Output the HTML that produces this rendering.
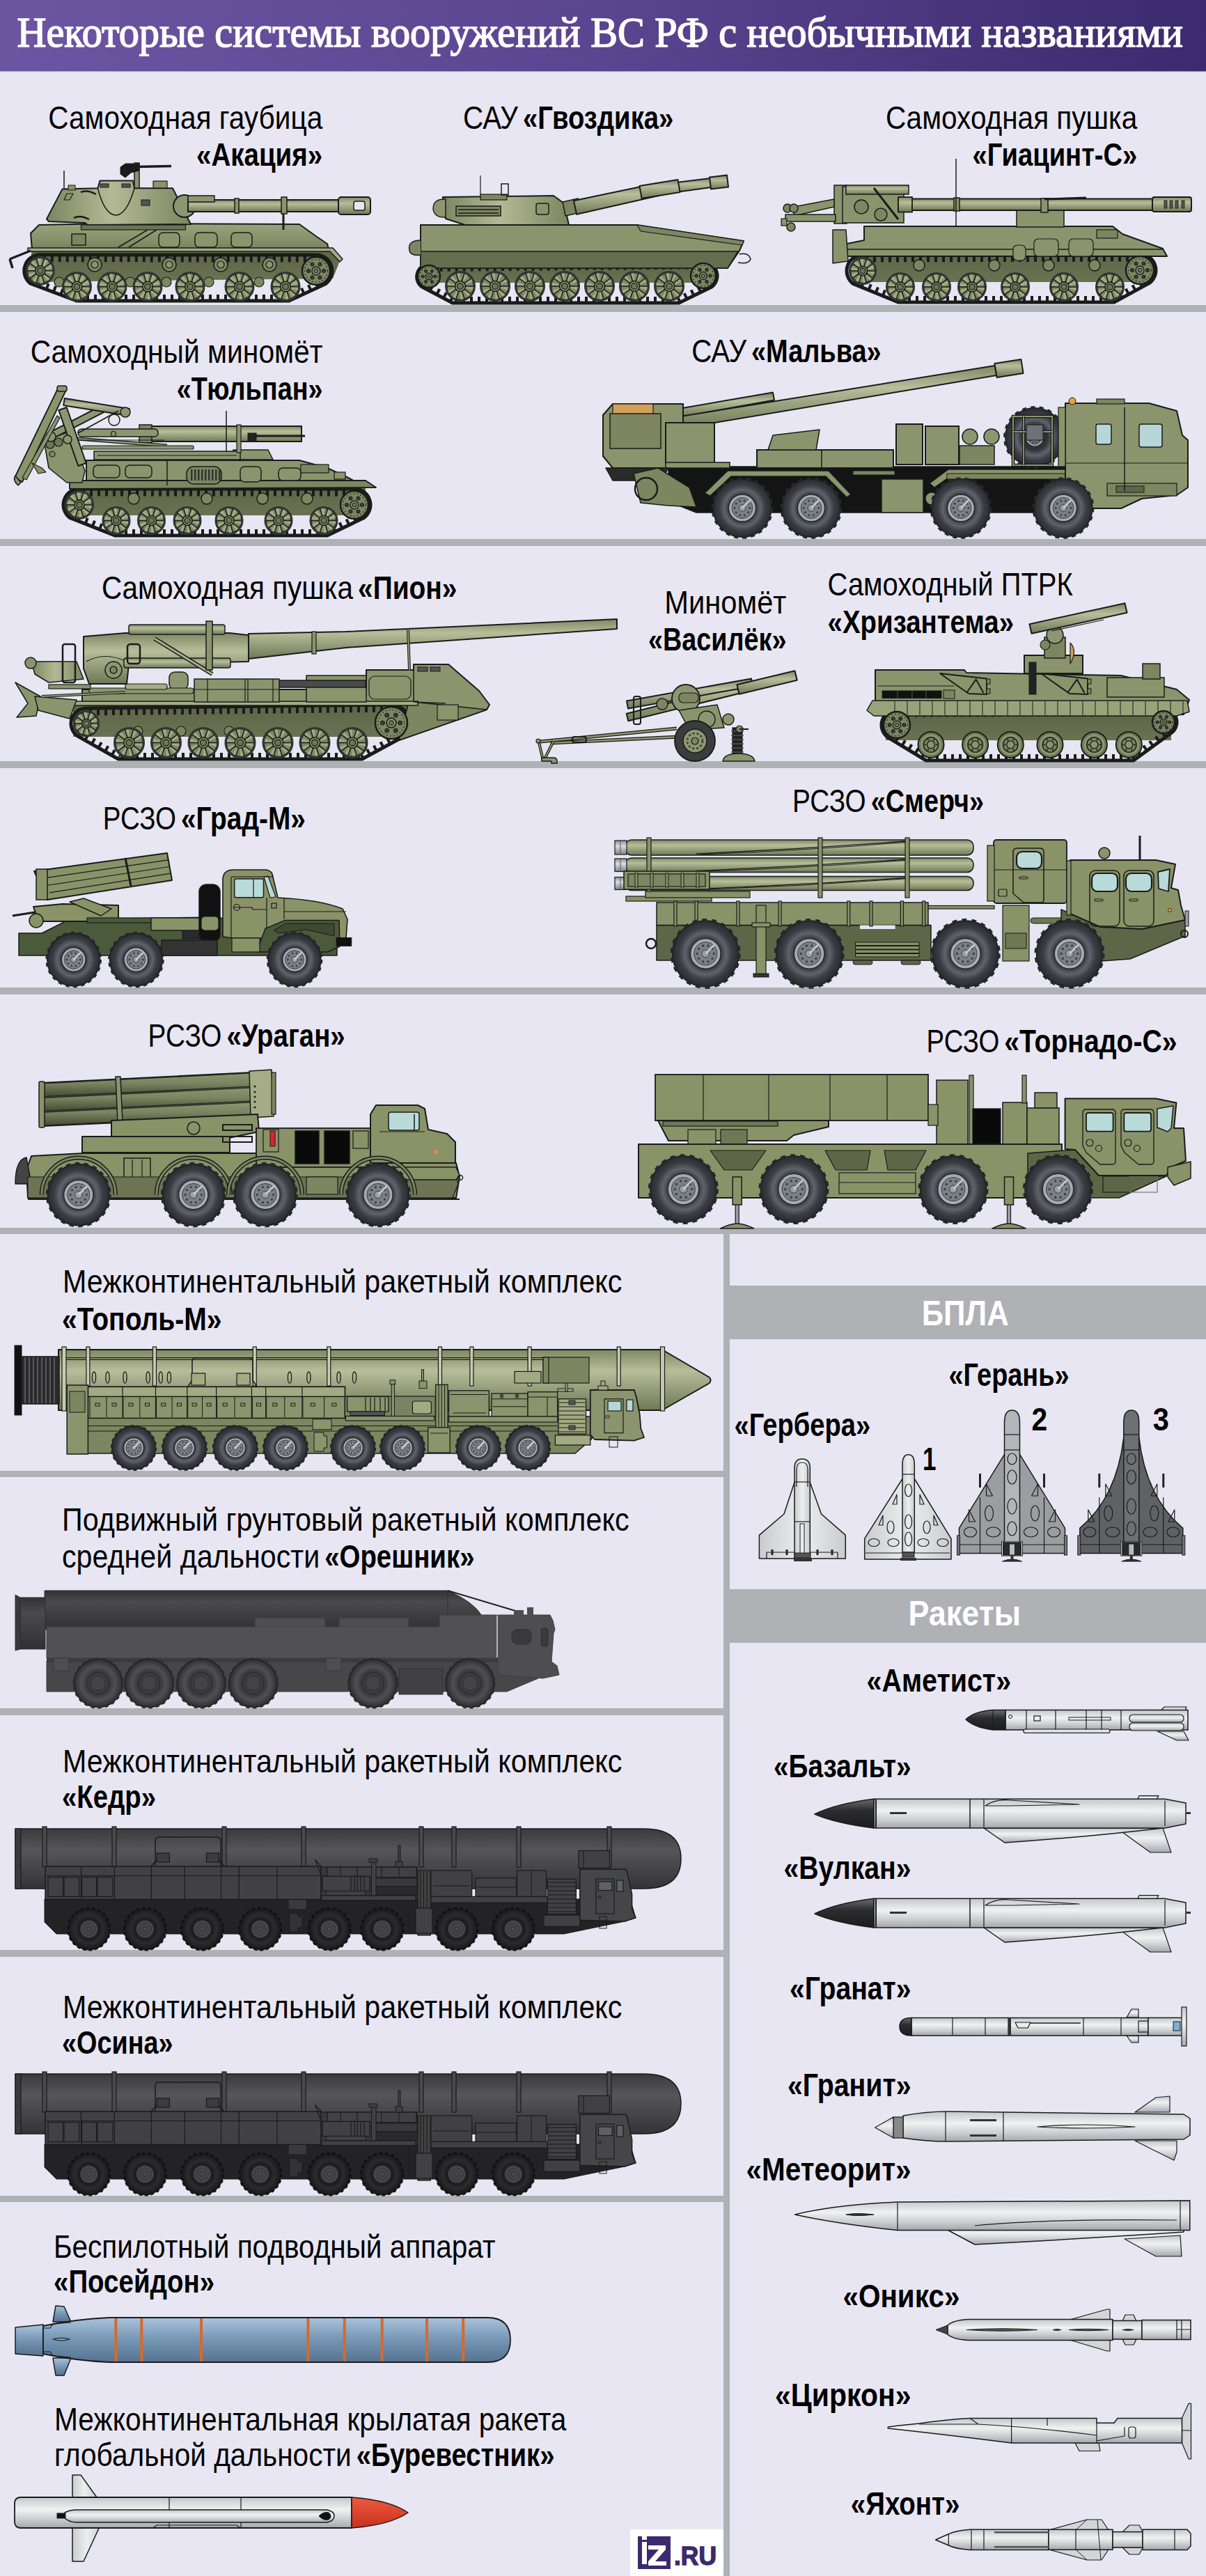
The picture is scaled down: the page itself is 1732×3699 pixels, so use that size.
<!DOCTYPE html><html><head><meta charset="utf-8"><title>Некоторые системы вооружений ВС РФ</title>
<style>html,body{margin:0;padding:0;background:#e8e6f2;}body{width:1732px;height:3699px;overflow:hidden;}svg{display:block;}text{font-family:"Liberation Sans",sans-serif;}.serif{font-family:"Liberation Serif",serif;}</style></head><body>
<svg width="1732" height="3699" viewBox="0 0 1732 3699">
<defs>
<linearGradient id="hdr" x1="0" y1="0" x2="1" y2="0">
<stop offset="0" stop-color="#6c56a2"/><stop offset="0.5" stop-color="#5a4590"/><stop offset="1" stop-color="#3b2a6e"/>
</linearGradient>


<linearGradient id="trk" x1="0" y1="0" x2="0" y2="1">
<stop offset="0" stop-color="#5e6446"/><stop offset="1" stop-color="#6b7252"/>
</linearGradient>
<linearGradient id="tube" x1="0" y1="0" x2="0" y2="1">
<stop offset="0" stop-color="#8e966d"/><stop offset="0.45" stop-color="#7a8260"/><stop offset="1" stop-color="#454b33"/>
</linearGradient>
<linearGradient id="metal" x1="0" y1="0" x2="0" y2="1">
<stop offset="0" stop-color="#8e9196"/><stop offset="0.4" stop-color="#d9dbdd"/><stop offset="1" stop-color="#7d8085"/>
</linearGradient>
<radialGradient id="tireb" cx="0.5" cy="0.5" r="0.5">
<stop offset="0" stop-color="#1d1d1f"/><stop offset="0.5" stop-color="#1d1d1f"/><stop offset="0.68" stop-color="#2c2c2e"/>
<stop offset="1" stop-color="#18181a"/>
</radialGradient>
<linearGradient id="olv" x1="0" y1="0" x2="0" y2="1">
<stop offset="0" stop-color="#9aa27a"/><stop offset="0.5" stop-color="#8b946c"/><stop offset="1" stop-color="#7a8360"/>
</linearGradient>
<linearGradient id="olh" x1="0" y1="0" x2="1" y2="0">
<stop offset="0" stop-color="#7d8660"/><stop offset="0.45" stop-color="#b3b994"/><stop offset="1" stop-color="#7d8660"/>
</linearGradient>
<linearGradient id="barrel" x1="0" y1="0" x2="0" y2="1">
<stop offset="0" stop-color="#7f8862"/><stop offset="0.35" stop-color="#b8bd9a"/><stop offset="1" stop-color="#6f7855"/>
</linearGradient>
<radialGradient id="tire" cx="0.5" cy="0.5" r="0.5">
<stop offset="0" stop-color="#2e3136"/><stop offset="0.42" stop-color="#2e3136"/><stop offset="0.62" stop-color="#5f636b"/>
<stop offset="0.8" stop-color="#393c42"/><stop offset="1" stop-color="#2a2c30"/>
</radialGradient>
<radialGradient id="tired" cx="0.5" cy="0.5" r="0.5">
<stop offset="0" stop-color="#3a3a3c"/><stop offset="0.5" stop-color="#3a3a3c"/><stop offset="0.7" stop-color="#505052"/>
<stop offset="1" stop-color="#2e2e30"/>
</radialGradient>
<linearGradient id="dcan" x1="0" y1="0" x2="0" y2="1">
<stop offset="0" stop-color="#333335"/><stop offset="0.3" stop-color="#4a4a4c"/><stop offset="1" stop-color="#313133"/>
</linearGradient>
<linearGradient id="dcan2" x1="0" y1="0" x2="0" y2="1">
<stop offset="0" stop-color="#3a3a3c"/><stop offset="0.35" stop-color="#565658"/><stop offset="1" stop-color="#343436"/>
</linearGradient>
<linearGradient id="mis" x1="0" y1="0" x2="0" y2="1">
<stop offset="0" stop-color="#c4c7ca"/><stop offset="0.4" stop-color="#eff1f2"/><stop offset="0.7" stop-color="#cdd0d3"/><stop offset="1" stop-color="#a4a7ab"/>
</linearGradient>
<linearGradient id="pos" x1="0" y1="0" x2="0" y2="1">
<stop offset="0" stop-color="#a9c3dc"/><stop offset="0.5" stop-color="#7595b4"/><stop offset="1" stop-color="#56738f"/>
</linearGradient>
<linearGradient id="nose" x1="0" y1="0" x2="0" y2="1">
<stop offset="0" stop-color="#ef5a3c"/><stop offset="1" stop-color="#c8301f"/>
</linearGradient>
<linearGradient id="dnose" x1="0" y1="0" x2="0" y2="1">
<stop offset="0" stop-color="#6a6b6e"/><stop offset="0.4" stop-color="#2c2c2e"/><stop offset="1" stop-color="#1c1c1e"/>
</linearGradient>
<linearGradient id="drl" x1="0" y1="0" x2="1" y2="0">
<stop offset="0" stop-color="#c9cbce"/><stop offset="0.5" stop-color="#eceeef"/><stop offset="1" stop-color="#c9cbce"/>
</linearGradient>

</defs>
<rect x="0" y="0" width="1732" height="3699" fill="#e8e6f2"/>
<rect x="0" y="0" width="1732" height="102.5" fill="url(#hdr)"/>
<text class="serif" x="24.5" y="67.2" font-size="62" font-weight="normal" fill="#fff" stroke="#fff" stroke-width="1.6" textLength="1674.5" lengthAdjust="spacingAndGlyphs" style="font-family:'Liberation Serif',serif">Некоторые системы вооружений ВС РФ с необычными названиями</text>
<rect x="0" y="438" width="1732" height="10" fill="#b0b1b5"/>
<rect x="0" y="774" width="1732" height="10" fill="#b0b1b5"/>
<rect x="0" y="1093" width="1732" height="10" fill="#b0b1b5"/>
<rect x="0" y="1418" width="1732" height="10" fill="#b0b1b5"/>
<rect x="0" y="1763" width="1732" height="9" fill="#b0b1b5"/>
<rect x="0" y="2112" width="1044" height="9" fill="#b0b1b5"/>
<rect x="0" y="2453" width="1044" height="10" fill="#b0b1b5"/>
<rect x="0" y="2800" width="1044" height="10" fill="#b0b1b5"/>
<rect x="0" y="3153" width="1044" height="9" fill="#b0b1b5"/>
<rect x="1039" y="1763" width="9" height="1936" fill="#b0b1b5"/>
<rect x="1048" y="1846" width="684" height="77" fill="#b0b1b5"/>
<rect x="1048" y="2282" width="684" height="77" fill="#b0b1b5"/>
<text x="1323.7" y="1902.6" font-size="50" fill="#fff" textLength="125.0" lengthAdjust="spacingAndGlyphs"><tspan font-weight="bold">БПЛА</tspan></text>
<text x="1304.5" y="2334.3" font-size="50" fill="#fff" textLength="161.6" lengthAdjust="spacingAndGlyphs"><tspan font-weight="bold">Ракеты</tspan></text>
<g id="akatsiya"><path d="M45,359 L478,359 L488,375 L478,400 L45,405 Z" fill="url(#trk)" stroke="none" stroke-width="0" stroke-linejoin="round" /><line x1="61.8" y1="371.8" x2="450" y2="372" stroke="#1b1b1b" stroke-width="9" stroke-dasharray="4 7"/><line x1="113" y1="427" x2="412" y2="427" stroke="#1b1b1b" stroke-width="8" stroke-dasharray="4 7"/><line x1="45.8" y1="402.5" x2="111.8" y2="427.3" stroke="#1b1b1b" stroke-width="8" stroke-dasharray="4 7"/><line x1="412.9" y1="427.5" x2="465.7" y2="402.9" stroke="#1b1b1b" stroke-width="8" stroke-dasharray="4 7"/><path d="M57.8,365.8 L454,366 A23,23 0 0 1 467.8,407.4 L415,432 L110,432 L44,407.2 A23,23 0 0 1 57.8,365.8 Z" fill="none" stroke="#1b1b1b" stroke-width="5" stroke-linejoin="round" /><polygon points="56,323 150,321 430,322 455,340 470,350 472,358 46,358 44,335" fill="url(#olv)" stroke="#1b1b1b" stroke-width="2" stroke-linejoin="round" /><polygon points="40,356 478,356 492,372 488,376 474,361 40,361" fill="#a6ad86" stroke="#1b1b1b" stroke-width="1.5" stroke-linejoin="round" /><line x1="14" y1="372" x2="44" y2="360" stroke="#1b1b1b" stroke-width="3.5" /><line x1="14" y1="372" x2="18" y2="385" stroke="#1b1b1b" stroke-width="3.5" /><rect x="103" y="336" width="20" height="16" rx="0" fill="#7d8660" stroke="#1b1b1b" stroke-width="1.5" /><rect x="228" y="334" width="30" height="21" rx="6" fill="#8b946c" stroke="#1b1b1b" stroke-width="1.5" /><rect x="280" y="334" width="32" height="21" rx="6" fill="#8b946c" stroke="#1b1b1b" stroke-width="1.5" /><rect x="332" y="334" width="30" height="21" rx="6" fill="#8b946c" stroke="#1b1b1b" stroke-width="1.5" /><line x1="170" y1="355" x2="212" y2="330" stroke="#1b1b1b" stroke-width="1.5" /><line x1="185" y1="355" x2="225" y2="330" stroke="#1b1b1b" stroke-width="1.5" /><polygon points="67,314.5 89.6,271.4 140.3,270.3 143.5,259.5 191,259.5 193,270.3 248,270.3 274,322 126,323 122,320 70,318" fill="url(#olh)" stroke="#1b1b1b" stroke-width="2" stroke-linejoin="round" /><path d="M140.3,270.3 Q150,308 166,309 Q182,309 193,270.3" fill="none" stroke="#1b1b1b" stroke-width="1.5" stroke-linejoin="round" /><rect x="203" y="287" width="12" height="8" rx="0" fill="#555" stroke="#1b1b1b" stroke-width="1" /><path d="M116,276 Q125,272 138,279" fill="none" stroke="#1b1b1b" stroke-width="2.5" stroke-linejoin="round" /><path d="M106,313 Q115,308 128,315" fill="none" stroke="#1b1b1b" stroke-width="2.5" stroke-linejoin="round" /><polygon points="96,278 105,278 100,287 92,287" fill="none" stroke="#1b1b1b" stroke-width="1.2" stroke-linejoin="round" /><rect x="144" y="264" width="12" height="5" rx="0" fill="#555" stroke="#1b1b1b" stroke-width="1" /><rect x="175" y="264" width="12" height="5" rx="0" fill="#555" stroke="#1b1b1b" stroke-width="1" /><rect x="116.5" y="323" width="150" height="7" rx="0" fill="#6d7353" stroke="#1b1b1b" stroke-width="1.2" /><circle cx="265" cy="296" r="16" fill="#8d9670" stroke="#1b1b1b" stroke-width="2" /><rect x="270" y="287" width="220" height="17" rx="0" fill="url(#barrel)" stroke="#1b1b1b" stroke-width="2" /><rect x="270" y="281" width="38" height="9" rx="0" fill="#8d9670" stroke="#1b1b1b" stroke-width="1.5" /><rect x="337" y="285" width="6" height="21" rx="0" fill="#8b946c" stroke="#1b1b1b" stroke-width="1.5" /><rect x="404" y="283" width="8" height="24" rx="0" fill="#8b946c" stroke="#1b1b1b" stroke-width="1.5" /><rect x="486" y="283" width="46" height="25" rx="4" fill="url(#barrel)" stroke="#1b1b1b" stroke-width="2" /><rect x="508" y="289" width="16" height="13" rx="3" fill="#e8e6f2" stroke="#1b1b1b" stroke-width="1.5" /><line x1="407" y1="307" x2="407" y2="330" stroke="#1b1b1b" stroke-width="3" /><rect x="193" y="234" width="7" height="36" rx="0" fill="#8b946c" stroke="#1b1b1b" stroke-width="1.5" /><path d="M173,240 L180,235 L200,235 L200,245 L188,248 L180,255 L173,250 Z" fill="#1a1a1a" stroke="#1b1b1b" stroke-width="1" stroke-linejoin="round" /><line x1="195" y1="239.5" x2="246" y2="238.5" stroke="#1b1b1b" stroke-width="3.5" /><rect x="220" y="260" width="20" height="10" rx="0" fill="#8b946c" stroke="#1b1b1b" stroke-width="1.2" /><line x1="92" y1="245" x2="92" y2="272" stroke="#1b1b1b" stroke-width="1.5" /><rect x="98" y="266" width="10" height="7" rx="0" fill="#8b946c" stroke="#1b1b1b" stroke-width="1" /><circle cx="57.8" cy="388.8" r="19.2" fill="#7f8862" stroke="#333436" stroke-width="3.6" /><circle cx="57.8" cy="388.8" r="12.6" fill="none" stroke="#a3aa82" stroke-width="10.5" stroke-dasharray="4 4"/><line x1="64.9" y1="388.8" x2="76.3" y2="388.8" stroke="#1e1e1e" stroke-width="1.6" /><line x1="63.6" y1="393" x2="72.8" y2="399.7" stroke="#1e1e1e" stroke-width="1.6" /><line x1="60" y1="395.6" x2="63.5" y2="406.4" stroke="#1e1e1e" stroke-width="1.6" /><line x1="55.6" y1="395.6" x2="52.1" y2="406.4" stroke="#1e1e1e" stroke-width="1.6" /><line x1="52" y1="393" x2="42.8" y2="399.7" stroke="#1e1e1e" stroke-width="1.6" /><line x1="50.7" y1="388.8" x2="39.3" y2="388.8" stroke="#1e1e1e" stroke-width="1.6" /><line x1="52" y1="384.6" x2="42.8" y2="377.9" stroke="#1e1e1e" stroke-width="1.6" /><line x1="55.6" y1="382" x2="52.1" y2="371.2" stroke="#1e1e1e" stroke-width="1.6" /><line x1="60" y1="382" x2="63.5" y2="371.2" stroke="#1e1e1e" stroke-width="1.6" /><line x1="63.6" y1="384.6" x2="72.8" y2="377.9" stroke="#1e1e1e" stroke-width="1.6" /><circle cx="57.8" cy="388.8" r="7.1" fill="#8b946c" stroke="#1b1b1b" stroke-width="1.6" /><circle cx="57.8" cy="388.8" r="4.2" fill="#6e7655" stroke="#1b1b1b" stroke-width="1.3" /><circle cx="136" cy="380" r="10" fill="#7d8660" stroke="#1b1b1b" stroke-width="1.5" /><circle cx="136" cy="380" r="5" fill="#8b946c" stroke="#1b1b1b" stroke-width="1.2" /><circle cx="243" cy="380" r="10" fill="#7d8660" stroke="#1b1b1b" stroke-width="1.5" /><circle cx="243" cy="380" r="5" fill="#8b946c" stroke="#1b1b1b" stroke-width="1.2" /><circle cx="317" cy="380" r="10" fill="#7d8660" stroke="#1b1b1b" stroke-width="1.5" /><circle cx="317" cy="380" r="5" fill="#8b946c" stroke="#1b1b1b" stroke-width="1.2" /><circle cx="387" cy="380" r="10" fill="#7d8660" stroke="#1b1b1b" stroke-width="1.5" /><circle cx="387" cy="380" r="5" fill="#8b946c" stroke="#1b1b1b" stroke-width="1.2" /><circle cx="85" cy="405" r="7" fill="#7d8660" stroke="#1b1b1b" stroke-width="1.2" /><circle cx="187" cy="405" r="7" fill="#7d8660" stroke="#1b1b1b" stroke-width="1.2" /><circle cx="239" cy="405" r="7" fill="#7d8660" stroke="#1b1b1b" stroke-width="1.2" /><circle cx="300" cy="405" r="7" fill="#7d8660" stroke="#1b1b1b" stroke-width="1.2" /><circle cx="372" cy="405" r="7" fill="#7d8660" stroke="#1b1b1b" stroke-width="1.2" /><circle cx="110.5" cy="411.6" r="19.7" fill="#7f8862" stroke="#333436" stroke-width="3.6" /><circle cx="110.5" cy="411.6" r="12.9" fill="none" stroke="#a3aa82" stroke-width="10.75" stroke-dasharray="4.1 4.1"/><line x1="117.8" y1="411.6" x2="129.4" y2="411.6" stroke="#1e1e1e" stroke-width="1.6" /><line x1="116.4" y1="415.9" x2="125.8" y2="422.7" stroke="#1e1e1e" stroke-width="1.6" /><line x1="112.8" y1="418.6" x2="116.3" y2="429.6" stroke="#1e1e1e" stroke-width="1.6" /><line x1="108.2" y1="418.6" x2="104.7" y2="429.6" stroke="#1e1e1e" stroke-width="1.6" /><line x1="104.6" y1="415.9" x2="95.2" y2="422.7" stroke="#1e1e1e" stroke-width="1.6" /><line x1="103.2" y1="411.6" x2="91.6" y2="411.6" stroke="#1e1e1e" stroke-width="1.6" /><line x1="104.6" y1="407.3" x2="95.2" y2="400.5" stroke="#1e1e1e" stroke-width="1.6" /><line x1="108.2" y1="404.6" x2="104.7" y2="393.6" stroke="#1e1e1e" stroke-width="1.6" /><line x1="112.8" y1="404.6" x2="116.3" y2="393.6" stroke="#1e1e1e" stroke-width="1.6" /><line x1="116.4" y1="407.3" x2="125.8" y2="400.5" stroke="#1e1e1e" stroke-width="1.6" /><circle cx="110.5" cy="411.6" r="7.3" fill="#8b946c" stroke="#1b1b1b" stroke-width="1.6" /><circle cx="110.5" cy="411.6" r="4.3" fill="#6e7655" stroke="#1b1b1b" stroke-width="1.3" /><circle cx="161" cy="411.6" r="19.7" fill="#7f8862" stroke="#333436" stroke-width="3.6" /><circle cx="161" cy="411.6" r="12.9" fill="none" stroke="#a3aa82" stroke-width="10.75" stroke-dasharray="4.1 4.1"/><line x1="168.3" y1="411.6" x2="179.9" y2="411.6" stroke="#1e1e1e" stroke-width="1.6" /><line x1="166.9" y1="415.9" x2="176.3" y2="422.7" stroke="#1e1e1e" stroke-width="1.6" /><line x1="163.3" y1="418.6" x2="166.8" y2="429.6" stroke="#1e1e1e" stroke-width="1.6" /><line x1="158.7" y1="418.6" x2="155.2" y2="429.6" stroke="#1e1e1e" stroke-width="1.6" /><line x1="155.1" y1="415.9" x2="145.7" y2="422.7" stroke="#1e1e1e" stroke-width="1.6" /><line x1="153.7" y1="411.6" x2="142.1" y2="411.6" stroke="#1e1e1e" stroke-width="1.6" /><line x1="155.1" y1="407.3" x2="145.7" y2="400.5" stroke="#1e1e1e" stroke-width="1.6" /><line x1="158.7" y1="404.6" x2="155.2" y2="393.6" stroke="#1e1e1e" stroke-width="1.6" /><line x1="163.3" y1="404.6" x2="166.8" y2="393.6" stroke="#1e1e1e" stroke-width="1.6" /><line x1="166.9" y1="407.3" x2="176.3" y2="400.5" stroke="#1e1e1e" stroke-width="1.6" /><circle cx="161" cy="411.6" r="7.3" fill="#8b946c" stroke="#1b1b1b" stroke-width="1.6" /><circle cx="161" cy="411.6" r="4.3" fill="#6e7655" stroke="#1b1b1b" stroke-width="1.3" /><circle cx="212" cy="411.6" r="19.7" fill="#7f8862" stroke="#333436" stroke-width="3.6" /><circle cx="212" cy="411.6" r="12.9" fill="none" stroke="#a3aa82" stroke-width="10.75" stroke-dasharray="4.1 4.1"/><line x1="219.3" y1="411.6" x2="230.9" y2="411.6" stroke="#1e1e1e" stroke-width="1.6" /><line x1="217.9" y1="415.9" x2="227.3" y2="422.7" stroke="#1e1e1e" stroke-width="1.6" /><line x1="214.3" y1="418.6" x2="217.8" y2="429.6" stroke="#1e1e1e" stroke-width="1.6" /><line x1="209.7" y1="418.6" x2="206.2" y2="429.6" stroke="#1e1e1e" stroke-width="1.6" /><line x1="206.1" y1="415.9" x2="196.7" y2="422.7" stroke="#1e1e1e" stroke-width="1.6" /><line x1="204.7" y1="411.6" x2="193.1" y2="411.6" stroke="#1e1e1e" stroke-width="1.6" /><line x1="206.1" y1="407.3" x2="196.7" y2="400.5" stroke="#1e1e1e" stroke-width="1.6" /><line x1="209.7" y1="404.6" x2="206.2" y2="393.6" stroke="#1e1e1e" stroke-width="1.6" /><line x1="214.3" y1="404.6" x2="217.8" y2="393.6" stroke="#1e1e1e" stroke-width="1.6" /><line x1="217.9" y1="407.3" x2="227.3" y2="400.5" stroke="#1e1e1e" stroke-width="1.6" /><circle cx="212" cy="411.6" r="7.3" fill="#8b946c" stroke="#1b1b1b" stroke-width="1.6" /><circle cx="212" cy="411.6" r="4.3" fill="#6e7655" stroke="#1b1b1b" stroke-width="1.3" /><circle cx="273" cy="411.6" r="19.7" fill="#7f8862" stroke="#333436" stroke-width="3.6" /><circle cx="273" cy="411.6" r="12.9" fill="none" stroke="#a3aa82" stroke-width="10.75" stroke-dasharray="4.1 4.1"/><line x1="280.3" y1="411.6" x2="291.9" y2="411.6" stroke="#1e1e1e" stroke-width="1.6" /><line x1="278.9" y1="415.9" x2="288.3" y2="422.7" stroke="#1e1e1e" stroke-width="1.6" /><line x1="275.3" y1="418.6" x2="278.8" y2="429.6" stroke="#1e1e1e" stroke-width="1.6" /><line x1="270.7" y1="418.6" x2="267.2" y2="429.6" stroke="#1e1e1e" stroke-width="1.6" /><line x1="267.1" y1="415.9" x2="257.7" y2="422.7" stroke="#1e1e1e" stroke-width="1.6" /><line x1="265.7" y1="411.6" x2="254.1" y2="411.6" stroke="#1e1e1e" stroke-width="1.6" /><line x1="267.1" y1="407.3" x2="257.7" y2="400.5" stroke="#1e1e1e" stroke-width="1.6" /><line x1="270.7" y1="404.6" x2="267.2" y2="393.6" stroke="#1e1e1e" stroke-width="1.6" /><line x1="275.3" y1="404.6" x2="278.8" y2="393.6" stroke="#1e1e1e" stroke-width="1.6" /><line x1="278.9" y1="407.3" x2="288.3" y2="400.5" stroke="#1e1e1e" stroke-width="1.6" /><circle cx="273" cy="411.6" r="7.3" fill="#8b946c" stroke="#1b1b1b" stroke-width="1.6" /><circle cx="273" cy="411.6" r="4.3" fill="#6e7655" stroke="#1b1b1b" stroke-width="1.3" /><circle cx="344" cy="411.6" r="19.7" fill="#7f8862" stroke="#333436" stroke-width="3.6" /><circle cx="344" cy="411.6" r="12.9" fill="none" stroke="#a3aa82" stroke-width="10.75" stroke-dasharray="4.1 4.1"/><line x1="351.3" y1="411.6" x2="362.9" y2="411.6" stroke="#1e1e1e" stroke-width="1.6" /><line x1="349.9" y1="415.9" x2="359.3" y2="422.7" stroke="#1e1e1e" stroke-width="1.6" /><line x1="346.3" y1="418.6" x2="349.8" y2="429.6" stroke="#1e1e1e" stroke-width="1.6" /><line x1="341.7" y1="418.6" x2="338.2" y2="429.6" stroke="#1e1e1e" stroke-width="1.6" /><line x1="338.1" y1="415.9" x2="328.7" y2="422.7" stroke="#1e1e1e" stroke-width="1.6" /><line x1="336.7" y1="411.6" x2="325.1" y2="411.6" stroke="#1e1e1e" stroke-width="1.6" /><line x1="338.1" y1="407.3" x2="328.7" y2="400.5" stroke="#1e1e1e" stroke-width="1.6" /><line x1="341.7" y1="404.6" x2="338.2" y2="393.6" stroke="#1e1e1e" stroke-width="1.6" /><line x1="346.3" y1="404.6" x2="349.8" y2="393.6" stroke="#1e1e1e" stroke-width="1.6" /><line x1="349.9" y1="407.3" x2="359.3" y2="400.5" stroke="#1e1e1e" stroke-width="1.6" /><circle cx="344" cy="411.6" r="7.3" fill="#8b946c" stroke="#1b1b1b" stroke-width="1.6" /><circle cx="344" cy="411.6" r="4.3" fill="#6e7655" stroke="#1b1b1b" stroke-width="1.3" /><circle cx="410" cy="411.6" r="19.7" fill="#7f8862" stroke="#333436" stroke-width="3.6" /><circle cx="410" cy="411.6" r="12.9" fill="none" stroke="#a3aa82" stroke-width="10.75" stroke-dasharray="4.1 4.1"/><line x1="417.3" y1="411.6" x2="428.9" y2="411.6" stroke="#1e1e1e" stroke-width="1.6" /><line x1="415.9" y1="415.9" x2="425.3" y2="422.7" stroke="#1e1e1e" stroke-width="1.6" /><line x1="412.3" y1="418.6" x2="415.8" y2="429.6" stroke="#1e1e1e" stroke-width="1.6" /><line x1="407.7" y1="418.6" x2="404.2" y2="429.6" stroke="#1e1e1e" stroke-width="1.6" /><line x1="404.1" y1="415.9" x2="394.7" y2="422.7" stroke="#1e1e1e" stroke-width="1.6" /><line x1="402.7" y1="411.6" x2="391.1" y2="411.6" stroke="#1e1e1e" stroke-width="1.6" /><line x1="404.1" y1="407.3" x2="394.7" y2="400.5" stroke="#1e1e1e" stroke-width="1.6" /><line x1="407.7" y1="404.6" x2="404.2" y2="393.6" stroke="#1e1e1e" stroke-width="1.6" /><line x1="412.3" y1="404.6" x2="415.8" y2="393.6" stroke="#1e1e1e" stroke-width="1.6" /><line x1="415.9" y1="407.3" x2="425.3" y2="400.5" stroke="#1e1e1e" stroke-width="1.6" /><circle cx="410" cy="411.6" r="7.3" fill="#8b946c" stroke="#1b1b1b" stroke-width="1.6" /><circle cx="410" cy="411.6" r="4.3" fill="#6e7655" stroke="#1b1b1b" stroke-width="1.3" /><circle cx="454" cy="389" r="20" fill="#7d8660" stroke="#1b1b1b" stroke-width="2.5" /><circle cx="454" cy="389" r="16.4" fill="none" stroke="#2a2a2a" stroke-width="1.2" stroke-dasharray="2 3"/><circle cx="465" cy="389" r="2.6" fill="#3a3a3a" stroke="#1b1b1b" stroke-width="1" /><circle cx="459.5" cy="398.5" r="2.6" fill="#3a3a3a" stroke="#1b1b1b" stroke-width="1" /><circle cx="448.5" cy="398.5" r="2.6" fill="#3a3a3a" stroke="#1b1b1b" stroke-width="1" /><circle cx="443" cy="389" r="2.6" fill="#3a3a3a" stroke="#1b1b1b" stroke-width="1" /><circle cx="448.5" cy="379.5" r="2.6" fill="#3a3a3a" stroke="#1b1b1b" stroke-width="1" /><circle cx="459.5" cy="379.5" r="2.6" fill="#3a3a3a" stroke="#1b1b1b" stroke-width="1" /><circle cx="454" cy="389" r="6" fill="#8d9670" stroke="#1b1b1b" stroke-width="1.5" /><circle cx="454" cy="389" r="3" fill="#6e7655" stroke="#1b1b1b" stroke-width="1" /></g>
<g id="gvozdika"><rect x="606" y="380" width="410" height="26" rx="0" fill="url(#trk)" stroke="none" stroke-width="0" /><line x1="620.7" y1="385.4" x2="1006" y2="382" stroke="#1b1b1b" stroke-width="9" stroke-dasharray="4 7"/><line x1="653" y1="430" x2="972" y2="430" stroke="#1b1b1b" stroke-width="8" stroke-dasharray="4 7"/><line x1="608.2" y1="407.4" x2="652.3" y2="430.6" stroke="#1b1b1b" stroke-width="8" stroke-dasharray="4 7"/><line x1="972.8" y1="430.5" x2="1019.8" y2="407.5" stroke="#1b1b1b" stroke-width="8" stroke-dasharray="4 7"/><path d="M616.7,379.4 L1010,376 A20,20 0 0 1 1022,412 L975,435 L650,435 L605.9,411.8 A18,18 0 0 1 616.7,379.4 Z" fill="none" stroke="#1b1b1b" stroke-width="5" stroke-linejoin="round" /><polygon points="604,323 915,323 1068,346 1062,360 1045,385 604,385" fill="#8b946c" stroke="#1b1b1b" stroke-width="2" stroke-linejoin="round" /><polygon points="604,361 1060,361 1045,385 604,385" fill="#666c4e" stroke="#1b1b1b" stroke-width="1.5" stroke-linejoin="round" /><line x1="604" y1="333" x2="1060" y2="350" stroke="#1b1b1b" stroke-width="1.2" opacity="0"/><polygon points="915,323 1068,346 1066,352 920,332" fill="#7d8660" stroke="#1b1b1b" stroke-width="1.2" stroke-linejoin="round" /><path d="M604,345 Q585,345 588,360 Q590,368 604,366" fill="#7d8660" stroke="#1b1b1b" stroke-width="1.5" stroke-linejoin="round" /><path d="M1062,365 Q1075,362 1078,372 Q1075,380 1060,377" fill="none" stroke="#1b1b1b" stroke-width="1.5" stroke-linejoin="round" /><polygon points="636,283 795,281 810,292 817,323 668,323 640,314" fill="url(#olh)" stroke="#1b1b1b" stroke-width="2" stroke-linejoin="round" /><path d="M640,286 Q622,285 622,300 Q624,313 640,312 Z" fill="#8d9670" stroke="#1b1b1b" stroke-width="1.5" stroke-linejoin="round" /><rect x="655" y="296" width="64" height="14" rx="0" fill="#7d8660" stroke="#1b1b1b" stroke-width="1.5" /><line x1="658" y1="301" x2="716" y2="301" stroke="#1b1b1b" stroke-width="1.5" /><line x1="658" y1="306" x2="716" y2="306" stroke="#1b1b1b" stroke-width="1.5" /><rect x="770" y="292" width="18" height="16" rx="3" fill="#8b946c" stroke="#1b1b1b" stroke-width="1.5" /><rect x="690" y="279" width="38" height="8" rx="0" fill="#7d8660" stroke="#1b1b1b" stroke-width="1.2" /><rect x="720" y="264" width="10" height="16" rx="0" fill="none" stroke="#1b1b1b" stroke-width="1.5" /><line x1="690" y1="252" x2="690" y2="280" stroke="#1b1b1b" stroke-width="1.2" /><polygon points="808,290 830,285 834,305 812,310" fill="#7d8660" stroke="#1b1b1b" stroke-width="1.5" stroke-linejoin="round" /><polygon points="828.1,307.8 946.9,280.8 943.1,263.2 823.9,288.2" fill="url(#barrel)" stroke="#1b1b1b" stroke-width="2" stroke-linejoin="round" /><polygon points="940.9,279.9 1025.8,268.4 1024.2,255.6 939.1,266.1" fill="url(#barrel)" stroke="#1b1b1b" stroke-width="2" stroke-linejoin="round" /><polygon points="921.5,284.9 976.5,275.9 973.5,258.1 918.5,267.1" fill="url(#barrel)" stroke="#1b1b1b" stroke-width="2" stroke-linejoin="round" /><polygon points="1021,271.4 1046,268.4 1044,251.6 1019,254.6" fill="url(#barrel)" stroke="#1b1b1b" stroke-width="2" stroke-linejoin="round" /><circle cx="616" cy="397" r="16" fill="#7d8660" stroke="#1b1b1b" stroke-width="2.5" /><circle cx="616" cy="397" r="13.1" fill="none" stroke="#2a2a2a" stroke-width="1.2" stroke-dasharray="2 3"/><circle cx="624.8" cy="397" r="2.1" fill="#3a3a3a" stroke="#1b1b1b" stroke-width="1" /><circle cx="620.4" cy="404.6" r="2.1" fill="#3a3a3a" stroke="#1b1b1b" stroke-width="1" /><circle cx="611.6" cy="404.6" r="2.1" fill="#3a3a3a" stroke="#1b1b1b" stroke-width="1" /><circle cx="607.2" cy="397" r="2.1" fill="#3a3a3a" stroke="#1b1b1b" stroke-width="1" /><circle cx="611.6" cy="389.4" r="2.1" fill="#3a3a3a" stroke="#1b1b1b" stroke-width="1" /><circle cx="620.4" cy="389.4" r="2.1" fill="#3a3a3a" stroke="#1b1b1b" stroke-width="1" /><circle cx="616" cy="397" r="4.8" fill="#8d9670" stroke="#1b1b1b" stroke-width="1.5" /><circle cx="616" cy="397" r="2.4" fill="#6e7655" stroke="#1b1b1b" stroke-width="1" /><circle cx="661" cy="411" r="20.2" fill="#7f8862" stroke="#333436" stroke-width="3.6" /><circle cx="661" cy="411" r="13.2" fill="none" stroke="#a3aa82" stroke-width="11.0" stroke-dasharray="4.1 4.1"/><line x1="668.5" y1="411" x2="680.4" y2="411" stroke="#1e1e1e" stroke-width="1.6" /><line x1="667.1" y1="415.4" x2="676.7" y2="422.4" stroke="#1e1e1e" stroke-width="1.6" /><line x1="663.3" y1="418.1" x2="667" y2="429.4" stroke="#1e1e1e" stroke-width="1.6" /><line x1="658.7" y1="418.1" x2="655" y2="429.4" stroke="#1e1e1e" stroke-width="1.6" /><line x1="654.9" y1="415.4" x2="645.3" y2="422.4" stroke="#1e1e1e" stroke-width="1.6" /><line x1="653.5" y1="411" x2="641.6" y2="411" stroke="#1e1e1e" stroke-width="1.6" /><line x1="654.9" y1="406.6" x2="645.3" y2="399.6" stroke="#1e1e1e" stroke-width="1.6" /><line x1="658.7" y1="403.9" x2="655" y2="392.6" stroke="#1e1e1e" stroke-width="1.6" /><line x1="663.3" y1="403.9" x2="667" y2="392.6" stroke="#1e1e1e" stroke-width="1.6" /><line x1="667.1" y1="406.6" x2="676.7" y2="399.6" stroke="#1e1e1e" stroke-width="1.6" /><circle cx="661" cy="411" r="7.5" fill="#8b946c" stroke="#1b1b1b" stroke-width="1.6" /><circle cx="661" cy="411" r="4.4" fill="#6e7655" stroke="#1b1b1b" stroke-width="1.3" /><circle cx="711" cy="411" r="20.2" fill="#7f8862" stroke="#333436" stroke-width="3.6" /><circle cx="711" cy="411" r="13.2" fill="none" stroke="#a3aa82" stroke-width="11.0" stroke-dasharray="4.1 4.1"/><line x1="718.5" y1="411" x2="730.4" y2="411" stroke="#1e1e1e" stroke-width="1.6" /><line x1="717.1" y1="415.4" x2="726.7" y2="422.4" stroke="#1e1e1e" stroke-width="1.6" /><line x1="713.3" y1="418.1" x2="717" y2="429.4" stroke="#1e1e1e" stroke-width="1.6" /><line x1="708.7" y1="418.1" x2="705" y2="429.4" stroke="#1e1e1e" stroke-width="1.6" /><line x1="704.9" y1="415.4" x2="695.3" y2="422.4" stroke="#1e1e1e" stroke-width="1.6" /><line x1="703.5" y1="411" x2="691.6" y2="411" stroke="#1e1e1e" stroke-width="1.6" /><line x1="704.9" y1="406.6" x2="695.3" y2="399.6" stroke="#1e1e1e" stroke-width="1.6" /><line x1="708.7" y1="403.9" x2="705" y2="392.6" stroke="#1e1e1e" stroke-width="1.6" /><line x1="713.3" y1="403.9" x2="717" y2="392.6" stroke="#1e1e1e" stroke-width="1.6" /><line x1="717.1" y1="406.6" x2="726.7" y2="399.6" stroke="#1e1e1e" stroke-width="1.6" /><circle cx="711" cy="411" r="7.5" fill="#8b946c" stroke="#1b1b1b" stroke-width="1.6" /><circle cx="711" cy="411" r="4.4" fill="#6e7655" stroke="#1b1b1b" stroke-width="1.3" /><circle cx="761" cy="411" r="20.2" fill="#7f8862" stroke="#333436" stroke-width="3.6" /><circle cx="761" cy="411" r="13.2" fill="none" stroke="#a3aa82" stroke-width="11.0" stroke-dasharray="4.1 4.1"/><line x1="768.5" y1="411" x2="780.4" y2="411" stroke="#1e1e1e" stroke-width="1.6" /><line x1="767.1" y1="415.4" x2="776.7" y2="422.4" stroke="#1e1e1e" stroke-width="1.6" /><line x1="763.3" y1="418.1" x2="767" y2="429.4" stroke="#1e1e1e" stroke-width="1.6" /><line x1="758.7" y1="418.1" x2="755" y2="429.4" stroke="#1e1e1e" stroke-width="1.6" /><line x1="754.9" y1="415.4" x2="745.3" y2="422.4" stroke="#1e1e1e" stroke-width="1.6" /><line x1="753.5" y1="411" x2="741.6" y2="411" stroke="#1e1e1e" stroke-width="1.6" /><line x1="754.9" y1="406.6" x2="745.3" y2="399.6" stroke="#1e1e1e" stroke-width="1.6" /><line x1="758.7" y1="403.9" x2="755" y2="392.6" stroke="#1e1e1e" stroke-width="1.6" /><line x1="763.3" y1="403.9" x2="767" y2="392.6" stroke="#1e1e1e" stroke-width="1.6" /><line x1="767.1" y1="406.6" x2="776.7" y2="399.6" stroke="#1e1e1e" stroke-width="1.6" /><circle cx="761" cy="411" r="7.5" fill="#8b946c" stroke="#1b1b1b" stroke-width="1.6" /><circle cx="761" cy="411" r="4.4" fill="#6e7655" stroke="#1b1b1b" stroke-width="1.3" /><circle cx="811" cy="411" r="20.2" fill="#7f8862" stroke="#333436" stroke-width="3.6" /><circle cx="811" cy="411" r="13.2" fill="none" stroke="#a3aa82" stroke-width="11.0" stroke-dasharray="4.1 4.1"/><line x1="818.5" y1="411" x2="830.4" y2="411" stroke="#1e1e1e" stroke-width="1.6" /><line x1="817.1" y1="415.4" x2="826.7" y2="422.4" stroke="#1e1e1e" stroke-width="1.6" /><line x1="813.3" y1="418.1" x2="817" y2="429.4" stroke="#1e1e1e" stroke-width="1.6" /><line x1="808.7" y1="418.1" x2="805" y2="429.4" stroke="#1e1e1e" stroke-width="1.6" /><line x1="804.9" y1="415.4" x2="795.3" y2="422.4" stroke="#1e1e1e" stroke-width="1.6" /><line x1="803.5" y1="411" x2="791.6" y2="411" stroke="#1e1e1e" stroke-width="1.6" /><line x1="804.9" y1="406.6" x2="795.3" y2="399.6" stroke="#1e1e1e" stroke-width="1.6" /><line x1="808.7" y1="403.9" x2="805" y2="392.6" stroke="#1e1e1e" stroke-width="1.6" /><line x1="813.3" y1="403.9" x2="817" y2="392.6" stroke="#1e1e1e" stroke-width="1.6" /><line x1="817.1" y1="406.6" x2="826.7" y2="399.6" stroke="#1e1e1e" stroke-width="1.6" /><circle cx="811" cy="411" r="7.5" fill="#8b946c" stroke="#1b1b1b" stroke-width="1.6" /><circle cx="811" cy="411" r="4.4" fill="#6e7655" stroke="#1b1b1b" stroke-width="1.3" /><circle cx="861" cy="411" r="20.2" fill="#7f8862" stroke="#333436" stroke-width="3.6" /><circle cx="861" cy="411" r="13.2" fill="none" stroke="#a3aa82" stroke-width="11.0" stroke-dasharray="4.1 4.1"/><line x1="868.5" y1="411" x2="880.4" y2="411" stroke="#1e1e1e" stroke-width="1.6" /><line x1="867.1" y1="415.4" x2="876.7" y2="422.4" stroke="#1e1e1e" stroke-width="1.6" /><line x1="863.3" y1="418.1" x2="867" y2="429.4" stroke="#1e1e1e" stroke-width="1.6" /><line x1="858.7" y1="418.1" x2="855" y2="429.4" stroke="#1e1e1e" stroke-width="1.6" /><line x1="854.9" y1="415.4" x2="845.3" y2="422.4" stroke="#1e1e1e" stroke-width="1.6" /><line x1="853.5" y1="411" x2="841.6" y2="411" stroke="#1e1e1e" stroke-width="1.6" /><line x1="854.9" y1="406.6" x2="845.3" y2="399.6" stroke="#1e1e1e" stroke-width="1.6" /><line x1="858.7" y1="403.9" x2="855" y2="392.6" stroke="#1e1e1e" stroke-width="1.6" /><line x1="863.3" y1="403.9" x2="867" y2="392.6" stroke="#1e1e1e" stroke-width="1.6" /><line x1="867.1" y1="406.6" x2="876.7" y2="399.6" stroke="#1e1e1e" stroke-width="1.6" /><circle cx="861" cy="411" r="7.5" fill="#8b946c" stroke="#1b1b1b" stroke-width="1.6" /><circle cx="861" cy="411" r="4.4" fill="#6e7655" stroke="#1b1b1b" stroke-width="1.3" /><circle cx="911" cy="411" r="20.2" fill="#7f8862" stroke="#333436" stroke-width="3.6" /><circle cx="911" cy="411" r="13.2" fill="none" stroke="#a3aa82" stroke-width="11.0" stroke-dasharray="4.1 4.1"/><line x1="918.5" y1="411" x2="930.4" y2="411" stroke="#1e1e1e" stroke-width="1.6" /><line x1="917.1" y1="415.4" x2="926.7" y2="422.4" stroke="#1e1e1e" stroke-width="1.6" /><line x1="913.3" y1="418.1" x2="917" y2="429.4" stroke="#1e1e1e" stroke-width="1.6" /><line x1="908.7" y1="418.1" x2="905" y2="429.4" stroke="#1e1e1e" stroke-width="1.6" /><line x1="904.9" y1="415.4" x2="895.3" y2="422.4" stroke="#1e1e1e" stroke-width="1.6" /><line x1="903.5" y1="411" x2="891.6" y2="411" stroke="#1e1e1e" stroke-width="1.6" /><line x1="904.9" y1="406.6" x2="895.3" y2="399.6" stroke="#1e1e1e" stroke-width="1.6" /><line x1="908.7" y1="403.9" x2="905" y2="392.6" stroke="#1e1e1e" stroke-width="1.6" /><line x1="913.3" y1="403.9" x2="917" y2="392.6" stroke="#1e1e1e" stroke-width="1.6" /><line x1="917.1" y1="406.6" x2="926.7" y2="399.6" stroke="#1e1e1e" stroke-width="1.6" /><circle cx="911" cy="411" r="7.5" fill="#8b946c" stroke="#1b1b1b" stroke-width="1.6" /><circle cx="911" cy="411" r="4.4" fill="#6e7655" stroke="#1b1b1b" stroke-width="1.3" /><circle cx="961" cy="411" r="20.2" fill="#7f8862" stroke="#333436" stroke-width="3.6" /><circle cx="961" cy="411" r="13.2" fill="none" stroke="#a3aa82" stroke-width="11.0" stroke-dasharray="4.1 4.1"/><line x1="968.5" y1="411" x2="980.4" y2="411" stroke="#1e1e1e" stroke-width="1.6" /><line x1="967.1" y1="415.4" x2="976.7" y2="422.4" stroke="#1e1e1e" stroke-width="1.6" /><line x1="963.3" y1="418.1" x2="967" y2="429.4" stroke="#1e1e1e" stroke-width="1.6" /><line x1="958.7" y1="418.1" x2="955" y2="429.4" stroke="#1e1e1e" stroke-width="1.6" /><line x1="954.9" y1="415.4" x2="945.3" y2="422.4" stroke="#1e1e1e" stroke-width="1.6" /><line x1="953.5" y1="411" x2="941.6" y2="411" stroke="#1e1e1e" stroke-width="1.6" /><line x1="954.9" y1="406.6" x2="945.3" y2="399.6" stroke="#1e1e1e" stroke-width="1.6" /><line x1="958.7" y1="403.9" x2="955" y2="392.6" stroke="#1e1e1e" stroke-width="1.6" /><line x1="963.3" y1="403.9" x2="967" y2="392.6" stroke="#1e1e1e" stroke-width="1.6" /><line x1="967.1" y1="406.6" x2="976.7" y2="399.6" stroke="#1e1e1e" stroke-width="1.6" /><circle cx="961" cy="411" r="7.5" fill="#8b946c" stroke="#1b1b1b" stroke-width="1.6" /><circle cx="961" cy="411" r="4.4" fill="#6e7655" stroke="#1b1b1b" stroke-width="1.3" /><circle cx="1010" cy="396" r="18" fill="#7d8660" stroke="#1b1b1b" stroke-width="2.5" /><circle cx="1010" cy="396" r="14.8" fill="none" stroke="#2a2a2a" stroke-width="1.2" stroke-dasharray="2 3"/><circle cx="1019.9" cy="396" r="2.3" fill="#3a3a3a" stroke="#1b1b1b" stroke-width="1" /><circle cx="1015" cy="404.6" r="2.3" fill="#3a3a3a" stroke="#1b1b1b" stroke-width="1" /><circle cx="1005" cy="404.6" r="2.3" fill="#3a3a3a" stroke="#1b1b1b" stroke-width="1" /><circle cx="1000.1" cy="396" r="2.3" fill="#3a3a3a" stroke="#1b1b1b" stroke-width="1" /><circle cx="1005" cy="387.4" r="2.3" fill="#3a3a3a" stroke="#1b1b1b" stroke-width="1" /><circle cx="1015" cy="387.4" r="2.3" fill="#3a3a3a" stroke="#1b1b1b" stroke-width="1" /><circle cx="1010" cy="396" r="5.4" fill="#8d9670" stroke="#1b1b1b" stroke-width="1.5" /><circle cx="1010" cy="396" r="2.7" fill="#6e7655" stroke="#1b1b1b" stroke-width="1" /></g>
<g id="giatsint"><rect x="1225" y="360" width="425" height="45" rx="0" fill="url(#trk)" stroke="none" stroke-width="0" /><line x1="1243" y1="372" x2="1633" y2="371" stroke="#1b1b1b" stroke-width="9" stroke-dasharray="4 7"/><line x1="1293" y1="429" x2="1597" y2="429" stroke="#1b1b1b" stroke-width="8" stroke-dasharray="4 7"/><line x1="1227.1" y1="402.8" x2="1291.9" y2="429.4" stroke="#1b1b1b" stroke-width="8" stroke-dasharray="4 7"/><line x1="1597.6" y1="429.6" x2="1648.4" y2="402" stroke="#1b1b1b" stroke-width="8" stroke-dasharray="4 7"/><path d="M1239,366 L1637,365 A23,23 0 0 1 1650.8,406.4 L1600,434 L1290,434 L1225.2,407.4 A23,23 0 0 1 1239,366 Z" fill="none" stroke="#1b1b1b" stroke-width="5" stroke-linejoin="round" /><polygon points="1241,325 1598,325 1612,336 1670,357 1676,368 1216,368 1216,350 1241,345" fill="#8b946c" stroke="#1b1b1b" stroke-width="2" stroke-linejoin="round" /><line x1="1216" y1="358" x2="1670" y2="358" stroke="#1b1b1b" stroke-width="1.5" /><rect x="1460" y="302" width="68" height="24" rx="0" fill="#8b946c" stroke="#1b1b1b" stroke-width="1.5" /><rect x="1455" y="352" width="18" height="22" rx="6" fill="#8b946c" stroke="#1b1b1b" stroke-width="1.2" /><rect x="1485" y="343" width="35" height="25" rx="6" fill="#8b946c" stroke="#1b1b1b" stroke-width="1.2" /><rect x="1535" y="343" width="35" height="25" rx="6" fill="#8b946c" stroke="#1b1b1b" stroke-width="1.2" /><rect x="1575" y="330" width="30" height="12" rx="0" fill="#7d8660" stroke="#1b1b1b" stroke-width="1.2" /><rect x="1198" y="266" width="18" height="55" rx="0" fill="#8b946c" stroke="#1b1b1b" stroke-width="1.5" /><rect x="1210" y="268" width="88" height="52" rx="0" fill="#8b946c" stroke="#1b1b1b" stroke-width="1.5" /><rect x="1215" y="266" width="90" height="13" rx="0" fill="url(#barrel)" stroke="#1b1b1b" stroke-width="1.5" /><circle cx="1237" cy="297" r="10" fill="#7d8660" stroke="#1b1b1b" stroke-width="1.5" /><circle cx="1265" cy="308" r="9" fill="#7d8660" stroke="#1b1b1b" stroke-width="1.5" /><line x1="1255" y1="270" x2="1290" y2="315" stroke="#1b1b1b" stroke-width="3" /><polygon points="1140,297 1198,286 1198,297 1140,310" fill="#8b946c" stroke="#1b1b1b" stroke-width="1.5" stroke-linejoin="round" /><rect x="1128" y="308" width="72" height="10" rx="0" fill="#8b946c" stroke="#1b1b1b" stroke-width="1.5" /><circle cx="1131" cy="299" r="6" fill="#7d8660" stroke="#1b1b1b" stroke-width="1.5" /><circle cx="1140" cy="299" r="6" fill="#7d8660" stroke="#1b1b1b" stroke-width="1.5" /><circle cx="1136" cy="326" r="6" fill="#7d8660" stroke="#1b1b1b" stroke-width="1.5" /><rect x="1122" y="314" width="8" height="10" rx="0" fill="#8b946c" stroke="#1b1b1b" stroke-width="1.2" /><polygon points="1196,330 1215,330 1218,375 1196,378" fill="#8b946c" stroke="#1b1b1b" stroke-width="1.5" stroke-linejoin="round" /><rect x="1290" y="285.5" width="370" height="16.5" rx="0" fill="url(#barrel)" stroke="#1b1b1b" stroke-width="2" /><rect x="1290" y="283" width="20" height="21.5" rx="0" fill="url(#barrel)" stroke="#1b1b1b" stroke-width="1.8" /><rect x="1370" y="284" width="8" height="19" rx="0" fill="#8b946c" stroke="#1b1b1b" stroke-width="1.5" /><rect x="1655" y="283" width="56" height="21" rx="3" fill="url(#barrel)" stroke="#1b1b1b" stroke-width="2" /><rect x="1672" y="288" width="4" height="11" rx="0" fill="#555" stroke="#1b1b1b" stroke-width="0.8" /><rect x="1680" y="288" width="4" height="11" rx="0" fill="#555" stroke="#1b1b1b" stroke-width="0.8" /><rect x="1688" y="288" width="4" height="11" rx="0" fill="#555" stroke="#1b1b1b" stroke-width="0.8" /><rect x="1697" y="288" width="4" height="11" rx="0" fill="#555" stroke="#1b1b1b" stroke-width="0.8" /><line x1="1373" y1="228" x2="1373" y2="326" stroke="#1b1b1b" stroke-width="1.5" /><rect x="1495" y="285" width="10" height="20" rx="0" fill="#8b946c" stroke="#1b1b1b" stroke-width="1.5" /><line x1="1500" y1="286" x2="1560" y2="284" stroke="#1b1b1b" stroke-width="3" /><circle cx="1239" cy="389" r="18.2" fill="#7f8862" stroke="#333436" stroke-width="3.6" /><circle cx="1239" cy="389" r="12" fill="none" stroke="#a3aa82" stroke-width="10.0" stroke-dasharray="3.8 3.8"/><line x1="1245.8" y1="389" x2="1256.6" y2="389" stroke="#1e1e1e" stroke-width="1.6" /><line x1="1244.5" y1="393" x2="1253.2" y2="399.3" stroke="#1e1e1e" stroke-width="1.6" /><line x1="1241.1" y1="395.5" x2="1244.4" y2="405.7" stroke="#1e1e1e" stroke-width="1.6" /><line x1="1236.9" y1="395.5" x2="1233.6" y2="405.7" stroke="#1e1e1e" stroke-width="1.6" /><line x1="1233.5" y1="393" x2="1224.8" y2="399.3" stroke="#1e1e1e" stroke-width="1.6" /><line x1="1232.2" y1="389" x2="1221.4" y2="389" stroke="#1e1e1e" stroke-width="1.6" /><line x1="1233.5" y1="385" x2="1224.8" y2="378.7" stroke="#1e1e1e" stroke-width="1.6" /><line x1="1236.9" y1="382.5" x2="1233.6" y2="372.3" stroke="#1e1e1e" stroke-width="1.6" /><line x1="1241.1" y1="382.5" x2="1244.4" y2="372.3" stroke="#1e1e1e" stroke-width="1.6" /><line x1="1244.5" y1="385" x2="1253.2" y2="378.7" stroke="#1e1e1e" stroke-width="1.6" /><circle cx="1239" cy="389" r="6.8" fill="#8b946c" stroke="#1b1b1b" stroke-width="1.6" /><circle cx="1239" cy="389" r="4" fill="#6e7655" stroke="#1b1b1b" stroke-width="1.3" /><circle cx="1293" cy="412" r="19.2" fill="#7f8862" stroke="#333436" stroke-width="3.6" /><circle cx="1293" cy="412" r="12.6" fill="none" stroke="#a3aa82" stroke-width="10.5" stroke-dasharray="4 4"/><line x1="1300.1" y1="412" x2="1311.5" y2="412" stroke="#1e1e1e" stroke-width="1.6" /><line x1="1298.8" y1="416.2" x2="1308" y2="422.9" stroke="#1e1e1e" stroke-width="1.6" /><line x1="1295.2" y1="418.8" x2="1298.7" y2="429.6" stroke="#1e1e1e" stroke-width="1.6" /><line x1="1290.8" y1="418.8" x2="1287.3" y2="429.6" stroke="#1e1e1e" stroke-width="1.6" /><line x1="1287.2" y1="416.2" x2="1278" y2="422.9" stroke="#1e1e1e" stroke-width="1.6" /><line x1="1285.9" y1="412" x2="1274.5" y2="412" stroke="#1e1e1e" stroke-width="1.6" /><line x1="1287.2" y1="407.8" x2="1278" y2="401.1" stroke="#1e1e1e" stroke-width="1.6" /><line x1="1290.8" y1="405.2" x2="1287.3" y2="394.4" stroke="#1e1e1e" stroke-width="1.6" /><line x1="1295.2" y1="405.2" x2="1298.7" y2="394.4" stroke="#1e1e1e" stroke-width="1.6" /><line x1="1298.8" y1="407.8" x2="1308" y2="401.1" stroke="#1e1e1e" stroke-width="1.6" /><circle cx="1293" cy="412" r="7.1" fill="#8b946c" stroke="#1b1b1b" stroke-width="1.6" /><circle cx="1293" cy="412" r="4.2" fill="#6e7655" stroke="#1b1b1b" stroke-width="1.3" /><circle cx="1345" cy="412" r="19.2" fill="#7f8862" stroke="#333436" stroke-width="3.6" /><circle cx="1345" cy="412" r="12.6" fill="none" stroke="#a3aa82" stroke-width="10.5" stroke-dasharray="4 4"/><line x1="1352.1" y1="412" x2="1363.5" y2="412" stroke="#1e1e1e" stroke-width="1.6" /><line x1="1350.8" y1="416.2" x2="1360" y2="422.9" stroke="#1e1e1e" stroke-width="1.6" /><line x1="1347.2" y1="418.8" x2="1350.7" y2="429.6" stroke="#1e1e1e" stroke-width="1.6" /><line x1="1342.8" y1="418.8" x2="1339.3" y2="429.6" stroke="#1e1e1e" stroke-width="1.6" /><line x1="1339.2" y1="416.2" x2="1330" y2="422.9" stroke="#1e1e1e" stroke-width="1.6" /><line x1="1337.9" y1="412" x2="1326.5" y2="412" stroke="#1e1e1e" stroke-width="1.6" /><line x1="1339.2" y1="407.8" x2="1330" y2="401.1" stroke="#1e1e1e" stroke-width="1.6" /><line x1="1342.8" y1="405.2" x2="1339.3" y2="394.4" stroke="#1e1e1e" stroke-width="1.6" /><line x1="1347.2" y1="405.2" x2="1350.7" y2="394.4" stroke="#1e1e1e" stroke-width="1.6" /><line x1="1350.8" y1="407.8" x2="1360" y2="401.1" stroke="#1e1e1e" stroke-width="1.6" /><circle cx="1345" cy="412" r="7.1" fill="#8b946c" stroke="#1b1b1b" stroke-width="1.6" /><circle cx="1345" cy="412" r="4.2" fill="#6e7655" stroke="#1b1b1b" stroke-width="1.3" /><circle cx="1396" cy="412" r="19.2" fill="#7f8862" stroke="#333436" stroke-width="3.6" /><circle cx="1396" cy="412" r="12.6" fill="none" stroke="#a3aa82" stroke-width="10.5" stroke-dasharray="4 4"/><line x1="1403.1" y1="412" x2="1414.5" y2="412" stroke="#1e1e1e" stroke-width="1.6" /><line x1="1401.8" y1="416.2" x2="1411" y2="422.9" stroke="#1e1e1e" stroke-width="1.6" /><line x1="1398.2" y1="418.8" x2="1401.7" y2="429.6" stroke="#1e1e1e" stroke-width="1.6" /><line x1="1393.8" y1="418.8" x2="1390.3" y2="429.6" stroke="#1e1e1e" stroke-width="1.6" /><line x1="1390.2" y1="416.2" x2="1381" y2="422.9" stroke="#1e1e1e" stroke-width="1.6" /><line x1="1388.9" y1="412" x2="1377.5" y2="412" stroke="#1e1e1e" stroke-width="1.6" /><line x1="1390.2" y1="407.8" x2="1381" y2="401.1" stroke="#1e1e1e" stroke-width="1.6" /><line x1="1393.8" y1="405.2" x2="1390.3" y2="394.4" stroke="#1e1e1e" stroke-width="1.6" /><line x1="1398.2" y1="405.2" x2="1401.7" y2="394.4" stroke="#1e1e1e" stroke-width="1.6" /><line x1="1401.8" y1="407.8" x2="1411" y2="401.1" stroke="#1e1e1e" stroke-width="1.6" /><circle cx="1396" cy="412" r="7.1" fill="#8b946c" stroke="#1b1b1b" stroke-width="1.6" /><circle cx="1396" cy="412" r="4.2" fill="#6e7655" stroke="#1b1b1b" stroke-width="1.3" /><circle cx="1458" cy="412" r="19.2" fill="#7f8862" stroke="#333436" stroke-width="3.6" /><circle cx="1458" cy="412" r="12.6" fill="none" stroke="#a3aa82" stroke-width="10.5" stroke-dasharray="4 4"/><line x1="1465.1" y1="412" x2="1476.5" y2="412" stroke="#1e1e1e" stroke-width="1.6" /><line x1="1463.8" y1="416.2" x2="1473" y2="422.9" stroke="#1e1e1e" stroke-width="1.6" /><line x1="1460.2" y1="418.8" x2="1463.7" y2="429.6" stroke="#1e1e1e" stroke-width="1.6" /><line x1="1455.8" y1="418.8" x2="1452.3" y2="429.6" stroke="#1e1e1e" stroke-width="1.6" /><line x1="1452.2" y1="416.2" x2="1443" y2="422.9" stroke="#1e1e1e" stroke-width="1.6" /><line x1="1450.9" y1="412" x2="1439.5" y2="412" stroke="#1e1e1e" stroke-width="1.6" /><line x1="1452.2" y1="407.8" x2="1443" y2="401.1" stroke="#1e1e1e" stroke-width="1.6" /><line x1="1455.8" y1="405.2" x2="1452.3" y2="394.4" stroke="#1e1e1e" stroke-width="1.6" /><line x1="1460.2" y1="405.2" x2="1463.7" y2="394.4" stroke="#1e1e1e" stroke-width="1.6" /><line x1="1463.8" y1="407.8" x2="1473" y2="401.1" stroke="#1e1e1e" stroke-width="1.6" /><circle cx="1458" cy="412" r="7.1" fill="#8b946c" stroke="#1b1b1b" stroke-width="1.6" /><circle cx="1458" cy="412" r="4.2" fill="#6e7655" stroke="#1b1b1b" stroke-width="1.3" /><circle cx="1528" cy="412" r="19.2" fill="#7f8862" stroke="#333436" stroke-width="3.6" /><circle cx="1528" cy="412" r="12.6" fill="none" stroke="#a3aa82" stroke-width="10.5" stroke-dasharray="4 4"/><line x1="1535.1" y1="412" x2="1546.5" y2="412" stroke="#1e1e1e" stroke-width="1.6" /><line x1="1533.8" y1="416.2" x2="1543" y2="422.9" stroke="#1e1e1e" stroke-width="1.6" /><line x1="1530.2" y1="418.8" x2="1533.7" y2="429.6" stroke="#1e1e1e" stroke-width="1.6" /><line x1="1525.8" y1="418.8" x2="1522.3" y2="429.6" stroke="#1e1e1e" stroke-width="1.6" /><line x1="1522.2" y1="416.2" x2="1513" y2="422.9" stroke="#1e1e1e" stroke-width="1.6" /><line x1="1520.9" y1="412" x2="1509.5" y2="412" stroke="#1e1e1e" stroke-width="1.6" /><line x1="1522.2" y1="407.8" x2="1513" y2="401.1" stroke="#1e1e1e" stroke-width="1.6" /><line x1="1525.8" y1="405.2" x2="1522.3" y2="394.4" stroke="#1e1e1e" stroke-width="1.6" /><line x1="1530.2" y1="405.2" x2="1533.7" y2="394.4" stroke="#1e1e1e" stroke-width="1.6" /><line x1="1533.8" y1="407.8" x2="1543" y2="401.1" stroke="#1e1e1e" stroke-width="1.6" /><circle cx="1528" cy="412" r="7.1" fill="#8b946c" stroke="#1b1b1b" stroke-width="1.6" /><circle cx="1528" cy="412" r="4.2" fill="#6e7655" stroke="#1b1b1b" stroke-width="1.3" /><circle cx="1594" cy="412" r="19.2" fill="#7f8862" stroke="#333436" stroke-width="3.6" /><circle cx="1594" cy="412" r="12.6" fill="none" stroke="#a3aa82" stroke-width="10.5" stroke-dasharray="4 4"/><line x1="1601.1" y1="412" x2="1612.5" y2="412" stroke="#1e1e1e" stroke-width="1.6" /><line x1="1599.8" y1="416.2" x2="1609" y2="422.9" stroke="#1e1e1e" stroke-width="1.6" /><line x1="1596.2" y1="418.8" x2="1599.7" y2="429.6" stroke="#1e1e1e" stroke-width="1.6" /><line x1="1591.8" y1="418.8" x2="1588.3" y2="429.6" stroke="#1e1e1e" stroke-width="1.6" /><line x1="1588.2" y1="416.2" x2="1579" y2="422.9" stroke="#1e1e1e" stroke-width="1.6" /><line x1="1586.9" y1="412" x2="1575.5" y2="412" stroke="#1e1e1e" stroke-width="1.6" /><line x1="1588.2" y1="407.8" x2="1579" y2="401.1" stroke="#1e1e1e" stroke-width="1.6" /><line x1="1591.8" y1="405.2" x2="1588.3" y2="394.4" stroke="#1e1e1e" stroke-width="1.6" /><line x1="1596.2" y1="405.2" x2="1599.7" y2="394.4" stroke="#1e1e1e" stroke-width="1.6" /><line x1="1599.8" y1="407.8" x2="1609" y2="401.1" stroke="#1e1e1e" stroke-width="1.6" /><circle cx="1594" cy="412" r="7.1" fill="#8b946c" stroke="#1b1b1b" stroke-width="1.6" /><circle cx="1594" cy="412" r="4.2" fill="#6e7655" stroke="#1b1b1b" stroke-width="1.3" /><circle cx="1320" cy="381" r="8" fill="#7d8660" stroke="#1b1b1b" stroke-width="1.5" /><circle cx="1428" cy="381" r="8" fill="#7d8660" stroke="#1b1b1b" stroke-width="1.5" /><circle cx="1506" cy="381" r="8" fill="#7d8660" stroke="#1b1b1b" stroke-width="1.5" /><circle cx="1572" cy="381" r="8" fill="#7d8660" stroke="#1b1b1b" stroke-width="1.5" /><circle cx="1637" cy="388" r="20" fill="#7d8660" stroke="#1b1b1b" stroke-width="2.5" /><circle cx="1637" cy="388" r="16.4" fill="none" stroke="#2a2a2a" stroke-width="1.2" stroke-dasharray="2 3"/><circle cx="1648" cy="388" r="2.6" fill="#3a3a3a" stroke="#1b1b1b" stroke-width="1" /><circle cx="1642.5" cy="397.5" r="2.6" fill="#3a3a3a" stroke="#1b1b1b" stroke-width="1" /><circle cx="1631.5" cy="397.5" r="2.6" fill="#3a3a3a" stroke="#1b1b1b" stroke-width="1" /><circle cx="1626" cy="388" r="2.6" fill="#3a3a3a" stroke="#1b1b1b" stroke-width="1" /><circle cx="1631.5" cy="378.5" r="2.6" fill="#3a3a3a" stroke="#1b1b1b" stroke-width="1" /><circle cx="1642.5" cy="378.5" r="2.6" fill="#3a3a3a" stroke="#1b1b1b" stroke-width="1" /><circle cx="1637" cy="388" r="6" fill="#8d9670" stroke="#1b1b1b" stroke-width="1.5" /><circle cx="1637" cy="388" r="3" fill="#6e7655" stroke="#1b1b1b" stroke-width="1" /></g>
<g id="tyulpan"><rect x="100" y="695" width="425" height="45" rx="0" fill="url(#trk)" stroke="none" stroke-width="0" /><line x1="118" y1="708" x2="505" y2="708" stroke="#1b1b1b" stroke-width="9" stroke-dasharray="4 7"/><line x1="168" y1="764" x2="467" y2="764" stroke="#1b1b1b" stroke-width="8" stroke-dasharray="4 7"/><line x1="102" y1="738.7" x2="166.8" y2="764.3" stroke="#1b1b1b" stroke-width="8" stroke-dasharray="4 7"/><line x1="467.8" y1="764.5" x2="520.6" y2="738.9" stroke="#1b1b1b" stroke-width="8" stroke-dasharray="4 7"/><path d="M114,702 L509,702 A23,23 0 0 1 522.8,743.4 L470,769 L165,769 L100.2,743.4 A23,23 0 0 1 114,702 Z" fill="none" stroke="#1b1b1b" stroke-width="5" stroke-linejoin="round" /><polygon points="124,661 430,661 470,672 500,686 520,697 124,697" fill="#8b946c" stroke="#1b1b1b" stroke-width="2" stroke-linejoin="round" /><polygon points="100,690 525,690 540,700 100,702" fill="#7d8660" stroke="#1b1b1b" stroke-width="1.8" stroke-linejoin="round" /><line x1="240" y1="662" x2="240" y2="697" stroke="#1b1b1b" stroke-width="1.5" /><rect x="134" y="668" width="38" height="18" rx="6" fill="#8b946c" stroke="#1b1b1b" stroke-width="1.5" /><rect x="180" y="668" width="38" height="18" rx="6" fill="#8b946c" stroke="#1b1b1b" stroke-width="1.5" /><rect x="268" y="670" width="50" height="25" rx="10" fill="#7d8660" stroke="#1b1b1b" stroke-width="1.5" /><rect x="274" y="674" width="2.5" height="16" rx="0" fill="#333" stroke="none" stroke-width="0" /><rect x="279" y="674" width="2.5" height="16" rx="0" fill="#333" stroke="none" stroke-width="0" /><rect x="284" y="674" width="2.5" height="16" rx="0" fill="#333" stroke="none" stroke-width="0" /><rect x="289" y="674" width="2.5" height="16" rx="0" fill="#333" stroke="none" stroke-width="0" /><rect x="294" y="674" width="2.5" height="16" rx="0" fill="#333" stroke="none" stroke-width="0" /><rect x="299" y="674" width="2.5" height="16" rx="0" fill="#333" stroke="none" stroke-width="0" /><rect x="304" y="674" width="2.5" height="16" rx="0" fill="#333" stroke="none" stroke-width="0" /><rect x="309" y="674" width="2.5" height="16" rx="0" fill="#333" stroke="none" stroke-width="0" /><rect x="314" y="674" width="2.5" height="16" rx="0" fill="#333" stroke="none" stroke-width="0" /><rect x="345" y="670" width="30" height="22" rx="6" fill="#8b946c" stroke="#1b1b1b" stroke-width="1.5" /><rect x="400" y="672" width="32" height="18" rx="6" fill="#8b946c" stroke="#1b1b1b" stroke-width="1.5" /><rect x="432" y="667" width="40" height="12" rx="0" fill="#7d8660" stroke="#1b1b1b" stroke-width="1.2" /><rect x="480" y="678" width="16" height="10" rx="0" fill="#8b946c" stroke="#1b1b1b" stroke-width="1.2" /><polygon points="335,646 385,646 392,660 330,660" fill="#8b946c" stroke="#1b1b1b" stroke-width="1.5" stroke-linejoin="round" /><rect x="135" y="648" width="210" height="12" rx="0" fill="#8d9670" stroke="#1b1b1b" stroke-width="1.5" /><line x1="140" y1="654" x2="340" y2="654" stroke="#1b1b1b" stroke-width="1" /><rect x="215" y="612" width="218" height="22" rx="0" fill="url(#barrel)" stroke="#1b1b1b" stroke-width="2" /><rect x="200" y="610" width="18" height="26" rx="0" fill="#7d8660" stroke="#1b1b1b" stroke-width="1.5" /><line x1="198" y1="636" x2="238" y2="644" stroke="#1b1b1b" stroke-width="3" /><line x1="85" y1="628" x2="240" y2="640" stroke="#1b1b1b" stroke-width="5" /><line x1="85" y1="628" x2="240" y2="640" stroke="#8d9670" stroke-width="2.5" /><rect x="356" y="622" width="12" height="12" rx="0" fill="#222" stroke="#1b1b1b" stroke-width="1" /><line x1="365" y1="626" x2="438" y2="626" stroke="#1b1b1b" stroke-width="3" /><rect x="340" y="610" width="6" height="40" rx="0" fill="#8b946c" stroke="#1b1b1b" stroke-width="1.2" /><line x1="325" y1="590" x2="325" y2="648" stroke="#1b1b1b" stroke-width="1.5" /><rect x="112" y="616" width="115" height="11" rx="5" fill="#8d9670" stroke="#1b1b1b" stroke-width="1.5" /><circle cx="163" cy="623" r="3.5" fill="none" stroke="#1b1b1b" stroke-width="1.2" /><rect x="118" y="640" width="160" height="5" rx="2" fill="#8d9670" stroke="#1b1b1b" stroke-width="1.2" /><line x1="110" y1="632" x2="236" y2="632" stroke="#1b1b1b" stroke-width="1.2" /><polygon points="63,632 100,620 122,676 118,693 96,693 70,672" fill="#8b946c" stroke="#1b1b1b" stroke-width="1.5" stroke-linejoin="round" /><circle cx="72" cy="638" r="6" fill="#6e7655" stroke="#1b1b1b" stroke-width="1.2" /><circle cx="84" cy="635" r="6" fill="#6e7655" stroke="#1b1b1b" stroke-width="1.2" /><circle cx="75" cy="652" r="4" fill="#7d8660" stroke="#1b1b1b" stroke-width="1.2" /><polygon points="74.3,630.4 148.3,592.4 143.7,583.6 69.7,621.6" fill="#8d9670" stroke="#1b1b1b" stroke-width="2" stroke-linejoin="round" /><polygon points="91.2,581.9 184.2,596.9 185.8,587.1 92.8,572.1" fill="url(#barrel)" stroke="#1b1b1b" stroke-width="2" stroke-linejoin="round" /><polygon points="84.3,589 112.3,669 123.7,665 95.7,585" fill="#8d9670" stroke="#1b1b1b" stroke-width="2" stroke-linejoin="round" /><circle cx="73" cy="627" r="7" fill="#8d9670" stroke="#1b1b1b" stroke-width="1.5" /><circle cx="97" cy="631" r="6" fill="#8d9670" stroke="#1b1b1b" stroke-width="1.5" /><circle cx="180" cy="592" r="7" fill="#8d9670" stroke="#1b1b1b" stroke-width="1.5" /><circle cx="164" cy="603" r="8" fill="none" stroke="#1b1b1b" stroke-width="1.5" /><line x1="112" y1="622" x2="170" y2="590" stroke="#1b1b1b" stroke-width="1.5" /><polygon points="21,686 84,556 95,560 32,692" fill="#8b946c" stroke="#1b1b1b" stroke-width="1.8" stroke-linejoin="round" /><polygon points="32,686 82,597 86,600 38,689" fill="#8b946c" stroke="#1b1b1b" stroke-width="1.2" stroke-linejoin="round" /><path d="M22,683 Q18,690 26,697 L30,693 Z" fill="#8b946c" stroke="#1b1b1b" stroke-width="1.5" stroke-linejoin="round" /><rect x="82" y="554" width="14" height="8" rx="3" fill="#8b946c" stroke="#1b1b1b" stroke-width="1.5" /><polygon points="46,665 60,672 66,678 55,680" fill="#8b946c" stroke="#1b1b1b" stroke-width="1.2" stroke-linejoin="round" /><circle cx="114" cy="725" r="19.2" fill="#7f8862" stroke="#333436" stroke-width="3.6" /><circle cx="114" cy="725" r="12.6" fill="none" stroke="#a3aa82" stroke-width="10.5" stroke-dasharray="4 4"/><line x1="121.1" y1="725" x2="132.5" y2="725" stroke="#1e1e1e" stroke-width="1.6" /><line x1="119.8" y1="729.2" x2="129" y2="735.9" stroke="#1e1e1e" stroke-width="1.6" /><line x1="116.2" y1="731.8" x2="119.7" y2="742.6" stroke="#1e1e1e" stroke-width="1.6" /><line x1="111.8" y1="731.8" x2="108.3" y2="742.6" stroke="#1e1e1e" stroke-width="1.6" /><line x1="108.2" y1="729.2" x2="99" y2="735.9" stroke="#1e1e1e" stroke-width="1.6" /><line x1="106.9" y1="725" x2="95.5" y2="725" stroke="#1e1e1e" stroke-width="1.6" /><line x1="108.2" y1="720.8" x2="99" y2="714.1" stroke="#1e1e1e" stroke-width="1.6" /><line x1="111.8" y1="718.2" x2="108.3" y2="707.4" stroke="#1e1e1e" stroke-width="1.6" /><line x1="116.2" y1="718.2" x2="119.7" y2="707.4" stroke="#1e1e1e" stroke-width="1.6" /><line x1="119.8" y1="720.8" x2="129" y2="714.1" stroke="#1e1e1e" stroke-width="1.6" /><circle cx="114" cy="725" r="7.1" fill="#8b946c" stroke="#1b1b1b" stroke-width="1.6" /><circle cx="114" cy="725" r="4.2" fill="#6e7655" stroke="#1b1b1b" stroke-width="1.3" /><circle cx="167" cy="747.5" r="18.7" fill="#7f8862" stroke="#333436" stroke-width="3.6" /><circle cx="167" cy="747.5" r="12.3" fill="none" stroke="#a3aa82" stroke-width="10.25" stroke-dasharray="3.9 3.9"/><line x1="174" y1="747.5" x2="185" y2="747.5" stroke="#1e1e1e" stroke-width="1.6" /><line x1="172.6" y1="751.6" x2="181.6" y2="758.1" stroke="#1e1e1e" stroke-width="1.6" /><line x1="169.2" y1="754.1" x2="172.6" y2="764.7" stroke="#1e1e1e" stroke-width="1.6" /><line x1="164.8" y1="754.1" x2="161.4" y2="764.7" stroke="#1e1e1e" stroke-width="1.6" /><line x1="161.4" y1="751.6" x2="152.4" y2="758.1" stroke="#1e1e1e" stroke-width="1.6" /><line x1="160" y1="747.5" x2="149" y2="747.5" stroke="#1e1e1e" stroke-width="1.6" /><line x1="161.4" y1="743.4" x2="152.4" y2="736.9" stroke="#1e1e1e" stroke-width="1.6" /><line x1="164.8" y1="740.9" x2="161.4" y2="730.3" stroke="#1e1e1e" stroke-width="1.6" /><line x1="169.2" y1="740.9" x2="172.6" y2="730.3" stroke="#1e1e1e" stroke-width="1.6" /><line x1="172.6" y1="743.4" x2="181.6" y2="736.9" stroke="#1e1e1e" stroke-width="1.6" /><circle cx="167" cy="747.5" r="7" fill="#8b946c" stroke="#1b1b1b" stroke-width="1.6" /><circle cx="167" cy="747.5" r="4.1" fill="#6e7655" stroke="#1b1b1b" stroke-width="1.3" /><circle cx="217.5" cy="747.5" r="18.7" fill="#7f8862" stroke="#333436" stroke-width="3.6" /><circle cx="217.5" cy="747.5" r="12.3" fill="none" stroke="#a3aa82" stroke-width="10.25" stroke-dasharray="3.9 3.9"/><line x1="224.5" y1="747.5" x2="235.5" y2="747.5" stroke="#1e1e1e" stroke-width="1.6" /><line x1="223.1" y1="751.6" x2="232.1" y2="758.1" stroke="#1e1e1e" stroke-width="1.6" /><line x1="219.7" y1="754.1" x2="223.1" y2="764.7" stroke="#1e1e1e" stroke-width="1.6" /><line x1="215.3" y1="754.1" x2="211.9" y2="764.7" stroke="#1e1e1e" stroke-width="1.6" /><line x1="211.9" y1="751.6" x2="202.9" y2="758.1" stroke="#1e1e1e" stroke-width="1.6" /><line x1="210.5" y1="747.5" x2="199.5" y2="747.5" stroke="#1e1e1e" stroke-width="1.6" /><line x1="211.9" y1="743.4" x2="202.9" y2="736.9" stroke="#1e1e1e" stroke-width="1.6" /><line x1="215.3" y1="740.9" x2="211.9" y2="730.3" stroke="#1e1e1e" stroke-width="1.6" /><line x1="219.7" y1="740.9" x2="223.1" y2="730.3" stroke="#1e1e1e" stroke-width="1.6" /><line x1="223.1" y1="743.4" x2="232.1" y2="736.9" stroke="#1e1e1e" stroke-width="1.6" /><circle cx="217.5" cy="747.5" r="7" fill="#8b946c" stroke="#1b1b1b" stroke-width="1.6" /><circle cx="217.5" cy="747.5" r="4.1" fill="#6e7655" stroke="#1b1b1b" stroke-width="1.3" /><circle cx="269" cy="747.5" r="18.7" fill="#7f8862" stroke="#333436" stroke-width="3.6" /><circle cx="269" cy="747.5" r="12.3" fill="none" stroke="#a3aa82" stroke-width="10.25" stroke-dasharray="3.9 3.9"/><line x1="276" y1="747.5" x2="287" y2="747.5" stroke="#1e1e1e" stroke-width="1.6" /><line x1="274.6" y1="751.6" x2="283.6" y2="758.1" stroke="#1e1e1e" stroke-width="1.6" /><line x1="271.2" y1="754.1" x2="274.6" y2="764.7" stroke="#1e1e1e" stroke-width="1.6" /><line x1="266.8" y1="754.1" x2="263.4" y2="764.7" stroke="#1e1e1e" stroke-width="1.6" /><line x1="263.4" y1="751.6" x2="254.4" y2="758.1" stroke="#1e1e1e" stroke-width="1.6" /><line x1="262" y1="747.5" x2="251" y2="747.5" stroke="#1e1e1e" stroke-width="1.6" /><line x1="263.4" y1="743.4" x2="254.4" y2="736.9" stroke="#1e1e1e" stroke-width="1.6" /><line x1="266.8" y1="740.9" x2="263.4" y2="730.3" stroke="#1e1e1e" stroke-width="1.6" /><line x1="271.2" y1="740.9" x2="274.6" y2="730.3" stroke="#1e1e1e" stroke-width="1.6" /><line x1="274.6" y1="743.4" x2="283.6" y2="736.9" stroke="#1e1e1e" stroke-width="1.6" /><circle cx="269" cy="747.5" r="7" fill="#8b946c" stroke="#1b1b1b" stroke-width="1.6" /><circle cx="269" cy="747.5" r="4.1" fill="#6e7655" stroke="#1b1b1b" stroke-width="1.3" /><circle cx="329" cy="747.5" r="18.7" fill="#7f8862" stroke="#333436" stroke-width="3.6" /><circle cx="329" cy="747.5" r="12.3" fill="none" stroke="#a3aa82" stroke-width="10.25" stroke-dasharray="3.9 3.9"/><line x1="336" y1="747.5" x2="347" y2="747.5" stroke="#1e1e1e" stroke-width="1.6" /><line x1="334.6" y1="751.6" x2="343.6" y2="758.1" stroke="#1e1e1e" stroke-width="1.6" /><line x1="331.2" y1="754.1" x2="334.6" y2="764.7" stroke="#1e1e1e" stroke-width="1.6" /><line x1="326.8" y1="754.1" x2="323.4" y2="764.7" stroke="#1e1e1e" stroke-width="1.6" /><line x1="323.4" y1="751.6" x2="314.4" y2="758.1" stroke="#1e1e1e" stroke-width="1.6" /><line x1="322" y1="747.5" x2="311" y2="747.5" stroke="#1e1e1e" stroke-width="1.6" /><line x1="323.4" y1="743.4" x2="314.4" y2="736.9" stroke="#1e1e1e" stroke-width="1.6" /><line x1="326.8" y1="740.9" x2="323.4" y2="730.3" stroke="#1e1e1e" stroke-width="1.6" /><line x1="331.2" y1="740.9" x2="334.6" y2="730.3" stroke="#1e1e1e" stroke-width="1.6" /><line x1="334.6" y1="743.4" x2="343.6" y2="736.9" stroke="#1e1e1e" stroke-width="1.6" /><circle cx="329" cy="747.5" r="7" fill="#8b946c" stroke="#1b1b1b" stroke-width="1.6" /><circle cx="329" cy="747.5" r="4.1" fill="#6e7655" stroke="#1b1b1b" stroke-width="1.3" /><circle cx="400" cy="747.5" r="18.7" fill="#7f8862" stroke="#333436" stroke-width="3.6" /><circle cx="400" cy="747.5" r="12.3" fill="none" stroke="#a3aa82" stroke-width="10.25" stroke-dasharray="3.9 3.9"/><line x1="407" y1="747.5" x2="418" y2="747.5" stroke="#1e1e1e" stroke-width="1.6" /><line x1="405.6" y1="751.6" x2="414.6" y2="758.1" stroke="#1e1e1e" stroke-width="1.6" /><line x1="402.2" y1="754.1" x2="405.6" y2="764.7" stroke="#1e1e1e" stroke-width="1.6" /><line x1="397.8" y1="754.1" x2="394.4" y2="764.7" stroke="#1e1e1e" stroke-width="1.6" /><line x1="394.4" y1="751.6" x2="385.4" y2="758.1" stroke="#1e1e1e" stroke-width="1.6" /><line x1="393" y1="747.5" x2="382" y2="747.5" stroke="#1e1e1e" stroke-width="1.6" /><line x1="394.4" y1="743.4" x2="385.4" y2="736.9" stroke="#1e1e1e" stroke-width="1.6" /><line x1="397.8" y1="740.9" x2="394.4" y2="730.3" stroke="#1e1e1e" stroke-width="1.6" /><line x1="402.2" y1="740.9" x2="405.6" y2="730.3" stroke="#1e1e1e" stroke-width="1.6" /><line x1="405.6" y1="743.4" x2="414.6" y2="736.9" stroke="#1e1e1e" stroke-width="1.6" /><circle cx="400" cy="747.5" r="7" fill="#8b946c" stroke="#1b1b1b" stroke-width="1.6" /><circle cx="400" cy="747.5" r="4.1" fill="#6e7655" stroke="#1b1b1b" stroke-width="1.3" /><circle cx="465" cy="747.5" r="18.7" fill="#7f8862" stroke="#333436" stroke-width="3.6" /><circle cx="465" cy="747.5" r="12.3" fill="none" stroke="#a3aa82" stroke-width="10.25" stroke-dasharray="3.9 3.9"/><line x1="472" y1="747.5" x2="483" y2="747.5" stroke="#1e1e1e" stroke-width="1.6" /><line x1="470.6" y1="751.6" x2="479.6" y2="758.1" stroke="#1e1e1e" stroke-width="1.6" /><line x1="467.2" y1="754.1" x2="470.6" y2="764.7" stroke="#1e1e1e" stroke-width="1.6" /><line x1="462.8" y1="754.1" x2="459.4" y2="764.7" stroke="#1e1e1e" stroke-width="1.6" /><line x1="459.4" y1="751.6" x2="450.4" y2="758.1" stroke="#1e1e1e" stroke-width="1.6" /><line x1="458" y1="747.5" x2="447" y2="747.5" stroke="#1e1e1e" stroke-width="1.6" /><line x1="459.4" y1="743.4" x2="450.4" y2="736.9" stroke="#1e1e1e" stroke-width="1.6" /><line x1="462.8" y1="740.9" x2="459.4" y2="730.3" stroke="#1e1e1e" stroke-width="1.6" /><line x1="467.2" y1="740.9" x2="470.6" y2="730.3" stroke="#1e1e1e" stroke-width="1.6" /><line x1="470.6" y1="743.4" x2="479.6" y2="736.9" stroke="#1e1e1e" stroke-width="1.6" /><circle cx="465" cy="747.5" r="7" fill="#8b946c" stroke="#1b1b1b" stroke-width="1.6" /><circle cx="465" cy="747.5" r="4.1" fill="#6e7655" stroke="#1b1b1b" stroke-width="1.3" /><circle cx="192" cy="716" r="8" fill="#7d8660" stroke="#1b1b1b" stroke-width="1.5" /><circle cx="297" cy="716" r="8" fill="#7d8660" stroke="#1b1b1b" stroke-width="1.5" /><circle cx="377" cy="716" r="8" fill="#7d8660" stroke="#1b1b1b" stroke-width="1.5" /><circle cx="441" cy="716" r="8" fill="#7d8660" stroke="#1b1b1b" stroke-width="1.5" /><circle cx="509" cy="725" r="20" fill="#7d8660" stroke="#1b1b1b" stroke-width="2.5" /><circle cx="509" cy="725" r="16.4" fill="none" stroke="#2a2a2a" stroke-width="1.2" stroke-dasharray="2 3"/><circle cx="520" cy="725" r="2.6" fill="#3a3a3a" stroke="#1b1b1b" stroke-width="1" /><circle cx="514.5" cy="734.5" r="2.6" fill="#3a3a3a" stroke="#1b1b1b" stroke-width="1" /><circle cx="503.5" cy="734.5" r="2.6" fill="#3a3a3a" stroke="#1b1b1b" stroke-width="1" /><circle cx="498" cy="725" r="2.6" fill="#3a3a3a" stroke="#1b1b1b" stroke-width="1" /><circle cx="503.5" cy="715.5" r="2.6" fill="#3a3a3a" stroke="#1b1b1b" stroke-width="1" /><circle cx="514.5" cy="715.5" r="2.6" fill="#3a3a3a" stroke="#1b1b1b" stroke-width="1" /><circle cx="509" cy="725" r="6" fill="#8d9670" stroke="#1b1b1b" stroke-width="1.5" /><circle cx="509" cy="725" r="3" fill="#6e7655" stroke="#1b1b1b" stroke-width="1" /></g>
<g id="malva"><polygon points="976,598.9 1112,574.4 1110,563.6 974,587.1" fill="url(#barrel)" stroke="#1b1b1b" stroke-width="2" stroke-linejoin="round" /><polygon points="976.4,615.4 1431.1,538.9 1428.9,525.1 973.6,598.6" fill="url(#barrel)" stroke="#1b1b1b" stroke-width="2" stroke-linejoin="round" /><polygon points="1431.6,541.9 1469.6,535.9 1466.4,516.1 1428.4,522.1" fill="url(#barrel)" stroke="#1b1b1b" stroke-width="2" stroke-linejoin="round" /><rect x="1090" y="585" width="0" height="0" rx="0" fill="none" stroke="#1b1b1b" stroke-width="2" /><polygon points="960,670 1545,670 1545,736 1000,736 960,720" fill="#141414" stroke="#1b1b1b" stroke-width="1.5" stroke-linejoin="round" /><polygon points="866,596 880,580 981,580 981,672 880,672 866,655" fill="#8b946c" stroke="#1b1b1b" stroke-width="2" stroke-linejoin="round" /><rect x="880" y="580" width="58" height="16" rx="0" fill="#d1a05a" stroke="#1b1b1b" stroke-width="1.2" /><rect x="876" y="594" width="73" height="50" rx="0" fill="#7d8660" stroke="#1b1b1b" stroke-width="1.5" /><rect x="956" y="607" width="70" height="58" rx="0" fill="#8b946c" stroke="#1b1b1b" stroke-width="2" /><rect x="956" y="664" width="92" height="8" rx="0" fill="#8b946c" stroke="#1b1b1b" stroke-width="1.5" /><polygon points="870,672 960,672 950,690 880,690" fill="#2a2a2a" stroke="#1b1b1b" stroke-width="1.5" stroke-linejoin="round" /><polygon points="910,680 945,672 990,700 1000,728 960,726 920,722" fill="#7d8660" stroke="#1b1b1b" stroke-width="1.5" stroke-linejoin="round" /><circle cx="928" cy="702" r="16" fill="none" stroke="#1b1b1b" stroke-width="2.5" /><polygon points="1012,708 1045,676 1190,676 1222,710 1216,714 1186,684 1050,684 1020,712" fill="#8b946c" stroke="#1b1b1b" stroke-width="1.5" stroke-linejoin="round" /><polygon points="1335,694 1362,674 1570,674 1575,686 1362,686 1342,700" fill="#8b946c" stroke="#1b1b1b" stroke-width="1.5" stroke-linejoin="round" /><rect x="1360" y="680" width="180" height="8" rx="0" fill="#7d8660" stroke="#1b1b1b" stroke-width="1" /><rect x="1225" y="676" width="60" height="6" rx="0" fill="#7d8660" stroke="#1b1b1b" stroke-width="1" /><rect x="1087" y="646" width="196" height="26" rx="0" fill="#8b946c" stroke="#1b1b1b" stroke-width="2" /><line x1="1180" y1="646" x2="1180" y2="672" stroke="#1b1b1b" stroke-width="1.5" /><polygon points="1103,646 1110,625 1177,617 1172,646" fill="#8b946c" stroke="#1b1b1b" stroke-width="1.5" stroke-linejoin="round" /><rect x="1287" y="609" width="38" height="58" rx="0" fill="#8b946c" stroke="#1b1b1b" stroke-width="2" /><rect x="1329" y="612" width="48" height="55" rx="0" fill="#8b946c" stroke="#1b1b1b" stroke-width="2" /><rect x="1378" y="640" width="50" height="27" rx="0" fill="#7d8660" stroke="#1b1b1b" stroke-width="1.5" /><circle cx="1393" cy="627" r="11" fill="#8d9670" stroke="#1b1b1b" stroke-width="1.5" /><circle cx="1424" cy="627" r="11" fill="#8d9670" stroke="#1b1b1b" stroke-width="1.5" /><rect x="1266" y="688" width="60" height="48" rx="0" fill="#8b946c" stroke="#1b1b1b" stroke-width="1.5" /><circle cx="1338" cy="716" r="9" fill="#8b946c" stroke="#1b1b1b" stroke-width="1.2" /><circle cx="1486" cy="628" r="42.2" fill="url(#tire)" stroke="#1e1e20" stroke-width="1.5" /><circle cx="1486" cy="628" r="42.7" fill="none" stroke="#25272b" stroke-width="4.4" stroke-dasharray="6.1 6.1"/><circle cx="1486" cy="628" r="13.2" fill="#a6abb2" stroke="#26282b" stroke-width="1.5" /><circle cx="1486" cy="628" r="10" fill="#7b8087" stroke="#3a3c40" stroke-width="1" /><circle cx="1493.3" cy="628" r="1.5" fill="#3a3c40" stroke="none" stroke-width="0" /><circle cx="1491.9" cy="632.3" r="1.5" fill="#3a3c40" stroke="none" stroke-width="0" /><circle cx="1488.2" cy="634.9" r="1.5" fill="#3a3c40" stroke="none" stroke-width="0" /><circle cx="1483.8" cy="634.9" r="1.5" fill="#3a3c40" stroke="none" stroke-width="0" /><circle cx="1480.1" cy="632.3" r="1.5" fill="#3a3c40" stroke="none" stroke-width="0" /><circle cx="1478.7" cy="628" r="1.5" fill="#3a3c40" stroke="none" stroke-width="0" /><circle cx="1480.1" cy="623.7" r="1.5" fill="#3a3c40" stroke="none" stroke-width="0" /><circle cx="1483.8" cy="621.1" r="1.5" fill="#3a3c40" stroke="none" stroke-width="0" /><circle cx="1488.2" cy="621.1" r="1.5" fill="#3a3c40" stroke="none" stroke-width="0" /><circle cx="1491.9" cy="623.7" r="1.5" fill="#3a3c40" stroke="none" stroke-width="0" /><circle cx="1486" cy="628" r="3.3" fill="#9a9fa6" stroke="#3a3c40" stroke-width="1" /><line x1="1486" y1="628" x2="1493.9" y2="620.1" stroke="#c8ccd2" stroke-width="2.5" /><rect x="1455" y="598" width="56" height="70" rx="0" fill="none" stroke="#1b1b1b" stroke-width="4.5" /><rect x="1455" y="598" width="56" height="70" rx="0" fill="none" stroke="#8d9670" stroke-width="2" /><line x1="1470" y1="598" x2="1470" y2="668" stroke="#1b1b1b" stroke-width="4" /><line x1="1470" y1="598" x2="1470" y2="668" stroke="#8d9670" stroke-width="1.8" /><line x1="1455" y1="620" x2="1511" y2="620" stroke="#1b1b1b" stroke-width="4" /><line x1="1455" y1="620" x2="1511" y2="620" stroke="#8d9670" stroke-width="1.8" /><rect x="1474" y="610" width="24" height="22" rx="0" fill="#6d7178" stroke="#1b1b1b" stroke-width="1" /><polygon points="1530,579 1650,579 1690,590 1698,625 1706,632 1706,700 1690,711 1640,716 1610,730 1545,730 1530,711" fill="#8b946c" stroke="#1b1b1b" stroke-width="2" stroke-linejoin="round" /><rect x="1590" y="694" width="100" height="18" rx="0" fill="#7d8660" stroke="#1b1b1b" stroke-width="1.2" /><rect x="1603" y="698" width="40" height="9" rx="0" fill="#5f6647" stroke="#1b1b1b" stroke-width="1" /><rect x="1574" y="609" width="22" height="29" rx="3" fill="#b6d6d8" stroke="#1b1b1b" stroke-width="1.5" /><rect x="1636" y="609" width="33" height="33" rx="3" fill="#b6d6d8" stroke="#1b1b1b" stroke-width="1.5" /><line x1="1615" y1="585" x2="1615" y2="705" stroke="#1b1b1b" stroke-width="1.5" /><line x1="1530" y1="665" x2="1706" y2="665" stroke="#1b1b1b" stroke-width="1.2" /><rect x="1520" y="585" width="10" height="85" rx="0" fill="#8b946c" stroke="#1b1b1b" stroke-width="1.2" /><rect x="1575" y="573" width="40" height="7" rx="0" fill="#7d8660" stroke="#1b1b1b" stroke-width="1.2" /><circle cx="1540" cy="576" r="5" fill="#e8a040" stroke="#1b1b1b" stroke-width="1" /><circle cx="1066" cy="729.5" r="41.8" fill="url(#tire)" stroke="#1e1e20" stroke-width="1.5" /><circle cx="1066" cy="729.5" r="42.2" fill="none" stroke="#25272b" stroke-width="4.3500000000000005" stroke-dasharray="6 6"/><circle cx="1066" cy="729.5" r="19.6" fill="#a6abb2" stroke="#26282b" stroke-width="1.5" /><circle cx="1066" cy="729.5" r="14.9" fill="#7b8087" stroke="#3a3c40" stroke-width="1" /><circle cx="1076.8" cy="729.5" r="1.5" fill="#3a3c40" stroke="none" stroke-width="0" /><circle cx="1074.7" cy="735.8" r="1.5" fill="#3a3c40" stroke="none" stroke-width="0" /><circle cx="1069.3" cy="739.7" r="1.5" fill="#3a3c40" stroke="none" stroke-width="0" /><circle cx="1062.7" cy="739.7" r="1.5" fill="#3a3c40" stroke="none" stroke-width="0" /><circle cx="1057.3" cy="735.8" r="1.5" fill="#3a3c40" stroke="none" stroke-width="0" /><circle cx="1055.2" cy="729.5" r="1.5" fill="#3a3c40" stroke="none" stroke-width="0" /><circle cx="1057.3" cy="723.2" r="1.5" fill="#3a3c40" stroke="none" stroke-width="0" /><circle cx="1062.7" cy="719.3" r="1.5" fill="#3a3c40" stroke="none" stroke-width="0" /><circle cx="1069.3" cy="719.3" r="1.5" fill="#3a3c40" stroke="none" stroke-width="0" /><circle cx="1074.7" cy="723.2" r="1.5" fill="#3a3c40" stroke="none" stroke-width="0" /><circle cx="1066" cy="729.5" r="4.9" fill="#9a9fa6" stroke="#3a3c40" stroke-width="1" /><line x1="1066" y1="729.5" x2="1077.7" y2="717.8" stroke="#c8ccd2" stroke-width="2.5" /><circle cx="1165" cy="729.5" r="41.8" fill="url(#tire)" stroke="#1e1e20" stroke-width="1.5" /><circle cx="1165" cy="729.5" r="42.2" fill="none" stroke="#25272b" stroke-width="4.3500000000000005" stroke-dasharray="6 6"/><circle cx="1165" cy="729.5" r="19.6" fill="#a6abb2" stroke="#26282b" stroke-width="1.5" /><circle cx="1165" cy="729.5" r="14.9" fill="#7b8087" stroke="#3a3c40" stroke-width="1" /><circle cx="1175.8" cy="729.5" r="1.5" fill="#3a3c40" stroke="none" stroke-width="0" /><circle cx="1173.7" cy="735.8" r="1.5" fill="#3a3c40" stroke="none" stroke-width="0" /><circle cx="1168.3" cy="739.7" r="1.5" fill="#3a3c40" stroke="none" stroke-width="0" /><circle cx="1161.7" cy="739.7" r="1.5" fill="#3a3c40" stroke="none" stroke-width="0" /><circle cx="1156.3" cy="735.8" r="1.5" fill="#3a3c40" stroke="none" stroke-width="0" /><circle cx="1154.2" cy="729.5" r="1.5" fill="#3a3c40" stroke="none" stroke-width="0" /><circle cx="1156.3" cy="723.2" r="1.5" fill="#3a3c40" stroke="none" stroke-width="0" /><circle cx="1161.7" cy="719.3" r="1.5" fill="#3a3c40" stroke="none" stroke-width="0" /><circle cx="1168.3" cy="719.3" r="1.5" fill="#3a3c40" stroke="none" stroke-width="0" /><circle cx="1173.7" cy="723.2" r="1.5" fill="#3a3c40" stroke="none" stroke-width="0" /><circle cx="1165" cy="729.5" r="4.9" fill="#9a9fa6" stroke="#3a3c40" stroke-width="1" /><line x1="1165" y1="729.5" x2="1176.7" y2="717.8" stroke="#c8ccd2" stroke-width="2.5" /><circle cx="1380" cy="729.5" r="41.8" fill="url(#tire)" stroke="#1e1e20" stroke-width="1.5" /><circle cx="1380" cy="729.5" r="42.2" fill="none" stroke="#25272b" stroke-width="4.3500000000000005" stroke-dasharray="6 6"/><circle cx="1380" cy="729.5" r="19.6" fill="#a6abb2" stroke="#26282b" stroke-width="1.5" /><circle cx="1380" cy="729.5" r="14.9" fill="#7b8087" stroke="#3a3c40" stroke-width="1" /><circle cx="1390.8" cy="729.5" r="1.5" fill="#3a3c40" stroke="none" stroke-width="0" /><circle cx="1388.7" cy="735.8" r="1.5" fill="#3a3c40" stroke="none" stroke-width="0" /><circle cx="1383.3" cy="739.7" r="1.5" fill="#3a3c40" stroke="none" stroke-width="0" /><circle cx="1376.7" cy="739.7" r="1.5" fill="#3a3c40" stroke="none" stroke-width="0" /><circle cx="1371.3" cy="735.8" r="1.5" fill="#3a3c40" stroke="none" stroke-width="0" /><circle cx="1369.2" cy="729.5" r="1.5" fill="#3a3c40" stroke="none" stroke-width="0" /><circle cx="1371.3" cy="723.2" r="1.5" fill="#3a3c40" stroke="none" stroke-width="0" /><circle cx="1376.7" cy="719.3" r="1.5" fill="#3a3c40" stroke="none" stroke-width="0" /><circle cx="1383.3" cy="719.3" r="1.5" fill="#3a3c40" stroke="none" stroke-width="0" /><circle cx="1388.7" cy="723.2" r="1.5" fill="#3a3c40" stroke="none" stroke-width="0" /><circle cx="1380" cy="729.5" r="4.9" fill="#9a9fa6" stroke="#3a3c40" stroke-width="1" /><line x1="1380" y1="729.5" x2="1391.7" y2="717.8" stroke="#c8ccd2" stroke-width="2.5" /><circle cx="1527" cy="729.5" r="41.8" fill="url(#tire)" stroke="#1e1e20" stroke-width="1.5" /><circle cx="1527" cy="729.5" r="42.2" fill="none" stroke="#25272b" stroke-width="4.3500000000000005" stroke-dasharray="6 6"/><circle cx="1527" cy="729.5" r="19.6" fill="#a6abb2" stroke="#26282b" stroke-width="1.5" /><circle cx="1527" cy="729.5" r="14.9" fill="#7b8087" stroke="#3a3c40" stroke-width="1" /><circle cx="1537.8" cy="729.5" r="1.5" fill="#3a3c40" stroke="none" stroke-width="0" /><circle cx="1535.7" cy="735.8" r="1.5" fill="#3a3c40" stroke="none" stroke-width="0" /><circle cx="1530.3" cy="739.7" r="1.5" fill="#3a3c40" stroke="none" stroke-width="0" /><circle cx="1523.7" cy="739.7" r="1.5" fill="#3a3c40" stroke="none" stroke-width="0" /><circle cx="1518.3" cy="735.8" r="1.5" fill="#3a3c40" stroke="none" stroke-width="0" /><circle cx="1516.2" cy="729.5" r="1.5" fill="#3a3c40" stroke="none" stroke-width="0" /><circle cx="1518.3" cy="723.2" r="1.5" fill="#3a3c40" stroke="none" stroke-width="0" /><circle cx="1523.7" cy="719.3" r="1.5" fill="#3a3c40" stroke="none" stroke-width="0" /><circle cx="1530.3" cy="719.3" r="1.5" fill="#3a3c40" stroke="none" stroke-width="0" /><circle cx="1535.7" cy="723.2" r="1.5" fill="#3a3c40" stroke="none" stroke-width="0" /><circle cx="1527" cy="729.5" r="4.9" fill="#9a9fa6" stroke="#3a3c40" stroke-width="1" /><line x1="1527" y1="729.5" x2="1538.7" y2="717.8" stroke="#c8ccd2" stroke-width="2.5" /></g>
<g id="pion"><polygon points="105,1012 590,1012 590,1058 105,1058" fill="url(#trk)" stroke="none" stroke-width="0" stroke-linejoin="round" /><line x1="128" y1="1023" x2="558" y2="1018" stroke="#1b1b1b" stroke-width="9" stroke-dasharray="4 7"/><line x1="173" y1="1085" x2="517" y2="1085" stroke="#1b1b1b" stroke-width="8" stroke-dasharray="4 7"/><line x1="113.3" y1="1052.2" x2="172.5" y2="1085.6" stroke="#1b1b1b" stroke-width="8" stroke-dasharray="4 7"/><line x1="517.6" y1="1085.6" x2="575.2" y2="1054.4" stroke="#1b1b1b" stroke-width="8" stroke-dasharray="4 7"/><path d="M124,1017 L562,1012 A26,26 0 0 1 577.6,1058.8 L520,1090 L170,1090 L110.8,1056.6 A22,22 0 0 1 124,1017 Z" fill="none" stroke="#1b1b1b" stroke-width="5" stroke-linejoin="round" /><polygon points="118,990 526,990 526,962 594,962 594,954 644,954 688,992 703,1012 699,1019 573,1063 586,1012 118,1012" fill="#8b946c" stroke="#1b1b1b" stroke-width="2" stroke-linejoin="round" /><polygon points="594,1008 699,1019 573,1063 586,1012" fill="#7d8660" stroke="#1b1b1b" stroke-width="1.5" stroke-linejoin="round" /><rect x="100" y="1007" width="500" height="6" rx="0" fill="#a6ad86" stroke="#1b1b1b" stroke-width="1.5" /><rect x="440" y="970" width="86" height="38" rx="0" fill="#8b946c" stroke="#1b1b1b" stroke-width="1.5" /><rect x="400" y="977" width="125" height="10" rx="0" fill="#4a4a4c" stroke="#1b1b1b" stroke-width="1.5" /><rect x="530" y="971" width="60" height="33" rx="8" fill="#8b946c" stroke="#1b1b1b" stroke-width="1.2" /><rect x="600" y="958" width="14" height="6" rx="0" fill="#555" stroke="#1b1b1b" stroke-width="1" /><rect x="618" y="958" width="14" height="6" rx="0" fill="#555" stroke="#1b1b1b" stroke-width="1" /><line x1="594" y1="962" x2="594" y2="1008" stroke="#1b1b1b" stroke-width="1.5" /><line x1="594" y1="1008" x2="640" y2="1010" stroke="#1b1b1b" stroke-width="1.5" /><rect x="628" y="1012" width="30" height="22" rx="0" fill="#8b946c" stroke="#1b1b1b" stroke-width="1.2" /><rect x="279" y="975" width="122" height="33" rx="0" fill="#8b946c" stroke="#1b1b1b" stroke-width="1.5" /><line x1="298" y1="975" x2="298" y2="1008" stroke="#1b1b1b" stroke-width="1.2" /><line x1="352" y1="975" x2="352" y2="1008" stroke="#1b1b1b" stroke-width="1.2" /><line x1="356" y1="975" x2="356" y2="1008" stroke="#1b1b1b" stroke-width="1.2" /><line x1="392" y1="975" x2="392" y2="1008" stroke="#1b1b1b" stroke-width="1.2" /><line x1="279" y1="990" x2="401" y2="990" stroke="#1b1b1b" stroke-width="1.2" /><rect x="243" y="965" width="27" height="25" rx="8" fill="#8d9670" stroke="#1b1b1b" stroke-width="1.5" /><rect x="128" y="988" width="150" height="8" rx="3" fill="#8d9670" stroke="#1b1b1b" stroke-width="1.2" /><rect x="180" y="982" width="60" height="8" rx="3" fill="#a6ad86" stroke="#1b1b1b" stroke-width="1.2" /><polygon points="120,914 180,909 330,909 357,912 357,950 185,954 182,982 128,982 120,960" fill="url(#barrel)" stroke="#1b1b1b" stroke-width="2" stroke-linejoin="round" /><path d="M124,950 Q150,935 182,950" fill="none" stroke="#1b1b1b" stroke-width="1.2" stroke-linejoin="round" /><rect x="185" y="897" width="138" height="14" rx="3" fill="url(#barrel)" stroke="#1b1b1b" stroke-width="1.5" /><rect x="178" y="945" width="153" height="14" rx="3" fill="url(#barrel)" stroke="#1b1b1b" stroke-width="1.5" /><circle cx="163" cy="962" r="12" fill="#8d9670" stroke="#1b1b1b" stroke-width="1.5" /><circle cx="163" cy="962" r="5" fill="#7d8660" stroke="#1b1b1b" stroke-width="1.5" /><line x1="222" y1="917" x2="305" y2="968" stroke="#1b1b1b" stroke-width="6" /><line x1="222" y1="917" x2="305" y2="968" stroke="#a9b08a" stroke-width="3" /><rect x="296" y="892" width="9" height="70" rx="0" fill="#8b946c" stroke="#1b1b1b" stroke-width="1.5" /><rect x="183" y="925" width="18" height="28" rx="4" fill="none" stroke="#1b1b1b" stroke-width="2.5" /><polygon points="357,910 497,907 886,889 886,903 497,930 357,946" fill="url(#barrel)" stroke="#1b1b1b" stroke-width="2" stroke-linejoin="round" /><rect x="448" y="907" width="6" height="32" rx="0" fill="#8b946c" stroke="#1b1b1b" stroke-width="1.2" /><line x1="586" y1="903" x2="588" y2="962" stroke="#1b1b1b" stroke-width="4" /><line x1="586" y1="903" x2="588" y2="962" stroke="#8d9670" stroke-width="2" /><polygon points="45,950 110,950 120,975 70,980 50,968" fill="url(#olh)" stroke="#1b1b1b" stroke-width="1.5" stroke-linejoin="round" /><circle cx="44" cy="952" r="8" fill="#8b946c" stroke="#1b1b1b" stroke-width="1.5" /><rect x="90" y="925" width="18" height="55" rx="3" fill="none" stroke="#1b1b1b" stroke-width="2.5" /><rect x="70" y="983" width="60" height="6" rx="0" fill="#8b946c" stroke="#1b1b1b" stroke-width="1.2" /><polygon points="22,980 58,1000 52,1028 24,1030 40,1010" fill="#8b946c" stroke="#1b1b1b" stroke-width="1.5" stroke-linejoin="round" /><polygon points="50,1000 110,1005 100,1032 55,1020" fill="#8b946c" stroke="#1b1b1b" stroke-width="1.5" stroke-linejoin="round" /><line x1="60" y1="1000" x2="180" y2="994" stroke="#1b1b1b" stroke-width="4" /><line x1="60" y1="1000" x2="180" y2="994" stroke="#8d9670" stroke-width="2" /><circle cx="124" cy="1039" r="17.2" fill="#7f8862" stroke="#333436" stroke-width="3.6" /><circle cx="124" cy="1039" r="11.4" fill="none" stroke="#a3aa82" stroke-width="9.5" stroke-dasharray="3.6 3.6"/><line x1="130.5" y1="1039" x2="140.7" y2="1039" stroke="#1e1e1e" stroke-width="1.6" /><line x1="129.2" y1="1042.8" x2="137.5" y2="1048.8" stroke="#1e1e1e" stroke-width="1.6" /><line x1="126" y1="1045.1" x2="129.2" y2="1054.9" stroke="#1e1e1e" stroke-width="1.6" /><line x1="122" y1="1045.1" x2="118.8" y2="1054.9" stroke="#1e1e1e" stroke-width="1.6" /><line x1="118.8" y1="1042.8" x2="110.5" y2="1048.8" stroke="#1e1e1e" stroke-width="1.6" /><line x1="117.5" y1="1039" x2="107.3" y2="1039" stroke="#1e1e1e" stroke-width="1.6" /><line x1="118.8" y1="1035.2" x2="110.5" y2="1029.2" stroke="#1e1e1e" stroke-width="1.6" /><line x1="122" y1="1032.9" x2="118.8" y2="1023.1" stroke="#1e1e1e" stroke-width="1.6" /><line x1="126" y1="1032.9" x2="129.2" y2="1023.1" stroke="#1e1e1e" stroke-width="1.6" /><line x1="129.2" y1="1035.2" x2="137.5" y2="1029.2" stroke="#1e1e1e" stroke-width="1.6" /><circle cx="124" cy="1039" r="6.5" fill="#8b946c" stroke="#1b1b1b" stroke-width="1.6" /><circle cx="124" cy="1039" r="3.8" fill="#6e7655" stroke="#1b1b1b" stroke-width="1.3" /><circle cx="198" cy="1050" r="7" fill="#7d8660" stroke="#1b1b1b" stroke-width="1.2" /><circle cx="260" cy="1050" r="7" fill="#7d8660" stroke="#1b1b1b" stroke-width="1.2" /><circle cx="329" cy="1050" r="7" fill="#7d8660" stroke="#1b1b1b" stroke-width="1.2" /><circle cx="185.5" cy="1066.5" r="20.7" fill="#7f8862" stroke="#333436" stroke-width="3.6" /><circle cx="185.5" cy="1066.5" r="13.5" fill="none" stroke="#a3aa82" stroke-width="11.25" stroke-dasharray="4.2 4.2"/><line x1="193.2" y1="1066.5" x2="205.3" y2="1066.5" stroke="#1e1e1e" stroke-width="1.6" /><line x1="191.7" y1="1071" x2="201.5" y2="1078.1" stroke="#1e1e1e" stroke-width="1.6" /><line x1="187.9" y1="1073.8" x2="191.6" y2="1085.3" stroke="#1e1e1e" stroke-width="1.6" /><line x1="183.1" y1="1073.8" x2="179.4" y2="1085.3" stroke="#1e1e1e" stroke-width="1.6" /><line x1="179.3" y1="1071" x2="169.5" y2="1078.1" stroke="#1e1e1e" stroke-width="1.6" /><line x1="177.8" y1="1066.5" x2="165.7" y2="1066.5" stroke="#1e1e1e" stroke-width="1.6" /><line x1="179.3" y1="1062" x2="169.5" y2="1054.9" stroke="#1e1e1e" stroke-width="1.6" /><line x1="183.1" y1="1059.2" x2="179.4" y2="1047.7" stroke="#1e1e1e" stroke-width="1.6" /><line x1="187.9" y1="1059.2" x2="191.6" y2="1047.7" stroke="#1e1e1e" stroke-width="1.6" /><line x1="191.7" y1="1062" x2="201.5" y2="1054.9" stroke="#1e1e1e" stroke-width="1.6" /><circle cx="185.5" cy="1066.5" r="7.7" fill="#8b946c" stroke="#1b1b1b" stroke-width="1.6" /><circle cx="185.5" cy="1066.5" r="4.5" fill="#6e7655" stroke="#1b1b1b" stroke-width="1.3" /><circle cx="238.5" cy="1066.5" r="20.7" fill="#7f8862" stroke="#333436" stroke-width="3.6" /><circle cx="238.5" cy="1066.5" r="13.5" fill="none" stroke="#a3aa82" stroke-width="11.25" stroke-dasharray="4.2 4.2"/><line x1="246.2" y1="1066.5" x2="258.3" y2="1066.5" stroke="#1e1e1e" stroke-width="1.6" /><line x1="244.7" y1="1071" x2="254.5" y2="1078.1" stroke="#1e1e1e" stroke-width="1.6" /><line x1="240.9" y1="1073.8" x2="244.6" y2="1085.3" stroke="#1e1e1e" stroke-width="1.6" /><line x1="236.1" y1="1073.8" x2="232.4" y2="1085.3" stroke="#1e1e1e" stroke-width="1.6" /><line x1="232.3" y1="1071" x2="222.5" y2="1078.1" stroke="#1e1e1e" stroke-width="1.6" /><line x1="230.8" y1="1066.5" x2="218.7" y2="1066.5" stroke="#1e1e1e" stroke-width="1.6" /><line x1="232.3" y1="1062" x2="222.5" y2="1054.9" stroke="#1e1e1e" stroke-width="1.6" /><line x1="236.1" y1="1059.2" x2="232.4" y2="1047.7" stroke="#1e1e1e" stroke-width="1.6" /><line x1="240.9" y1="1059.2" x2="244.6" y2="1047.7" stroke="#1e1e1e" stroke-width="1.6" /><line x1="244.7" y1="1062" x2="254.5" y2="1054.9" stroke="#1e1e1e" stroke-width="1.6" /><circle cx="238.5" cy="1066.5" r="7.7" fill="#8b946c" stroke="#1b1b1b" stroke-width="1.6" /><circle cx="238.5" cy="1066.5" r="4.5" fill="#6e7655" stroke="#1b1b1b" stroke-width="1.3" /><circle cx="292" cy="1066.5" r="20.7" fill="#7f8862" stroke="#333436" stroke-width="3.6" /><circle cx="292" cy="1066.5" r="13.5" fill="none" stroke="#a3aa82" stroke-width="11.25" stroke-dasharray="4.2 4.2"/><line x1="299.6" y1="1066.5" x2="311.8" y2="1066.5" stroke="#1e1e1e" stroke-width="1.6" /><line x1="298.2" y1="1071" x2="308" y2="1078.1" stroke="#1e1e1e" stroke-width="1.6" /><line x1="294.4" y1="1073.8" x2="298.1" y2="1085.3" stroke="#1e1e1e" stroke-width="1.6" /><line x1="289.6" y1="1073.8" x2="285.9" y2="1085.3" stroke="#1e1e1e" stroke-width="1.6" /><line x1="285.8" y1="1071" x2="276" y2="1078.1" stroke="#1e1e1e" stroke-width="1.6" /><line x1="284.4" y1="1066.5" x2="272.2" y2="1066.5" stroke="#1e1e1e" stroke-width="1.6" /><line x1="285.8" y1="1062" x2="276" y2="1054.9" stroke="#1e1e1e" stroke-width="1.6" /><line x1="289.6" y1="1059.2" x2="285.9" y2="1047.7" stroke="#1e1e1e" stroke-width="1.6" /><line x1="294.4" y1="1059.2" x2="298.1" y2="1047.7" stroke="#1e1e1e" stroke-width="1.6" /><line x1="298.2" y1="1062" x2="308" y2="1054.9" stroke="#1e1e1e" stroke-width="1.6" /><circle cx="292" cy="1066.5" r="7.7" fill="#8b946c" stroke="#1b1b1b" stroke-width="1.6" /><circle cx="292" cy="1066.5" r="4.5" fill="#6e7655" stroke="#1b1b1b" stroke-width="1.3" /><circle cx="345" cy="1066.5" r="20.7" fill="#7f8862" stroke="#333436" stroke-width="3.6" /><circle cx="345" cy="1066.5" r="13.5" fill="none" stroke="#a3aa82" stroke-width="11.25" stroke-dasharray="4.2 4.2"/><line x1="352.6" y1="1066.5" x2="364.8" y2="1066.5" stroke="#1e1e1e" stroke-width="1.6" /><line x1="351.2" y1="1071" x2="361" y2="1078.1" stroke="#1e1e1e" stroke-width="1.6" /><line x1="347.4" y1="1073.8" x2="351.1" y2="1085.3" stroke="#1e1e1e" stroke-width="1.6" /><line x1="342.6" y1="1073.8" x2="338.9" y2="1085.3" stroke="#1e1e1e" stroke-width="1.6" /><line x1="338.8" y1="1071" x2="329" y2="1078.1" stroke="#1e1e1e" stroke-width="1.6" /><line x1="337.4" y1="1066.5" x2="325.2" y2="1066.5" stroke="#1e1e1e" stroke-width="1.6" /><line x1="338.8" y1="1062" x2="329" y2="1054.9" stroke="#1e1e1e" stroke-width="1.6" /><line x1="342.6" y1="1059.2" x2="338.9" y2="1047.7" stroke="#1e1e1e" stroke-width="1.6" /><line x1="347.4" y1="1059.2" x2="351.1" y2="1047.7" stroke="#1e1e1e" stroke-width="1.6" /><line x1="351.2" y1="1062" x2="361" y2="1054.9" stroke="#1e1e1e" stroke-width="1.6" /><circle cx="345" cy="1066.5" r="7.7" fill="#8b946c" stroke="#1b1b1b" stroke-width="1.6" /><circle cx="345" cy="1066.5" r="4.5" fill="#6e7655" stroke="#1b1b1b" stroke-width="1.3" /><circle cx="399" cy="1066.5" r="20.7" fill="#7f8862" stroke="#333436" stroke-width="3.6" /><circle cx="399" cy="1066.5" r="13.5" fill="none" stroke="#a3aa82" stroke-width="11.25" stroke-dasharray="4.2 4.2"/><line x1="406.6" y1="1066.5" x2="418.8" y2="1066.5" stroke="#1e1e1e" stroke-width="1.6" /><line x1="405.2" y1="1071" x2="415" y2="1078.1" stroke="#1e1e1e" stroke-width="1.6" /><line x1="401.4" y1="1073.8" x2="405.1" y2="1085.3" stroke="#1e1e1e" stroke-width="1.6" /><line x1="396.6" y1="1073.8" x2="392.9" y2="1085.3" stroke="#1e1e1e" stroke-width="1.6" /><line x1="392.8" y1="1071" x2="383" y2="1078.1" stroke="#1e1e1e" stroke-width="1.6" /><line x1="391.4" y1="1066.5" x2="379.2" y2="1066.5" stroke="#1e1e1e" stroke-width="1.6" /><line x1="392.8" y1="1062" x2="383" y2="1054.9" stroke="#1e1e1e" stroke-width="1.6" /><line x1="396.6" y1="1059.2" x2="392.9" y2="1047.7" stroke="#1e1e1e" stroke-width="1.6" /><line x1="401.4" y1="1059.2" x2="405.1" y2="1047.7" stroke="#1e1e1e" stroke-width="1.6" /><line x1="405.2" y1="1062" x2="415" y2="1054.9" stroke="#1e1e1e" stroke-width="1.6" /><circle cx="399" cy="1066.5" r="7.7" fill="#8b946c" stroke="#1b1b1b" stroke-width="1.6" /><circle cx="399" cy="1066.5" r="4.5" fill="#6e7655" stroke="#1b1b1b" stroke-width="1.3" /><circle cx="452" cy="1066.5" r="20.7" fill="#7f8862" stroke="#333436" stroke-width="3.6" /><circle cx="452" cy="1066.5" r="13.5" fill="none" stroke="#a3aa82" stroke-width="11.25" stroke-dasharray="4.2 4.2"/><line x1="459.6" y1="1066.5" x2="471.8" y2="1066.5" stroke="#1e1e1e" stroke-width="1.6" /><line x1="458.2" y1="1071" x2="468" y2="1078.1" stroke="#1e1e1e" stroke-width="1.6" /><line x1="454.4" y1="1073.8" x2="458.1" y2="1085.3" stroke="#1e1e1e" stroke-width="1.6" /><line x1="449.6" y1="1073.8" x2="445.9" y2="1085.3" stroke="#1e1e1e" stroke-width="1.6" /><line x1="445.8" y1="1071" x2="436" y2="1078.1" stroke="#1e1e1e" stroke-width="1.6" /><line x1="444.4" y1="1066.5" x2="432.2" y2="1066.5" stroke="#1e1e1e" stroke-width="1.6" /><line x1="445.8" y1="1062" x2="436" y2="1054.9" stroke="#1e1e1e" stroke-width="1.6" /><line x1="449.6" y1="1059.2" x2="445.9" y2="1047.7" stroke="#1e1e1e" stroke-width="1.6" /><line x1="454.4" y1="1059.2" x2="458.1" y2="1047.7" stroke="#1e1e1e" stroke-width="1.6" /><line x1="458.2" y1="1062" x2="468" y2="1054.9" stroke="#1e1e1e" stroke-width="1.6" /><circle cx="452" cy="1066.5" r="7.7" fill="#8b946c" stroke="#1b1b1b" stroke-width="1.6" /><circle cx="452" cy="1066.5" r="4.5" fill="#6e7655" stroke="#1b1b1b" stroke-width="1.3" /><circle cx="506" cy="1066.5" r="20.7" fill="#7f8862" stroke="#333436" stroke-width="3.6" /><circle cx="506" cy="1066.5" r="13.5" fill="none" stroke="#a3aa82" stroke-width="11.25" stroke-dasharray="4.2 4.2"/><line x1="513.6" y1="1066.5" x2="525.8" y2="1066.5" stroke="#1e1e1e" stroke-width="1.6" /><line x1="512.2" y1="1071" x2="522" y2="1078.1" stroke="#1e1e1e" stroke-width="1.6" /><line x1="508.4" y1="1073.8" x2="512.1" y2="1085.3" stroke="#1e1e1e" stroke-width="1.6" /><line x1="503.6" y1="1073.8" x2="499.9" y2="1085.3" stroke="#1e1e1e" stroke-width="1.6" /><line x1="499.8" y1="1071" x2="490" y2="1078.1" stroke="#1e1e1e" stroke-width="1.6" /><line x1="498.4" y1="1066.5" x2="486.2" y2="1066.5" stroke="#1e1e1e" stroke-width="1.6" /><line x1="499.8" y1="1062" x2="490" y2="1054.9" stroke="#1e1e1e" stroke-width="1.6" /><line x1="503.6" y1="1059.2" x2="499.9" y2="1047.7" stroke="#1e1e1e" stroke-width="1.6" /><line x1="508.4" y1="1059.2" x2="512.1" y2="1047.7" stroke="#1e1e1e" stroke-width="1.6" /><line x1="512.2" y1="1062" x2="522" y2="1054.9" stroke="#1e1e1e" stroke-width="1.6" /><circle cx="506" cy="1066.5" r="7.7" fill="#8b946c" stroke="#1b1b1b" stroke-width="1.6" /><circle cx="506" cy="1066.5" r="4.5" fill="#6e7655" stroke="#1b1b1b" stroke-width="1.3" /><circle cx="562" cy="1038" r="23" fill="#7d8660" stroke="#1b1b1b" stroke-width="2.5" /><circle cx="562" cy="1038" r="18.9" fill="none" stroke="#2a2a2a" stroke-width="1.2" stroke-dasharray="2 3"/><circle cx="574.6" cy="1038" r="3" fill="#3a3a3a" stroke="#1b1b1b" stroke-width="1" /><circle cx="568.3" cy="1049" r="3" fill="#3a3a3a" stroke="#1b1b1b" stroke-width="1" /><circle cx="555.7" cy="1049" r="3" fill="#3a3a3a" stroke="#1b1b1b" stroke-width="1" /><circle cx="549.4" cy="1038" r="3" fill="#3a3a3a" stroke="#1b1b1b" stroke-width="1" /><circle cx="555.7" cy="1027" r="3" fill="#3a3a3a" stroke="#1b1b1b" stroke-width="1" /><circle cx="568.3" cy="1027" r="3" fill="#3a3a3a" stroke="#1b1b1b" stroke-width="1" /><circle cx="562" cy="1038" r="6.9" fill="#8d9670" stroke="#1b1b1b" stroke-width="1.5" /><circle cx="562" cy="1038" r="3.4" fill="#6e7655" stroke="#1b1b1b" stroke-width="1" /></g>
<g id="vasilek"><line x1="775" y1="1065" x2="972" y2="1046" stroke="#1b1b1b" stroke-width="5" /><line x1="775" y1="1065" x2="972" y2="1046" stroke="#8d9670" stroke-width="2.5" /><line x1="790" y1="1067" x2="975" y2="1058" stroke="#1b1b1b" stroke-width="5" /><line x1="790" y1="1067" x2="975" y2="1058" stroke="#8d9670" stroke-width="2.5" /><line x1="774" y1="1066" x2="780" y2="1092" stroke="#1b1b1b" stroke-width="4" /><line x1="774" y1="1066" x2="780" y2="1092" stroke="#8d9670" stroke-width="1.8" /><line x1="795" y1="1064" x2="782" y2="1090" stroke="#1b1b1b" stroke-width="4" /><line x1="795" y1="1064" x2="782" y2="1090" stroke="#8d9670" stroke-width="1.8" /><path d="M778,1088 L795,1088 Q800,1088 800,1093 L800,1096 L792,1096 L792,1093 L778,1093 Z" fill="#8d9670" stroke="#1b1b1b" stroke-width="1.5" stroke-linejoin="round" /><circle cx="773" cy="1064" r="3" fill="#8d9670" stroke="#1b1b1b" stroke-width="1.2" /><rect x="822" y="1058" width="20" height="8" rx="3" fill="none" stroke="#1b1b1b" stroke-width="2" /><polygon points="902.3,1035.3 1144.3,975.3 1141.7,964.7 899.7,1024.7" fill="url(#barrel)" stroke="#1b1b1b" stroke-width="2" stroke-linejoin="round" /><polygon points="902,1017.4 1081,985.4 1079,974.6 900,1006.6" fill="url(#barrel)" stroke="#1b1b1b" stroke-width="2" stroke-linejoin="round" /><polygon points="1061.6,996.8 1144.6,976.8 1141.4,963.2 1058.4,983.2" fill="url(#barrel)" stroke="#1b1b1b" stroke-width="2" stroke-linejoin="round" /><rect x="910" y="1000" width="10" height="40" rx="3" fill="none" stroke="#1b1b1b" stroke-width="2" /><circle cx="985" cy="1003" r="20" fill="#8d9670" stroke="#1b1b1b" stroke-width="1.8" /><rect x="975" y="995" width="28" height="14" rx="6" fill="#7d8660" stroke="#1b1b1b" stroke-width="1.2" /><circle cx="951" cy="1011" r="8" fill="#7d8660" stroke="#1b1b1b" stroke-width="1.5" /><polygon points="975,1020 1030,1012 1040,1045 990,1048" fill="#8b946c" stroke="#1b1b1b" stroke-width="1.5" stroke-linejoin="round" /><circle cx="1015" cy="1033" r="12" fill="#8d9670" stroke="#1b1b1b" stroke-width="1.5" /><circle cx="1046" cy="1033" r="8" fill="#8d9670" stroke="#1b1b1b" stroke-width="1.5" /><rect x="1052" y="1045" width="14" height="40" rx="0" fill="#222" stroke="#1b1b1b" stroke-width="1.2" /><line x1="1050" y1="1050" x2="1068" y2="1050" stroke="#555" stroke-width="1.5" /><line x1="1050" y1="1056" x2="1068" y2="1056" stroke="#555" stroke-width="1.5" /><line x1="1050" y1="1062" x2="1068" y2="1062" stroke="#555" stroke-width="1.5" /><line x1="1050" y1="1068" x2="1068" y2="1068" stroke="#555" stroke-width="1.5" /><line x1="1050" y1="1074" x2="1068" y2="1074" stroke="#555" stroke-width="1.5" /><line x1="1050" y1="1080" x2="1068" y2="1080" stroke="#555" stroke-width="1.5" /><path d="M1038,1093 Q1040,1082 1060,1082 Q1082,1082 1084,1093 Z" fill="#8b946c" stroke="#1b1b1b" stroke-width="1.5" stroke-linejoin="round" /><circle cx="1062" cy="1047" r="5" fill="#7d8660" stroke="#1b1b1b" stroke-width="1.2" /><line x1="1062" y1="1047" x2="1075" y2="1047" stroke="#1b1b1b" stroke-width="2" /><circle cx="998" cy="1064" r="29" fill="#3c3c3e" stroke="#1b1b1b" stroke-width="1.8" /><circle cx="998" cy="1064" r="17" fill="#8d9670" stroke="#1b1b1b" stroke-width="1.5" /><circle cx="998" cy="1064" r="11" fill="none" stroke="#3c3c3e" stroke-width="2.5" stroke-dasharray="3 3"/><circle cx="998" cy="1064" r="5" fill="#7d8660" stroke="#1b1b1b" stroke-width="1.2" /></g>
<g id="khrizantema"><rect x="1272" y="1025" width="410" height="38" rx="0" fill="url(#trk)" stroke="none" stroke-width="0" /><line x1="1292" y1="1025" x2="1667" y2="1024" stroke="#1b1b1b" stroke-width="9" stroke-dasharray="4 7"/><line x1="1333" y1="1087" x2="1625" y2="1087" stroke="#1b1b1b" stroke-width="8" stroke-dasharray="4 7"/><line x1="1277.4" y1="1054.3" x2="1332.6" y2="1087.7" stroke="#1b1b1b" stroke-width="8" stroke-dasharray="4 7"/><line x1="1625" y1="1088" x2="1679.4" y2="1048.2" stroke="#1b1b1b" stroke-width="8" stroke-dasharray="4 7"/><path d="M1288,1019 L1671,1018 A19,19 0 0 1 1682.4,1052.2 L1628,1092 L1330,1092 L1274.8,1058.6 A22,22 0 0 1 1288,1019 Z" fill="none" stroke="#1b1b1b" stroke-width="5" stroke-linejoin="round" /><polygon points="1257,962 1385,962 1388,966 1610,970 1690,990 1708,1005 1700,1026 1257,1026" fill="#8b946c" stroke="#1b1b1b" stroke-width="2" stroke-linejoin="round" /><polygon points="1253,1006 1705,1006 1708,1022 1690,1028 1255,1028 1245,1020" fill="#9aa27a" stroke="#1b1b1b" stroke-width="1.5" stroke-linejoin="round" /><line x1="1285" y1="1007" x2="1285" y2="1027" stroke="#1b1b1b" stroke-width="1" /><line x1="1303" y1="1007" x2="1303" y2="1027" stroke="#1b1b1b" stroke-width="1" /><line x1="1321" y1="1007" x2="1321" y2="1027" stroke="#1b1b1b" stroke-width="1" /><line x1="1339" y1="1007" x2="1339" y2="1027" stroke="#1b1b1b" stroke-width="1" /><line x1="1357" y1="1007" x2="1357" y2="1027" stroke="#1b1b1b" stroke-width="1" /><line x1="1375" y1="1007" x2="1375" y2="1027" stroke="#1b1b1b" stroke-width="1" /><line x1="1393" y1="1007" x2="1393" y2="1027" stroke="#1b1b1b" stroke-width="1" /><line x1="1411" y1="1007" x2="1411" y2="1027" stroke="#1b1b1b" stroke-width="1" /><line x1="1429" y1="1007" x2="1429" y2="1027" stroke="#1b1b1b" stroke-width="1" /><line x1="1447" y1="1007" x2="1447" y2="1027" stroke="#1b1b1b" stroke-width="1" /><line x1="1465" y1="1007" x2="1465" y2="1027" stroke="#1b1b1b" stroke-width="1" /><line x1="1483" y1="1007" x2="1483" y2="1027" stroke="#1b1b1b" stroke-width="1" /><line x1="1501" y1="1007" x2="1501" y2="1027" stroke="#1b1b1b" stroke-width="1" /><line x1="1519" y1="1007" x2="1519" y2="1027" stroke="#1b1b1b" stroke-width="1" /><line x1="1537" y1="1007" x2="1537" y2="1027" stroke="#1b1b1b" stroke-width="1" /><line x1="1555" y1="1007" x2="1555" y2="1027" stroke="#1b1b1b" stroke-width="1" /><line x1="1573" y1="1007" x2="1573" y2="1027" stroke="#1b1b1b" stroke-width="1" /><line x1="1591" y1="1007" x2="1591" y2="1027" stroke="#1b1b1b" stroke-width="1" /><line x1="1609" y1="1007" x2="1609" y2="1027" stroke="#1b1b1b" stroke-width="1" /><line x1="1627" y1="1007" x2="1627" y2="1027" stroke="#1b1b1b" stroke-width="1" /><line x1="1645" y1="1007" x2="1645" y2="1027" stroke="#1b1b1b" stroke-width="1" /><line x1="1663" y1="1007" x2="1663" y2="1027" stroke="#1b1b1b" stroke-width="1" /><line x1="1681" y1="1007" x2="1681" y2="1027" stroke="#1b1b1b" stroke-width="1" /><line x1="1699" y1="1007" x2="1699" y2="1027" stroke="#1b1b1b" stroke-width="1" /><rect x="1267" y="992" width="85" height="10.5" rx="0" fill="#111" stroke="#1b1b1b" stroke-width="1" /><line x1="1289" y1="992" x2="1289" y2="1002.5" stroke="#555" stroke-width="1" /><line x1="1310" y1="992" x2="1310" y2="1002.5" stroke="#555" stroke-width="1" /><line x1="1330" y1="992" x2="1330" y2="1002.5" stroke="#555" stroke-width="1" /><rect x="1355" y="991" width="16" height="12" rx="0" fill="#7d8660" stroke="#1b1b1b" stroke-width="1" /><line x1="1260" y1="985" x2="1370" y2="985" stroke="#1b1b1b" stroke-width="1.2" /><polygon points="1350,967 1417,974.5 1417,997 1391,996" fill="none" stroke="#1b1b1b" stroke-width="2" stroke-linejoin="round" /><path d="M1388.8,994 L1401.7,975.6 L1412.5,995" fill="none" stroke="#1b1b1b" stroke-width="2" stroke-linejoin="round" /><rect x="1417" y="975" width="5" height="7" rx="0" fill="#7d8660" stroke="#1b1b1b" stroke-width="1" /><rect x="1417" y="989" width="5" height="7" rx="0" fill="#7d8660" stroke="#1b1b1b" stroke-width="1" /><polygon points="1495,967 1562,974.5 1562,997 1536,996" fill="none" stroke="#1b1b1b" stroke-width="2" stroke-linejoin="round" /><path d="M1533.8,994 L1546.7,975.6 L1557.5,995" fill="none" stroke="#1b1b1b" stroke-width="2" stroke-linejoin="round" /><rect x="1562" y="975" width="5" height="7" rx="0" fill="#7d8660" stroke="#1b1b1b" stroke-width="1" /><rect x="1562" y="989" width="5" height="7" rx="0" fill="#7d8660" stroke="#1b1b1b" stroke-width="1" /><rect x="1590" y="973" width="82" height="28" rx="0" fill="#8b946c" stroke="#1b1b1b" stroke-width="1.5" /><rect x="1641" y="953" width="25" height="22" rx="0" fill="#7d8660" stroke="#1b1b1b" stroke-width="1.5" /><rect x="1471" y="941" width="84" height="26" rx="0" fill="#8b946c" stroke="#1b1b1b" stroke-width="2" /><rect x="1478" y="951" width="10" height="46" rx="0" fill="#222" stroke="#1b1b1b" stroke-width="1" /><rect x="1500" y="915" width="30" height="30" rx="0" fill="#7d8660" stroke="#1b1b1b" stroke-width="1.5" /><circle cx="1515" cy="912" r="12" fill="#8d9670" stroke="#1b1b1b" stroke-width="1.5" /><path d="M1537,923 Q1548,935 1537,953 Z" fill="#d1a05a" stroke="#1b1b1b" stroke-width="1.2" stroke-linejoin="round" /><circle cx="1501" cy="926" r="7" fill="#7d8660" stroke="#1b1b1b" stroke-width="1.2" /><polygon points="1481.5,909.8 1618.5,879.8 1615.5,866.2 1478.5,896.2" fill="url(#barrel)" stroke="#1b1b1b" stroke-width="2" stroke-linejoin="round" /><line x1="1510" y1="906" x2="1585" y2="890" stroke="#1b1b1b" stroke-width="1.2" /><circle cx="1288" cy="1041" r="19" fill="#7d8660" stroke="#1b1b1b" stroke-width="2.5" /><circle cx="1288" cy="1041" r="15.6" fill="none" stroke="#2a2a2a" stroke-width="1.2" stroke-dasharray="2 3"/><circle cx="1298.5" cy="1041" r="2.5" fill="#3a3a3a" stroke="#1b1b1b" stroke-width="1" /><circle cx="1293.2" cy="1050" r="2.5" fill="#3a3a3a" stroke="#1b1b1b" stroke-width="1" /><circle cx="1282.8" cy="1050" r="2.5" fill="#3a3a3a" stroke="#1b1b1b" stroke-width="1" /><circle cx="1277.5" cy="1041" r="2.5" fill="#3a3a3a" stroke="#1b1b1b" stroke-width="1" /><circle cx="1282.8" cy="1032" r="2.5" fill="#3a3a3a" stroke="#1b1b1b" stroke-width="1" /><circle cx="1293.2" cy="1032" r="2.5" fill="#3a3a3a" stroke="#1b1b1b" stroke-width="1" /><circle cx="1288" cy="1041" r="5.7" fill="#8d9670" stroke="#1b1b1b" stroke-width="1.5" /><circle cx="1288" cy="1041" r="2.9" fill="#6e7655" stroke="#1b1b1b" stroke-width="1" /><circle cx="1337" cy="1069.4" r="18.5" fill="#8b946c" stroke="#1b1b1b" stroke-width="2" /><circle cx="1337" cy="1069.4" r="16" fill="none" stroke="#5f6647" stroke-width="1.2" /><circle cx="1337" cy="1069.4" r="10.7" fill="#7d8660" stroke="#1b1b1b" stroke-width="1.4" /><circle cx="1345.2" cy="1069.4" r="1.4" fill="#333" stroke="none" stroke-width="0" /><circle cx="1341.1" cy="1076.5" r="1.4" fill="#333" stroke="none" stroke-width="0" /><circle cx="1332.9" cy="1076.5" r="1.4" fill="#333" stroke="none" stroke-width="0" /><circle cx="1328.8" cy="1069.4" r="1.4" fill="#333" stroke="none" stroke-width="0" /><circle cx="1332.9" cy="1062.3" r="1.4" fill="#333" stroke="none" stroke-width="0" /><circle cx="1341.1" cy="1062.3" r="1.4" fill="#333" stroke="none" stroke-width="0" /><circle cx="1337" cy="1069.4" r="5.5" fill="#8b946c" stroke="#1b1b1b" stroke-width="1.3" /><circle cx="1400.6" cy="1069.4" r="18.5" fill="#8b946c" stroke="#1b1b1b" stroke-width="2" /><circle cx="1400.6" cy="1069.4" r="16" fill="none" stroke="#5f6647" stroke-width="1.2" /><circle cx="1400.6" cy="1069.4" r="10.7" fill="#7d8660" stroke="#1b1b1b" stroke-width="1.4" /><circle cx="1408.8" cy="1069.4" r="1.4" fill="#333" stroke="none" stroke-width="0" /><circle cx="1404.7" cy="1076.5" r="1.4" fill="#333" stroke="none" stroke-width="0" /><circle cx="1396.5" cy="1076.5" r="1.4" fill="#333" stroke="none" stroke-width="0" /><circle cx="1392.4" cy="1069.4" r="1.4" fill="#333" stroke="none" stroke-width="0" /><circle cx="1396.5" cy="1062.3" r="1.4" fill="#333" stroke="none" stroke-width="0" /><circle cx="1404.7" cy="1062.3" r="1.4" fill="#333" stroke="none" stroke-width="0" /><circle cx="1400.6" cy="1069.4" r="5.5" fill="#8b946c" stroke="#1b1b1b" stroke-width="1.3" /><circle cx="1451.3" cy="1069.4" r="18.5" fill="#8b946c" stroke="#1b1b1b" stroke-width="2" /><circle cx="1451.3" cy="1069.4" r="16" fill="none" stroke="#5f6647" stroke-width="1.2" /><circle cx="1451.3" cy="1069.4" r="10.7" fill="#7d8660" stroke="#1b1b1b" stroke-width="1.4" /><circle cx="1459.5" cy="1069.4" r="1.4" fill="#333" stroke="none" stroke-width="0" /><circle cx="1455.4" cy="1076.5" r="1.4" fill="#333" stroke="none" stroke-width="0" /><circle cx="1447.2" cy="1076.5" r="1.4" fill="#333" stroke="none" stroke-width="0" /><circle cx="1443.1" cy="1069.4" r="1.4" fill="#333" stroke="none" stroke-width="0" /><circle cx="1447.2" cy="1062.3" r="1.4" fill="#333" stroke="none" stroke-width="0" /><circle cx="1455.4" cy="1062.3" r="1.4" fill="#333" stroke="none" stroke-width="0" /><circle cx="1451.3" cy="1069.4" r="5.5" fill="#8b946c" stroke="#1b1b1b" stroke-width="1.3" /><circle cx="1508" cy="1069.4" r="18.5" fill="#8b946c" stroke="#1b1b1b" stroke-width="2" /><circle cx="1508" cy="1069.4" r="16" fill="none" stroke="#5f6647" stroke-width="1.2" /><circle cx="1508" cy="1069.4" r="10.7" fill="#7d8660" stroke="#1b1b1b" stroke-width="1.4" /><circle cx="1516.2" cy="1069.4" r="1.4" fill="#333" stroke="none" stroke-width="0" /><circle cx="1512.1" cy="1076.5" r="1.4" fill="#333" stroke="none" stroke-width="0" /><circle cx="1503.9" cy="1076.5" r="1.4" fill="#333" stroke="none" stroke-width="0" /><circle cx="1499.8" cy="1069.4" r="1.4" fill="#333" stroke="none" stroke-width="0" /><circle cx="1503.9" cy="1062.3" r="1.4" fill="#333" stroke="none" stroke-width="0" /><circle cx="1512.1" cy="1062.3" r="1.4" fill="#333" stroke="none" stroke-width="0" /><circle cx="1508" cy="1069.4" r="5.5" fill="#8b946c" stroke="#1b1b1b" stroke-width="1.3" /><circle cx="1571.4" cy="1069.4" r="18.5" fill="#8b946c" stroke="#1b1b1b" stroke-width="2" /><circle cx="1571.4" cy="1069.4" r="16" fill="none" stroke="#5f6647" stroke-width="1.2" /><circle cx="1571.4" cy="1069.4" r="10.7" fill="#7d8660" stroke="#1b1b1b" stroke-width="1.4" /><circle cx="1579.6" cy="1069.4" r="1.4" fill="#333" stroke="none" stroke-width="0" /><circle cx="1575.5" cy="1076.5" r="1.4" fill="#333" stroke="none" stroke-width="0" /><circle cx="1567.3" cy="1076.5" r="1.4" fill="#333" stroke="none" stroke-width="0" /><circle cx="1563.2" cy="1069.4" r="1.4" fill="#333" stroke="none" stroke-width="0" /><circle cx="1567.3" cy="1062.3" r="1.4" fill="#333" stroke="none" stroke-width="0" /><circle cx="1575.5" cy="1062.3" r="1.4" fill="#333" stroke="none" stroke-width="0" /><circle cx="1571.4" cy="1069.4" r="5.5" fill="#8b946c" stroke="#1b1b1b" stroke-width="1.3" /><circle cx="1621.3" cy="1069.4" r="18.5" fill="#8b946c" stroke="#1b1b1b" stroke-width="2" /><circle cx="1621.3" cy="1069.4" r="16" fill="none" stroke="#5f6647" stroke-width="1.2" /><circle cx="1621.3" cy="1069.4" r="10.7" fill="#7d8660" stroke="#1b1b1b" stroke-width="1.4" /><circle cx="1629.5" cy="1069.4" r="1.4" fill="#333" stroke="none" stroke-width="0" /><circle cx="1625.4" cy="1076.5" r="1.4" fill="#333" stroke="none" stroke-width="0" /><circle cx="1617.2" cy="1076.5" r="1.4" fill="#333" stroke="none" stroke-width="0" /><circle cx="1613.1" cy="1069.4" r="1.4" fill="#333" stroke="none" stroke-width="0" /><circle cx="1617.2" cy="1062.3" r="1.4" fill="#333" stroke="none" stroke-width="0" /><circle cx="1625.4" cy="1062.3" r="1.4" fill="#333" stroke="none" stroke-width="0" /><circle cx="1621.3" cy="1069.4" r="5.5" fill="#8b946c" stroke="#1b1b1b" stroke-width="1.3" /><circle cx="1671" cy="1037" r="16" fill="#7d8660" stroke="#1b1b1b" stroke-width="2.5" /><circle cx="1671" cy="1037" r="13.1" fill="none" stroke="#2a2a2a" stroke-width="1.2" stroke-dasharray="2 3"/><circle cx="1679.8" cy="1037" r="2.1" fill="#3a3a3a" stroke="#1b1b1b" stroke-width="1" /><circle cx="1675.4" cy="1044.6" r="2.1" fill="#3a3a3a" stroke="#1b1b1b" stroke-width="1" /><circle cx="1666.6" cy="1044.6" r="2.1" fill="#3a3a3a" stroke="#1b1b1b" stroke-width="1" /><circle cx="1662.2" cy="1037" r="2.1" fill="#3a3a3a" stroke="#1b1b1b" stroke-width="1" /><circle cx="1666.6" cy="1029.4" r="2.1" fill="#3a3a3a" stroke="#1b1b1b" stroke-width="1" /><circle cx="1675.4" cy="1029.4" r="2.1" fill="#3a3a3a" stroke="#1b1b1b" stroke-width="1" /><circle cx="1671" cy="1037" r="4.8" fill="#8d9670" stroke="#1b1b1b" stroke-width="1.5" /><circle cx="1671" cy="1037" r="2.4" fill="#6e7655" stroke="#1b1b1b" stroke-width="1" /></g>
<g id="grad"><polygon points="27,1340 60,1340 100,1320 315,1317 340,1330 484,1340 484,1372 27,1372" fill="#4a5a3a" stroke="#1b1b1b" stroke-width="1.5" stroke-linejoin="round" /><rect x="262" y="1318" width="50" height="30" rx="0" fill="#2a2a2a" stroke="#1b1b1b" stroke-width="1.2" /><polygon points="48,1302 90,1298 170,1300 170,1323 55,1323" fill="#8a9268" stroke="#1b1b1b" stroke-width="2" stroke-linejoin="round" /><rect x="125" y="1318" width="95" height="7" rx="0" fill="#4a5a3a" stroke="#1b1b1b" stroke-width="1.2" /><polygon points="49,1251 240,1225 247,1264 68,1292" fill="#8a9268" stroke="#1b1b1b" stroke-width="2" stroke-linejoin="round" /><line x1="61.8" y1="1261.2" x2="241.8" y2="1234.8" stroke="#1b1b1b" stroke-width="1.2" /><line x1="66.5" y1="1271.5" x2="243.5" y2="1244.5" stroke="#1b1b1b" stroke-width="1.2" /><line x1="71.2" y1="1281.8" x2="245.2" y2="1254.2" stroke="#1b1b1b" stroke-width="1.2" /><rect x="52" y="1248" width="16" height="44" rx="0" fill="#8a9268" stroke="#1b1b1b" stroke-width="1.5" /><line x1="180" y1="1232" x2="188" y2="1272" stroke="#1b1b1b" stroke-width="3" /><polygon points="100,1295 120,1290 160,1305 145,1315" fill="#8a9268" stroke="#1b1b1b" stroke-width="1.5" stroke-linejoin="round" /><circle cx="52" cy="1322" r="10" fill="#8a9268" stroke="#1b1b1b" stroke-width="1.5" /><line x1="18" y1="1315" x2="50" y2="1310" stroke="#1b1b1b" stroke-width="3" /><rect x="217" y="1318" width="72" height="18" rx="0" fill="#8a9268" stroke="#1b1b1b" stroke-width="1.5" /><rect x="286" y="1270" width="30" height="82" rx="10" fill="#111" stroke="#1b1b1b" stroke-width="1.5" /><rect x="289" y="1316" width="25" height="20" rx="5" fill="#8a9268" stroke="#1b1b1b" stroke-width="1.2" /><path d="M320,1262 Q321,1249 335,1249 L383,1249 Q390,1251 391,1255 L399,1289 Q460,1292 492,1305 L499,1320 L497,1347 L333,1347 L320,1345 Z" fill="#8a9268" stroke="#1b1b1b" stroke-width="1.6" stroke-linejoin="round" /><rect x="336.7" y="1262" width="41.8" height="26.8" rx="2" fill="#b8dad8" stroke="#1b1b1b" stroke-width="1.5" /><line x1="364" y1="1262" x2="364" y2="1289" stroke="#1b1b1b" stroke-width="1.2" /><polygon points="379,1259 385,1258 396,1288 388,1289" fill="#b8dad8" stroke="#1b1b1b" stroke-width="1.2" stroke-linejoin="round" /><rect x="332" y="1259" width="60" height="0.1" rx="0" fill="none" stroke="#1b1b1b" stroke-width="1" /><line x1="332" y1="1260" x2="332" y2="1347" stroke="#1b1b1b" stroke-width="1.2" /><line x1="383" y1="1289" x2="383" y2="1340" stroke="#1b1b1b" stroke-width="1.2" /><line x1="408" y1="1289" x2="408" y2="1320" stroke="#1b1b1b" stroke-width="1.2" /><line x1="408" y1="1309" x2="497" y2="1309" stroke="#1b1b1b" stroke-width="1.2" /><circle cx="340" cy="1303" r="4.5" fill="none" stroke="#1b1b1b" stroke-width="1.2" /><path d="M335,1303 L362,1303 L363,1306 L383,1306" fill="none" stroke="#1b1b1b" stroke-width="1.2" stroke-linejoin="round" /><rect x="390" y="1297" width="7" height="7" rx="0" fill="none" stroke="#1b1b1b" stroke-width="1.2" /><polygon points="368.5,1367 381,1333.5 409,1321.6 487,1321.6 488,1359 471,1367" fill="#4a5a3a" stroke="#1b1b1b" stroke-width="1.5" stroke-linejoin="round" /><polygon points="393,1336 410,1326 480,1326 480,1344 440,1335 400,1340" fill="#3c4a30" stroke="#1b1b1b" stroke-width="1" stroke-linejoin="round" /><rect x="483" y="1346.5" width="21.8" height="11.9" rx="0" fill="#111" stroke="#1b1b1b" stroke-width="1" /><rect x="333" y="1347" width="40" height="20" rx="0" fill="#8a9268" stroke="#1b1b1b" stroke-width="1.2" /><rect x="232" y="1350" width="80" height="22" rx="0" fill="#333" stroke="#1b1b1b" stroke-width="1.5" /><circle cx="105.7" cy="1378" r="37.9" fill="url(#tire)" stroke="#1e1e20" stroke-width="1.5" /><circle cx="105.7" cy="1378" r="38.3" fill="none" stroke="#25272b" stroke-width="3.95" stroke-dasharray="5.5 5.5"/><circle cx="105.7" cy="1378" r="17.4" fill="#a6abb2" stroke="#26282b" stroke-width="1.5" /><circle cx="105.7" cy="1378" r="13.2" fill="#7b8087" stroke="#3a3c40" stroke-width="1" /><circle cx="115.3" cy="1378" r="1.4" fill="#3a3c40" stroke="none" stroke-width="0" /><circle cx="113.4" cy="1383.6" r="1.4" fill="#3a3c40" stroke="none" stroke-width="0" /><circle cx="108.7" cy="1387.1" r="1.4" fill="#3a3c40" stroke="none" stroke-width="0" /><circle cx="102.7" cy="1387.1" r="1.4" fill="#3a3c40" stroke="none" stroke-width="0" /><circle cx="98" cy="1383.6" r="1.4" fill="#3a3c40" stroke="none" stroke-width="0" /><circle cx="96.1" cy="1378" r="1.4" fill="#3a3c40" stroke="none" stroke-width="0" /><circle cx="98" cy="1372.4" r="1.4" fill="#3a3c40" stroke="none" stroke-width="0" /><circle cx="102.7" cy="1368.9" r="1.4" fill="#3a3c40" stroke="none" stroke-width="0" /><circle cx="108.7" cy="1368.9" r="1.4" fill="#3a3c40" stroke="none" stroke-width="0" /><circle cx="113.4" cy="1372.4" r="1.4" fill="#3a3c40" stroke="none" stroke-width="0" /><circle cx="105.7" cy="1378" r="4.3" fill="#9a9fa6" stroke="#3a3c40" stroke-width="1" /><line x1="105.7" y1="1378" x2="116.1" y2="1367.6" stroke="#c8ccd2" stroke-width="2.5" /><circle cx="195.4" cy="1378" r="37.9" fill="url(#tire)" stroke="#1e1e20" stroke-width="1.5" /><circle cx="195.4" cy="1378" r="38.3" fill="none" stroke="#25272b" stroke-width="3.95" stroke-dasharray="5.5 5.5"/><circle cx="195.4" cy="1378" r="17.4" fill="#a6abb2" stroke="#26282b" stroke-width="1.5" /><circle cx="195.4" cy="1378" r="13.2" fill="#7b8087" stroke="#3a3c40" stroke-width="1" /><circle cx="205" cy="1378" r="1.4" fill="#3a3c40" stroke="none" stroke-width="0" /><circle cx="203.1" cy="1383.6" r="1.4" fill="#3a3c40" stroke="none" stroke-width="0" /><circle cx="198.4" cy="1387.1" r="1.4" fill="#3a3c40" stroke="none" stroke-width="0" /><circle cx="192.4" cy="1387.1" r="1.4" fill="#3a3c40" stroke="none" stroke-width="0" /><circle cx="187.7" cy="1383.6" r="1.4" fill="#3a3c40" stroke="none" stroke-width="0" /><circle cx="185.8" cy="1378" r="1.4" fill="#3a3c40" stroke="none" stroke-width="0" /><circle cx="187.7" cy="1372.4" r="1.4" fill="#3a3c40" stroke="none" stroke-width="0" /><circle cx="192.4" cy="1368.9" r="1.4" fill="#3a3c40" stroke="none" stroke-width="0" /><circle cx="198.4" cy="1368.9" r="1.4" fill="#3a3c40" stroke="none" stroke-width="0" /><circle cx="203.1" cy="1372.4" r="1.4" fill="#3a3c40" stroke="none" stroke-width="0" /><circle cx="195.4" cy="1378" r="4.3" fill="#9a9fa6" stroke="#3a3c40" stroke-width="1" /><line x1="195.4" y1="1378" x2="205.8" y2="1367.6" stroke="#c8ccd2" stroke-width="2.5" /><circle cx="423" cy="1378" r="37.9" fill="url(#tire)" stroke="#1e1e20" stroke-width="1.5" /><circle cx="423" cy="1378" r="38.3" fill="none" stroke="#25272b" stroke-width="3.95" stroke-dasharray="5.5 5.5"/><circle cx="423" cy="1378" r="17.4" fill="#a6abb2" stroke="#26282b" stroke-width="1.5" /><circle cx="423" cy="1378" r="13.2" fill="#7b8087" stroke="#3a3c40" stroke-width="1" /><circle cx="432.6" cy="1378" r="1.4" fill="#3a3c40" stroke="none" stroke-width="0" /><circle cx="430.7" cy="1383.6" r="1.4" fill="#3a3c40" stroke="none" stroke-width="0" /><circle cx="426" cy="1387.1" r="1.4" fill="#3a3c40" stroke="none" stroke-width="0" /><circle cx="420" cy="1387.1" r="1.4" fill="#3a3c40" stroke="none" stroke-width="0" /><circle cx="415.3" cy="1383.6" r="1.4" fill="#3a3c40" stroke="none" stroke-width="0" /><circle cx="413.4" cy="1378" r="1.4" fill="#3a3c40" stroke="none" stroke-width="0" /><circle cx="415.3" cy="1372.4" r="1.4" fill="#3a3c40" stroke="none" stroke-width="0" /><circle cx="420" cy="1368.9" r="1.4" fill="#3a3c40" stroke="none" stroke-width="0" /><circle cx="426" cy="1368.9" r="1.4" fill="#3a3c40" stroke="none" stroke-width="0" /><circle cx="430.7" cy="1372.4" r="1.4" fill="#3a3c40" stroke="none" stroke-width="0" /><circle cx="423" cy="1378" r="4.3" fill="#9a9fa6" stroke="#3a3c40" stroke-width="1" /><line x1="423" y1="1378" x2="433.4" y2="1367.6" stroke="#c8ccd2" stroke-width="2.5" /></g>
<g id="smerch"><rect x="898" y="1206" width="500" height="22" rx="9" fill="url(#barrel)" stroke="#1b1b1b" stroke-width="1.5" /><rect x="883" y="1207" width="17" height="20" rx="0" fill="url(#metal)" stroke="#1b1b1b" stroke-width="1.2" /><line x1="891" y1="1207" x2="891" y2="1227" stroke="#555" stroke-width="1" /><path d="M1000,1226 Q1150,1219.2 1300,1208" fill="none" stroke="#1b1b1b" stroke-width="1.3" stroke-linejoin="round" /><path d="M1005,1227 Q1155,1221.4 1305,1209" fill="none" stroke="#1b1b1b" stroke-width="1" stroke-linejoin="round" /><rect x="898" y="1232" width="500" height="20.5" rx="9" fill="url(#barrel)" stroke="#1b1b1b" stroke-width="1.5" /><rect x="883" y="1233" width="17" height="18.5" rx="0" fill="url(#metal)" stroke="#1b1b1b" stroke-width="1.2" /><line x1="891" y1="1233" x2="891" y2="1251.5" stroke="#555" stroke-width="1" /><path d="M1000,1250.5 Q1150,1244.3 1300,1234" fill="none" stroke="#1b1b1b" stroke-width="1.3" stroke-linejoin="round" /><path d="M1005,1251.5 Q1155,1246.35 1305,1235" fill="none" stroke="#1b1b1b" stroke-width="1" stroke-linejoin="round" /><rect x="898" y="1258.5" width="500" height="20" rx="9" fill="url(#barrel)" stroke="#1b1b1b" stroke-width="1.5" /><rect x="883" y="1259.5" width="17" height="18" rx="0" fill="url(#metal)" stroke="#1b1b1b" stroke-width="1.2" /><line x1="891" y1="1259.5" x2="891" y2="1277.5" stroke="#555" stroke-width="1" /><path d="M1000,1276.5 Q1150,1270.5 1300,1260.5" fill="none" stroke="#1b1b1b" stroke-width="1.3" stroke-linejoin="round" /><path d="M1005,1277.5 Q1155,1272.5 1305,1261.5" fill="none" stroke="#1b1b1b" stroke-width="1" stroke-linejoin="round" /><rect x="929" y="1203" width="6" height="86" rx="0" fill="#8a9268" stroke="#1b1b1b" stroke-width="1.2" /><rect x="1175" y="1203" width="6" height="86" rx="0" fill="#8a9268" stroke="#1b1b1b" stroke-width="1.2" /><rect x="1300" y="1203" width="6" height="86" rx="0" fill="#8a9268" stroke="#1b1b1b" stroke-width="1.2" /><rect x="896" y="1251" width="123" height="26" rx="0" fill="#8a9268" stroke="#1b1b1b" stroke-width="1.5" /><rect x="902" y="1255" width="111" height="18" rx="0" fill="#7d8660" stroke="#1b1b1b" stroke-width="1.2" /><rect x="912" y="1254" width="4" height="20" rx="0" fill="#8a9268" stroke="#1b1b1b" stroke-width="1" /><rect x="934" y="1254" width="4" height="20" rx="0" fill="#8a9268" stroke="#1b1b1b" stroke-width="1" /><rect x="956" y="1254" width="4" height="20" rx="0" fill="#8a9268" stroke="#1b1b1b" stroke-width="1" /><rect x="978" y="1254" width="4" height="20" rx="0" fill="#8a9268" stroke="#1b1b1b" stroke-width="1" /><rect x="1000" y="1254" width="4" height="20" rx="0" fill="#8a9268" stroke="#1b1b1b" stroke-width="1" /><rect x="899" y="1287" width="123" height="7" rx="0" fill="#8a9268" stroke="#1b1b1b" stroke-width="1.2" /><rect x="927" y="1280" width="150" height="9" rx="0" fill="#8a9268" stroke="#1b1b1b" stroke-width="1.2" /><polygon points="943,1328.5 1337,1328.5 1337,1379 943,1379" fill="#5f6647" stroke="#1b1b1b" stroke-width="1.5" stroke-linejoin="round" /><rect x="943" y="1296" width="390" height="32.5" rx="0" fill="#8a9268" stroke="#1b1b1b" stroke-width="1.5" /><rect x="1235" y="1328.5" width="50.6" height="5.5" rx="0" fill="#e8e6f2" stroke="none" stroke-width="0" /><rect x="968" y="1294" width="4" height="36" rx="0" fill="#8a9268" stroke="#1b1b1b" stroke-width="1.2" /><rect x="998" y="1294" width="4" height="36" rx="0" fill="#8a9268" stroke="#1b1b1b" stroke-width="1.2" /><rect x="1058" y="1294" width="4" height="36" rx="0" fill="#8a9268" stroke="#1b1b1b" stroke-width="1.2" /><rect x="1118" y="1294" width="4" height="36" rx="0" fill="#8a9268" stroke="#1b1b1b" stroke-width="1.2" /><rect x="1216.8" y="1294" width="4" height="36" rx="0" fill="#8a9268" stroke="#1b1b1b" stroke-width="1.2" /><rect x="1249" y="1294" width="4" height="36" rx="0" fill="#8a9268" stroke="#1b1b1b" stroke-width="1.2" /><rect x="1293.4" y="1294" width="4" height="36" rx="0" fill="#8a9268" stroke="#1b1b1b" stroke-width="1.2" /><rect x="1324.6" y="1294" width="4" height="36" rx="0" fill="#8a9268" stroke="#1b1b1b" stroke-width="1.2" /><rect x="1333" y="1300.5" width="95" height="4.5" rx="0" fill="#8a9268" stroke="#1b1b1b" stroke-width="1.2" /><rect x="1228.5" y="1353" width="91.5" height="4.5" rx="0" fill="#8a9268" stroke="#1b1b1b" stroke-width="1" /><rect x="1228.5" y="1358.5" width="91.5" height="4.5" rx="0" fill="#8a9268" stroke="#1b1b1b" stroke-width="1" /><rect x="1228.5" y="1364" width="91.5" height="4.5" rx="0" fill="#8a9268" stroke="#1b1b1b" stroke-width="1" /><rect x="1228.5" y="1369.5" width="91.5" height="4.5" rx="0" fill="#8a9268" stroke="#1b1b1b" stroke-width="1" /><rect x="1225" y="1379" width="28" height="6" rx="3" fill="#5f6647" stroke="#1b1b1b" stroke-width="1" /><rect x="1294" y="1379" width="28" height="6" rx="3" fill="#5f6647" stroke="#1b1b1b" stroke-width="1" /><rect x="1440" y="1300" width="38" height="80" rx="0" fill="#8a9268" stroke="#1b1b1b" stroke-width="1.2" /><rect x="1444" y="1340" width="30" height="22" rx="0" fill="#6f7855" stroke="#1b1b1b" stroke-width="1" /><rect x="1480" y="1318" width="50" height="8" rx="4" fill="#6f7855" stroke="#1b1b1b" stroke-width="1" /><rect x="1086" y="1300" width="14" height="100" rx="0" fill="#8a9268" stroke="#1b1b1b" stroke-width="1.2" /><rect x="1080" y="1325" width="26" height="6" rx="0" fill="#8a9268" stroke="#1b1b1b" stroke-width="1.2" /><rect x="1082" y="1398" width="22" height="5" rx="0" fill="#333" stroke="#1b1b1b" stroke-width="1" /><circle cx="935" cy="1355" r="7" fill="none" stroke="#1b1b1b" stroke-width="2.5" /><rect x="1427" y="1206" width="105" height="91" rx="4" fill="#8a9268" stroke="#1b1b1b" stroke-width="1.8" /><line x1="1427" y1="1249" x2="1532" y2="1249" stroke="#1b1b1b" stroke-width="1.2" /><path d="M1455,1223 Q1455,1218 1461,1218 L1493,1218 Q1499,1218 1499,1223 L1499,1292 Q1499,1296 1494,1296 L1470,1296 L1455,1283 Z" fill="none" stroke="#1b1b1b" stroke-width="1.5" stroke-linejoin="round" /><rect x="1460" y="1223" width="36" height="24" rx="8" fill="#b8dad8" stroke="#1b1b1b" stroke-width="2.2" /><rect x="1464" y="1259" width="12" height="3" rx="1.5" fill="none" stroke="#1b1b1b" stroke-width="1.2" /><rect x="1418" y="1214" width="10" height="80" rx="0" fill="#8a9268" stroke="#1b1b1b" stroke-width="1.2" /><rect x="1434" y="1277" width="12" height="10" rx="2" fill="#8a9268" stroke="#1b1b1b" stroke-width="1.2" /><polygon points="1524,1306 1580,1330 1640,1334 1702,1321 1702,1344 1623,1377 1582,1380 1578,1355 1560,1332 1524,1322" fill="#5f6647" stroke="#1b1b1b" stroke-width="1.5" stroke-linejoin="round" /><polygon points="1537,1235 1660,1235 1688,1241 1682,1275 1692,1278 1696,1300 1702,1321 1640,1334 1580,1331 1537,1312" fill="#8a9268" stroke="#1b1b1b" stroke-width="2" stroke-linejoin="round" /><rect x="1532" y="1236" width="6" height="78" rx="0" fill="#8a9268" stroke="#1b1b1b" stroke-width="1.2" /><rect x="1565" y="1250" width="43" height="80" rx="8" fill="none" stroke="#1b1b1b" stroke-width="1.5" /><rect x="1614" y="1250" width="43" height="80" rx="8" fill="none" stroke="#1b1b1b" stroke-width="1.5" /><rect x="1568" y="1254" width="37" height="26" rx="8" fill="#b8dad8" stroke="#1b1b1b" stroke-width="2.2" /><rect x="1617" y="1254" width="37" height="26" rx="8" fill="#b8dad8" stroke="#1b1b1b" stroke-width="2.2" /><polygon points="1663,1252 1680,1248 1678,1280 1664,1276" fill="#b8dad8" stroke="#1b1b1b" stroke-width="1.8" stroke-linejoin="round" /><rect x="1572" y="1291" width="12" height="3" rx="1.5" fill="none" stroke="#1b1b1b" stroke-width="1.2" /><rect x="1622" y="1291" width="12" height="3" rx="1.5" fill="none" stroke="#1b1b1b" stroke-width="1.2" /><circle cx="1680" cy="1307" r="2.5" fill="#e8a040" stroke="#1b1b1b" stroke-width="0.8" /><rect x="1702" y="1308" width="5" height="22" rx="0" fill="#9aa0a8" stroke="#1b1b1b" stroke-width="1" /><circle cx="1701" cy="1341" r="5" fill="none" stroke="#1b1b1b" stroke-width="2" /><circle cx="1586" cy="1225" r="8" fill="#8a9268" stroke="#1b1b1b" stroke-width="1.5" /><line x1="1637" y1="1200" x2="1637" y2="1234" stroke="#1b1b1b" stroke-width="3" /><circle cx="1013.3" cy="1369.4" r="47.5" fill="url(#tire)" stroke="#1e1e20" stroke-width="1.5" /><circle cx="1013.3" cy="1369.4" r="48" fill="none" stroke="#25272b" stroke-width="4.95" stroke-dasharray="6.9 6.9"/><circle cx="1013.3" cy="1369.4" r="21.8" fill="#a6abb2" stroke="#26282b" stroke-width="1.5" /><circle cx="1013.3" cy="1369.4" r="16.6" fill="#7b8087" stroke="#3a3c40" stroke-width="1" /><circle cx="1025.3" cy="1369.4" r="1.7" fill="#3a3c40" stroke="none" stroke-width="0" /><circle cx="1023" cy="1376.4" r="1.7" fill="#3a3c40" stroke="none" stroke-width="0" /><circle cx="1017" cy="1380.8" r="1.7" fill="#3a3c40" stroke="none" stroke-width="0" /><circle cx="1009.6" cy="1380.8" r="1.7" fill="#3a3c40" stroke="none" stroke-width="0" /><circle cx="1003.6" cy="1376.4" r="1.7" fill="#3a3c40" stroke="none" stroke-width="0" /><circle cx="1001.3" cy="1369.4" r="1.7" fill="#3a3c40" stroke="none" stroke-width="0" /><circle cx="1003.6" cy="1362.4" r="1.7" fill="#3a3c40" stroke="none" stroke-width="0" /><circle cx="1009.6" cy="1358" r="1.7" fill="#3a3c40" stroke="none" stroke-width="0" /><circle cx="1017" cy="1358" r="1.7" fill="#3a3c40" stroke="none" stroke-width="0" /><circle cx="1023" cy="1362.4" r="1.7" fill="#3a3c40" stroke="none" stroke-width="0" /><circle cx="1013.3" cy="1369.4" r="5.4" fill="#9a9fa6" stroke="#3a3c40" stroke-width="1" /><line x1="1013.3" y1="1369.4" x2="1026.4" y2="1356.3" stroke="#c8ccd2" stroke-width="2.5" /><circle cx="1162.2" cy="1369.4" r="47.5" fill="url(#tire)" stroke="#1e1e20" stroke-width="1.5" /><circle cx="1162.2" cy="1369.4" r="48" fill="none" stroke="#25272b" stroke-width="4.95" stroke-dasharray="6.9 6.9"/><circle cx="1162.2" cy="1369.4" r="21.8" fill="#a6abb2" stroke="#26282b" stroke-width="1.5" /><circle cx="1162.2" cy="1369.4" r="16.6" fill="#7b8087" stroke="#3a3c40" stroke-width="1" /><circle cx="1174.2" cy="1369.4" r="1.7" fill="#3a3c40" stroke="none" stroke-width="0" /><circle cx="1171.9" cy="1376.4" r="1.7" fill="#3a3c40" stroke="none" stroke-width="0" /><circle cx="1165.9" cy="1380.8" r="1.7" fill="#3a3c40" stroke="none" stroke-width="0" /><circle cx="1158.5" cy="1380.8" r="1.7" fill="#3a3c40" stroke="none" stroke-width="0" /><circle cx="1152.5" cy="1376.4" r="1.7" fill="#3a3c40" stroke="none" stroke-width="0" /><circle cx="1150.2" cy="1369.4" r="1.7" fill="#3a3c40" stroke="none" stroke-width="0" /><circle cx="1152.5" cy="1362.4" r="1.7" fill="#3a3c40" stroke="none" stroke-width="0" /><circle cx="1158.5" cy="1358" r="1.7" fill="#3a3c40" stroke="none" stroke-width="0" /><circle cx="1165.9" cy="1358" r="1.7" fill="#3a3c40" stroke="none" stroke-width="0" /><circle cx="1171.9" cy="1362.4" r="1.7" fill="#3a3c40" stroke="none" stroke-width="0" /><circle cx="1162.2" cy="1369.4" r="5.4" fill="#9a9fa6" stroke="#3a3c40" stroke-width="1" /><line x1="1162.2" y1="1369.4" x2="1175.3" y2="1356.3" stroke="#c8ccd2" stroke-width="2.5" /><circle cx="1386.4" cy="1369.4" r="47.5" fill="url(#tire)" stroke="#1e1e20" stroke-width="1.5" /><circle cx="1386.4" cy="1369.4" r="48" fill="none" stroke="#25272b" stroke-width="4.95" stroke-dasharray="6.9 6.9"/><circle cx="1386.4" cy="1369.4" r="21.8" fill="#a6abb2" stroke="#26282b" stroke-width="1.5" /><circle cx="1386.4" cy="1369.4" r="16.6" fill="#7b8087" stroke="#3a3c40" stroke-width="1" /><circle cx="1398.4" cy="1369.4" r="1.7" fill="#3a3c40" stroke="none" stroke-width="0" /><circle cx="1396.1" cy="1376.4" r="1.7" fill="#3a3c40" stroke="none" stroke-width="0" /><circle cx="1390.1" cy="1380.8" r="1.7" fill="#3a3c40" stroke="none" stroke-width="0" /><circle cx="1382.7" cy="1380.8" r="1.7" fill="#3a3c40" stroke="none" stroke-width="0" /><circle cx="1376.7" cy="1376.4" r="1.7" fill="#3a3c40" stroke="none" stroke-width="0" /><circle cx="1374.4" cy="1369.4" r="1.7" fill="#3a3c40" stroke="none" stroke-width="0" /><circle cx="1376.7" cy="1362.4" r="1.7" fill="#3a3c40" stroke="none" stroke-width="0" /><circle cx="1382.7" cy="1358" r="1.7" fill="#3a3c40" stroke="none" stroke-width="0" /><circle cx="1390.1" cy="1358" r="1.7" fill="#3a3c40" stroke="none" stroke-width="0" /><circle cx="1396.1" cy="1362.4" r="1.7" fill="#3a3c40" stroke="none" stroke-width="0" /><circle cx="1386.4" cy="1369.4" r="5.4" fill="#9a9fa6" stroke="#3a3c40" stroke-width="1" /><line x1="1386.4" y1="1369.4" x2="1399.5" y2="1356.3" stroke="#c8ccd2" stroke-width="2.5" /><circle cx="1536" cy="1369.4" r="47.5" fill="url(#tire)" stroke="#1e1e20" stroke-width="1.5" /><circle cx="1536" cy="1369.4" r="48" fill="none" stroke="#25272b" stroke-width="4.95" stroke-dasharray="6.9 6.9"/><circle cx="1536" cy="1369.4" r="21.8" fill="#a6abb2" stroke="#26282b" stroke-width="1.5" /><circle cx="1536" cy="1369.4" r="16.6" fill="#7b8087" stroke="#3a3c40" stroke-width="1" /><circle cx="1548" cy="1369.4" r="1.7" fill="#3a3c40" stroke="none" stroke-width="0" /><circle cx="1545.7" cy="1376.4" r="1.7" fill="#3a3c40" stroke="none" stroke-width="0" /><circle cx="1539.7" cy="1380.8" r="1.7" fill="#3a3c40" stroke="none" stroke-width="0" /><circle cx="1532.3" cy="1380.8" r="1.7" fill="#3a3c40" stroke="none" stroke-width="0" /><circle cx="1526.3" cy="1376.4" r="1.7" fill="#3a3c40" stroke="none" stroke-width="0" /><circle cx="1524" cy="1369.4" r="1.7" fill="#3a3c40" stroke="none" stroke-width="0" /><circle cx="1526.3" cy="1362.4" r="1.7" fill="#3a3c40" stroke="none" stroke-width="0" /><circle cx="1532.3" cy="1358" r="1.7" fill="#3a3c40" stroke="none" stroke-width="0" /><circle cx="1539.7" cy="1358" r="1.7" fill="#3a3c40" stroke="none" stroke-width="0" /><circle cx="1545.7" cy="1362.4" r="1.7" fill="#3a3c40" stroke="none" stroke-width="0" /><circle cx="1536" cy="1369.4" r="5.4" fill="#9a9fa6" stroke="#3a3c40" stroke-width="1" /><line x1="1536" y1="1369.4" x2="1549.1" y2="1356.3" stroke="#c8ccd2" stroke-width="2.5" /></g>
<g id="uragan"><polygon points="59,1555 362,1540 362,1603 62,1617" fill="#4f563c" stroke="#1b1b1b" stroke-width="2" stroke-linejoin="round" /><polygon points="60,1556 362,1541 362,1560 61,1574.7" fill="url(#tube)" stroke="#222" stroke-width="1.2" stroke-linejoin="round" /><polygon points="60,1576.7 362,1562 362,1581 61,1595.3" fill="url(#tube)" stroke="#222" stroke-width="1.2" stroke-linejoin="round" /><polygon points="60,1597.3 362,1583 362,1602 61,1616" fill="url(#tube)" stroke="#222" stroke-width="1.2" stroke-linejoin="round" /><rect x="56" y="1553" width="8" height="66" rx="2" fill="#8a9268" stroke="#1b1b1b" stroke-width="1.5" /><polygon points="166,1546 173,1546 176,1612 169,1612" fill="#8a9268" stroke="#1b1b1b" stroke-width="1.5" stroke-linejoin="round" /><polygon points="358,1538 390,1536 393,1603 360,1605" fill="#a6ad86" stroke="#1b1b1b" stroke-width="1.5" stroke-linejoin="round" /><rect x="390" y="1540" width="6" height="60" rx="0" fill="#7d8660" stroke="#1b1b1b" stroke-width="1.2" /><circle cx="366" cy="1560" r="1.6" fill="#222" stroke="none" stroke-width="0" /><circle cx="366" cy="1568" r="1.6" fill="#222" stroke="none" stroke-width="0" /><circle cx="366" cy="1575" r="1.6" fill="#222" stroke="none" stroke-width="0" /><circle cx="366" cy="1582" r="1.6" fill="#222" stroke="none" stroke-width="0" /><circle cx="366" cy="1590" r="1.6" fill="#222" stroke="none" stroke-width="0" /><polygon points="160,1609 370,1600 372,1625 300,1640 160,1640" fill="#8a9268" stroke="#1b1b1b" stroke-width="2" stroke-linejoin="round" /><circle cx="278" cy="1620" r="9" fill="#8a9268" stroke="#1b1b1b" stroke-width="1.5" /><polygon points="118,1632 330,1632 330,1655 118,1655" fill="#8a9268" stroke="#1b1b1b" stroke-width="2" stroke-linejoin="round" /><rect x="320" y="1615" width="42" height="8" rx="0" fill="none" stroke="#1b1b1b" stroke-width="2" /><rect x="320" y="1632" width="42" height="8" rx="0" fill="none" stroke="#1b1b1b" stroke-width="2" /><polygon points="45,1660 120,1656 640,1656 655,1670 660,1690 655,1720 40,1720 38,1680" fill="#8a9268" stroke="#1b1b1b" stroke-width="2" stroke-linejoin="round" /><rect x="178" y="1663" width="38" height="45" rx="0" fill="#8a9268" stroke="#1b1b1b" stroke-width="1.5" /><line x1="190" y1="1665" x2="190" y2="1705" stroke="#1b1b1b" stroke-width="1.2" /><line x1="204" y1="1665" x2="204" y2="1705" stroke="#1b1b1b" stroke-width="1.2" /><path d="M22,1700 Q22,1665 38,1662 L45,1700 Z" fill="#444" stroke="#1b1b1b" stroke-width="1.5" stroke-linejoin="round" /><rect x="368" y="1620" width="178" height="56" rx="0" fill="#8a9268" stroke="#1b1b1b" stroke-width="1.8" /><rect x="424" y="1624" width="34" height="47" rx="0" fill="#0a0a0a" stroke="#1b1b1b" stroke-width="1.5" /><rect x="466" y="1624" width="36" height="47" rx="0" fill="#0a0a0a" stroke="#1b1b1b" stroke-width="1.5" /><rect x="378" y="1622" width="22" height="32" rx="0" fill="#8a9268" stroke="#1b1b1b" stroke-width="1.2" /><rect x="388" y="1624" width="7" height="22" rx="0" fill="#d23" stroke="#1b1b1b" stroke-width="1" /><rect x="507" y="1624" width="22" height="25" rx="0" fill="#8a9268" stroke="#1b1b1b" stroke-width="1.2" /><polygon points="532,1600 540,1587 600,1587 610,1592 615,1622 642,1628 654,1640 654,1670 532,1670" fill="#8a9268" stroke="#1b1b1b" stroke-width="2" stroke-linejoin="round" /><rect x="558" y="1597" width="44" height="26" rx="3" fill="#b8dad8" stroke="#1b1b1b" stroke-width="1.5" /><line x1="545" y1="1625" x2="610" y2="1625" stroke="#1b1b1b" stroke-width="1.2" /><circle cx="626" cy="1654" r="3" fill="#e84" stroke="none" stroke-width="0" /><polygon points="40,1690 655,1690 658,1700 650,1720 40,1720" fill="#6d7353" stroke="#1b1b1b" stroke-width="1.2" stroke-linejoin="round" /><rect x="440" y="1690" width="45" height="25" rx="0" fill="#7d8660" stroke="#1b1b1b" stroke-width="1.2" /><polygon points="560,1676 655,1676 660,1688 655,1694 580,1694" fill="#8a9268" stroke="#1b1b1b" stroke-width="1.5" stroke-linejoin="round" /><line x1="595" y1="1600" x2="595" y2="1623" stroke="#1b1b1b" stroke-width="1.5" /><circle cx="661" cy="1691" r="3.5" fill="none" stroke="#1b1b1b" stroke-width="1.5" /><path d="M59.8,1715.6 A53,53 0 0 1 165.8,1715.6" fill="none" stroke="#1b1b1b" stroke-width="6" stroke-linejoin="round" /><path d="M59.8,1715.6 A53,53 0 0 1 165.8,1715.6" fill="none" stroke="#7d8660" stroke-width="3" stroke-linejoin="round" /><path d="M224.8,1715.6 A53,53 0 0 1 330.8,1715.6" fill="none" stroke="#1b1b1b" stroke-width="6" stroke-linejoin="round" /><path d="M224.8,1715.6 A53,53 0 0 1 330.8,1715.6" fill="none" stroke="#7d8660" stroke-width="3" stroke-linejoin="round" /><path d="M328,1715.6 A53,53 0 0 1 434,1715.6" fill="none" stroke="#1b1b1b" stroke-width="6" stroke-linejoin="round" /><path d="M328,1715.6 A53,53 0 0 1 434,1715.6" fill="none" stroke="#7d8660" stroke-width="3" stroke-linejoin="round" /><path d="M490,1715.6 A53,53 0 0 1 596,1715.6" fill="none" stroke="#1b1b1b" stroke-width="6" stroke-linejoin="round" /><path d="M490,1715.6 A53,53 0 0 1 596,1715.6" fill="none" stroke="#7d8660" stroke-width="3" stroke-linejoin="round" /><line x1="40" y1="1722" x2="660" y2="1722" stroke="#1b1b1b" stroke-width="2" /><circle cx="112.8" cy="1715.6" r="44.2" fill="url(#tire)" stroke="#1e1e20" stroke-width="1.5" /><circle cx="112.8" cy="1715.6" r="44.6" fill="none" stroke="#25272b" stroke-width="4.6000000000000005" stroke-dasharray="6.4 6.4"/><circle cx="112.8" cy="1715.6" r="21.2" fill="#a6abb2" stroke="#26282b" stroke-width="1.5" /><circle cx="112.8" cy="1715.6" r="16.1" fill="#7b8087" stroke="#3a3c40" stroke-width="1" /><circle cx="124.4" cy="1715.6" r="1.6" fill="#3a3c40" stroke="none" stroke-width="0" /><circle cx="122.2" cy="1722.4" r="1.6" fill="#3a3c40" stroke="none" stroke-width="0" /><circle cx="116.4" cy="1726.7" r="1.6" fill="#3a3c40" stroke="none" stroke-width="0" /><circle cx="109.2" cy="1726.7" r="1.6" fill="#3a3c40" stroke="none" stroke-width="0" /><circle cx="103.4" cy="1722.4" r="1.6" fill="#3a3c40" stroke="none" stroke-width="0" /><circle cx="101.2" cy="1715.6" r="1.6" fill="#3a3c40" stroke="none" stroke-width="0" /><circle cx="103.4" cy="1708.8" r="1.6" fill="#3a3c40" stroke="none" stroke-width="0" /><circle cx="109.2" cy="1704.5" r="1.6" fill="#3a3c40" stroke="none" stroke-width="0" /><circle cx="116.4" cy="1704.5" r="1.6" fill="#3a3c40" stroke="none" stroke-width="0" /><circle cx="122.2" cy="1708.8" r="1.6" fill="#3a3c40" stroke="none" stroke-width="0" /><circle cx="112.8" cy="1715.6" r="5.3" fill="#9a9fa6" stroke="#3a3c40" stroke-width="1" /><line x1="112.8" y1="1715.6" x2="125.5" y2="1702.9" stroke="#c8ccd2" stroke-width="2.5" /><circle cx="277.8" cy="1715.6" r="44.2" fill="url(#tire)" stroke="#1e1e20" stroke-width="1.5" /><circle cx="277.8" cy="1715.6" r="44.6" fill="none" stroke="#25272b" stroke-width="4.6000000000000005" stroke-dasharray="6.4 6.4"/><circle cx="277.8" cy="1715.6" r="21.2" fill="#a6abb2" stroke="#26282b" stroke-width="1.5" /><circle cx="277.8" cy="1715.6" r="16.1" fill="#7b8087" stroke="#3a3c40" stroke-width="1" /><circle cx="289.4" cy="1715.6" r="1.6" fill="#3a3c40" stroke="none" stroke-width="0" /><circle cx="287.2" cy="1722.4" r="1.6" fill="#3a3c40" stroke="none" stroke-width="0" /><circle cx="281.4" cy="1726.7" r="1.6" fill="#3a3c40" stroke="none" stroke-width="0" /><circle cx="274.2" cy="1726.7" r="1.6" fill="#3a3c40" stroke="none" stroke-width="0" /><circle cx="268.4" cy="1722.4" r="1.6" fill="#3a3c40" stroke="none" stroke-width="0" /><circle cx="266.2" cy="1715.6" r="1.6" fill="#3a3c40" stroke="none" stroke-width="0" /><circle cx="268.4" cy="1708.8" r="1.6" fill="#3a3c40" stroke="none" stroke-width="0" /><circle cx="274.2" cy="1704.5" r="1.6" fill="#3a3c40" stroke="none" stroke-width="0" /><circle cx="281.4" cy="1704.5" r="1.6" fill="#3a3c40" stroke="none" stroke-width="0" /><circle cx="287.2" cy="1708.8" r="1.6" fill="#3a3c40" stroke="none" stroke-width="0" /><circle cx="277.8" cy="1715.6" r="5.3" fill="#9a9fa6" stroke="#3a3c40" stroke-width="1" /><line x1="277.8" y1="1715.6" x2="290.5" y2="1702.9" stroke="#c8ccd2" stroke-width="2.5" /><circle cx="381" cy="1715.6" r="44.2" fill="url(#tire)" stroke="#1e1e20" stroke-width="1.5" /><circle cx="381" cy="1715.6" r="44.6" fill="none" stroke="#25272b" stroke-width="4.6000000000000005" stroke-dasharray="6.4 6.4"/><circle cx="381" cy="1715.6" r="21.2" fill="#a6abb2" stroke="#26282b" stroke-width="1.5" /><circle cx="381" cy="1715.6" r="16.1" fill="#7b8087" stroke="#3a3c40" stroke-width="1" /><circle cx="392.6" cy="1715.6" r="1.6" fill="#3a3c40" stroke="none" stroke-width="0" /><circle cx="390.4" cy="1722.4" r="1.6" fill="#3a3c40" stroke="none" stroke-width="0" /><circle cx="384.6" cy="1726.7" r="1.6" fill="#3a3c40" stroke="none" stroke-width="0" /><circle cx="377.4" cy="1726.7" r="1.6" fill="#3a3c40" stroke="none" stroke-width="0" /><circle cx="371.6" cy="1722.4" r="1.6" fill="#3a3c40" stroke="none" stroke-width="0" /><circle cx="369.4" cy="1715.6" r="1.6" fill="#3a3c40" stroke="none" stroke-width="0" /><circle cx="371.6" cy="1708.8" r="1.6" fill="#3a3c40" stroke="none" stroke-width="0" /><circle cx="377.4" cy="1704.5" r="1.6" fill="#3a3c40" stroke="none" stroke-width="0" /><circle cx="384.6" cy="1704.5" r="1.6" fill="#3a3c40" stroke="none" stroke-width="0" /><circle cx="390.4" cy="1708.8" r="1.6" fill="#3a3c40" stroke="none" stroke-width="0" /><circle cx="381" cy="1715.6" r="5.3" fill="#9a9fa6" stroke="#3a3c40" stroke-width="1" /><line x1="381" y1="1715.6" x2="393.7" y2="1702.9" stroke="#c8ccd2" stroke-width="2.5" /><circle cx="543" cy="1715.6" r="44.2" fill="url(#tire)" stroke="#1e1e20" stroke-width="1.5" /><circle cx="543" cy="1715.6" r="44.6" fill="none" stroke="#25272b" stroke-width="4.6000000000000005" stroke-dasharray="6.4 6.4"/><circle cx="543" cy="1715.6" r="21.2" fill="#a6abb2" stroke="#26282b" stroke-width="1.5" /><circle cx="543" cy="1715.6" r="16.1" fill="#7b8087" stroke="#3a3c40" stroke-width="1" /><circle cx="554.6" cy="1715.6" r="1.6" fill="#3a3c40" stroke="none" stroke-width="0" /><circle cx="552.4" cy="1722.4" r="1.6" fill="#3a3c40" stroke="none" stroke-width="0" /><circle cx="546.6" cy="1726.7" r="1.6" fill="#3a3c40" stroke="none" stroke-width="0" /><circle cx="539.4" cy="1726.7" r="1.6" fill="#3a3c40" stroke="none" stroke-width="0" /><circle cx="533.6" cy="1722.4" r="1.6" fill="#3a3c40" stroke="none" stroke-width="0" /><circle cx="531.4" cy="1715.6" r="1.6" fill="#3a3c40" stroke="none" stroke-width="0" /><circle cx="533.6" cy="1708.8" r="1.6" fill="#3a3c40" stroke="none" stroke-width="0" /><circle cx="539.4" cy="1704.5" r="1.6" fill="#3a3c40" stroke="none" stroke-width="0" /><circle cx="546.6" cy="1704.5" r="1.6" fill="#3a3c40" stroke="none" stroke-width="0" /><circle cx="552.4" cy="1708.8" r="1.6" fill="#3a3c40" stroke="none" stroke-width="0" /><circle cx="543" cy="1715.6" r="5.3" fill="#9a9fa6" stroke="#3a3c40" stroke-width="1" /><line x1="543" y1="1715.6" x2="555.7" y2="1702.9" stroke="#c8ccd2" stroke-width="2.5" /></g>
<g id="tornado"><rect x="941" y="1543" width="392" height="66" rx="0" fill="#8a9268" stroke="#1b1b1b" stroke-width="1.8" /><line x1="1010" y1="1543" x2="1010" y2="1609" stroke="#1b1b1b" stroke-width="1.2" /><line x1="1104" y1="1543" x2="1104" y2="1609" stroke="#1b1b1b" stroke-width="1.2" /><line x1="1192" y1="1543" x2="1192" y2="1609" stroke="#1b1b1b" stroke-width="1.2" /><line x1="1274" y1="1543" x2="1274" y2="1609" stroke="#1b1b1b" stroke-width="1.2" /><polygon points="945,1609 1190,1609 1190,1618 1140,1630 1130,1638 960,1638" fill="#8a9268" stroke="#1b1b1b" stroke-width="2" stroke-linejoin="round" /><rect x="952" y="1610" width="165" height="7" rx="0" fill="#6f7855" stroke="#1b1b1b" stroke-width="1.2" /><rect x="988" y="1622" width="40" height="22" rx="0" fill="#8a9268" stroke="#1b1b1b" stroke-width="1.2" /><rect x="1035" y="1622" width="38" height="22" rx="0" fill="#6f7855" stroke="#1b1b1b" stroke-width="1.2" /><rect x="1345" y="1551" width="45" height="94" rx="0" fill="#8a9268" stroke="#1b1b1b" stroke-width="1.5" /><rect x="1392" y="1544" width="6" height="100" rx="0" fill="#8a9268" stroke="#1b1b1b" stroke-width="1.2" /><rect x="1397" y="1592" width="40" height="52" rx="0" fill="#0a0a0a" stroke="#1b1b1b" stroke-width="1.2" /><rect x="1440" y="1583" width="35" height="62" rx="0" fill="#8a9268" stroke="#1b1b1b" stroke-width="1.5" /><rect x="1468" y="1544" width="6" height="40" rx="0" fill="#8a9268" stroke="#1b1b1b" stroke-width="1.2" /><rect x="1475" y="1591" width="46" height="54" rx="0" fill="#8a9268" stroke="#1b1b1b" stroke-width="1.5" /><rect x="1486" y="1569" width="32" height="22" rx="0" fill="#8a9268" stroke="#1b1b1b" stroke-width="1.5" /><rect x="1333" y="1586" width="14" height="30" rx="0" fill="#8a9268" stroke="#1b1b1b" stroke-width="1.2" /><polygon points="917,1643 1525,1643 1525,1720 917,1720" fill="#8a9268" stroke="#1b1b1b" stroke-width="2" stroke-linejoin="round" /><polygon points="1020,1652 1100,1652 1080,1680 1040,1680" fill="#5f6647" stroke="#1b1b1b" stroke-width="1.2" stroke-linejoin="round" /><polygon points="1185,1652 1250,1652 1245,1680 1200,1680" fill="#5f6647" stroke="#1b1b1b" stroke-width="1.2" stroke-linejoin="round" /><polygon points="1270,1652 1330,1652 1315,1680 1275,1680" fill="#5f6647" stroke="#1b1b1b" stroke-width="1.2" stroke-linejoin="round" /><rect x="1205" y="1684" width="110" height="30" rx="0" fill="#8a9268" stroke="#1b1b1b" stroke-width="1.2" /><line x1="1205" y1="1698" x2="1315" y2="1698" stroke="#1b1b1b" stroke-width="1.2" /><polygon points="1476,1656 1544,1651 1578,1688 1675,1689 1607,1720 1566,1720 1540,1700 1476,1700" fill="#5f6647" stroke="#1b1b1b" stroke-width="1.5" stroke-linejoin="round" /><rect x="1584" y="1689" width="38" height="23" rx="0" fill="#5f6647" stroke="#1b1b1b" stroke-width="1.2" /><rect x="1622" y="1689" width="40" height="23" rx="0" fill="none" stroke="#777" stroke-width="1.2" /><polygon points="1529.6,1577.5 1660,1577.5 1689.4,1583.6 1686,1620 1700,1620 1703,1667 1682,1676 1675,1688 1578,1688 1544,1651 1529.6,1650" fill="#8a9268" stroke="#1b1b1b" stroke-width="2" stroke-linejoin="round" /><polygon points="1677,1676 1710,1668 1710,1692 1686,1702 1677,1690" fill="#8a9268" stroke="#1b1b1b" stroke-width="1.5" stroke-linejoin="round" /><path d="M1555,1598 Q1555,1593 1560,1593 L1597,1593 Q1602,1593 1602,1598 L1602,1668 Q1602,1672 1597,1672 L1580,1672 L1560,1655 L1555,1645 Z" fill="none" stroke="#1b1b1b" stroke-width="1.3" stroke-linejoin="round" /><path d="M1610,1598 Q1610,1593 1615,1593 L1652,1593 Q1657,1593 1657,1598 L1657,1668 Q1657,1672 1652,1672 L1635,1672 L1615,1655 L1610,1645 Z" fill="none" stroke="#1b1b1b" stroke-width="1.3" stroke-linejoin="round" /><rect x="1560" y="1598" width="38.6" height="26.7" rx="3" fill="#b8dad8" stroke="#1b1b1b" stroke-width="1.8" /><rect x="1614.3" y="1598" width="38.7" height="26.7" rx="3" fill="#b8dad8" stroke="#1b1b1b" stroke-width="1.8" /><polygon points="1662,1592 1685,1588 1682,1620 1677,1625 1662,1619" fill="#b8dad8" stroke="#1b1b1b" stroke-width="1.5" stroke-linejoin="round" /><circle cx="1565" cy="1641" r="5" fill="none" stroke="#1b1b1b" stroke-width="1.2" /><circle cx="1578" cy="1649" r="4.5" fill="none" stroke="#1b1b1b" stroke-width="1.2" /><circle cx="1620" cy="1641" r="5" fill="none" stroke="#1b1b1b" stroke-width="1.2" /><circle cx="1633" cy="1649" r="4.5" fill="none" stroke="#1b1b1b" stroke-width="1.2" /><rect x="1056.2" y="1728" width="5" height="30" rx="0" fill="#9aa0a8" stroke="#1b1b1b" stroke-width="1.2" /><rect x="1052.2" y="1690" width="13" height="40" rx="0" fill="#8a9268" stroke="#1b1b1b" stroke-width="1.5" /><path d="M1034.7,1764 Q1048.7,1757 1058.7,1757 Q1068.7,1757 1082.7,1764 Z" fill="#8a9268" stroke="#1b1b1b" stroke-width="1.5" stroke-linejoin="round" /><rect x="1446.5" y="1728" width="5" height="30" rx="0" fill="#9aa0a8" stroke="#1b1b1b" stroke-width="1.2" /><rect x="1442.5" y="1690" width="13" height="40" rx="0" fill="#8a9268" stroke="#1b1b1b" stroke-width="1.5" /><path d="M1425,1764 Q1439,1757 1449,1757 Q1459,1757 1473,1764 Z" fill="#8a9268" stroke="#1b1b1b" stroke-width="1.5" stroke-linejoin="round" /><circle cx="981.4" cy="1707.6" r="47.5" fill="url(#tire)" stroke="#1e1e20" stroke-width="1.5" /><circle cx="981.4" cy="1707.6" r="48" fill="none" stroke="#25272b" stroke-width="4.95" stroke-dasharray="6.9 6.9"/><circle cx="981.4" cy="1707.6" r="22.3" fill="#a6abb2" stroke="#26282b" stroke-width="1.5" /><circle cx="981.4" cy="1707.6" r="16.9" fill="#7b8087" stroke="#3a3c40" stroke-width="1" /><circle cx="993.7" cy="1707.6" r="1.7" fill="#3a3c40" stroke="none" stroke-width="0" /><circle cx="991.3" cy="1714.8" r="1.7" fill="#3a3c40" stroke="none" stroke-width="0" /><circle cx="985.2" cy="1719.3" r="1.7" fill="#3a3c40" stroke="none" stroke-width="0" /><circle cx="977.6" cy="1719.3" r="1.7" fill="#3a3c40" stroke="none" stroke-width="0" /><circle cx="971.5" cy="1714.8" r="1.7" fill="#3a3c40" stroke="none" stroke-width="0" /><circle cx="969.1" cy="1707.6" r="1.7" fill="#3a3c40" stroke="none" stroke-width="0" /><circle cx="971.5" cy="1700.4" r="1.7" fill="#3a3c40" stroke="none" stroke-width="0" /><circle cx="977.6" cy="1695.9" r="1.7" fill="#3a3c40" stroke="none" stroke-width="0" /><circle cx="985.2" cy="1695.9" r="1.7" fill="#3a3c40" stroke="none" stroke-width="0" /><circle cx="991.3" cy="1700.4" r="1.7" fill="#3a3c40" stroke="none" stroke-width="0" /><circle cx="981.4" cy="1707.6" r="5.6" fill="#9a9fa6" stroke="#3a3c40" stroke-width="1" /><line x1="981.4" y1="1707.6" x2="994.8" y2="1694.2" stroke="#c8ccd2" stroke-width="2.5" /><circle cx="1140" cy="1707.6" r="47.5" fill="url(#tire)" stroke="#1e1e20" stroke-width="1.5" /><circle cx="1140" cy="1707.6" r="48" fill="none" stroke="#25272b" stroke-width="4.95" stroke-dasharray="6.9 6.9"/><circle cx="1140" cy="1707.6" r="22.3" fill="#a6abb2" stroke="#26282b" stroke-width="1.5" /><circle cx="1140" cy="1707.6" r="16.9" fill="#7b8087" stroke="#3a3c40" stroke-width="1" /><circle cx="1152.3" cy="1707.6" r="1.7" fill="#3a3c40" stroke="none" stroke-width="0" /><circle cx="1149.9" cy="1714.8" r="1.7" fill="#3a3c40" stroke="none" stroke-width="0" /><circle cx="1143.8" cy="1719.3" r="1.7" fill="#3a3c40" stroke="none" stroke-width="0" /><circle cx="1136.2" cy="1719.3" r="1.7" fill="#3a3c40" stroke="none" stroke-width="0" /><circle cx="1130.1" cy="1714.8" r="1.7" fill="#3a3c40" stroke="none" stroke-width="0" /><circle cx="1127.7" cy="1707.6" r="1.7" fill="#3a3c40" stroke="none" stroke-width="0" /><circle cx="1130.1" cy="1700.4" r="1.7" fill="#3a3c40" stroke="none" stroke-width="0" /><circle cx="1136.2" cy="1695.9" r="1.7" fill="#3a3c40" stroke="none" stroke-width="0" /><circle cx="1143.8" cy="1695.9" r="1.7" fill="#3a3c40" stroke="none" stroke-width="0" /><circle cx="1149.9" cy="1700.4" r="1.7" fill="#3a3c40" stroke="none" stroke-width="0" /><circle cx="1140" cy="1707.6" r="5.6" fill="#9a9fa6" stroke="#3a3c40" stroke-width="1" /><line x1="1140" y1="1707.6" x2="1153.4" y2="1694.2" stroke="#c8ccd2" stroke-width="2.5" /><circle cx="1369" cy="1707.6" r="47.5" fill="url(#tire)" stroke="#1e1e20" stroke-width="1.5" /><circle cx="1369" cy="1707.6" r="48" fill="none" stroke="#25272b" stroke-width="4.95" stroke-dasharray="6.9 6.9"/><circle cx="1369" cy="1707.6" r="22.3" fill="#a6abb2" stroke="#26282b" stroke-width="1.5" /><circle cx="1369" cy="1707.6" r="16.9" fill="#7b8087" stroke="#3a3c40" stroke-width="1" /><circle cx="1381.3" cy="1707.6" r="1.7" fill="#3a3c40" stroke="none" stroke-width="0" /><circle cx="1378.9" cy="1714.8" r="1.7" fill="#3a3c40" stroke="none" stroke-width="0" /><circle cx="1372.8" cy="1719.3" r="1.7" fill="#3a3c40" stroke="none" stroke-width="0" /><circle cx="1365.2" cy="1719.3" r="1.7" fill="#3a3c40" stroke="none" stroke-width="0" /><circle cx="1359.1" cy="1714.8" r="1.7" fill="#3a3c40" stroke="none" stroke-width="0" /><circle cx="1356.7" cy="1707.6" r="1.7" fill="#3a3c40" stroke="none" stroke-width="0" /><circle cx="1359.1" cy="1700.4" r="1.7" fill="#3a3c40" stroke="none" stroke-width="0" /><circle cx="1365.2" cy="1695.9" r="1.7" fill="#3a3c40" stroke="none" stroke-width="0" /><circle cx="1372.8" cy="1695.9" r="1.7" fill="#3a3c40" stroke="none" stroke-width="0" /><circle cx="1378.9" cy="1700.4" r="1.7" fill="#3a3c40" stroke="none" stroke-width="0" /><circle cx="1369" cy="1707.6" r="5.6" fill="#9a9fa6" stroke="#3a3c40" stroke-width="1" /><line x1="1369" y1="1707.6" x2="1382.4" y2="1694.2" stroke="#c8ccd2" stroke-width="2.5" /><circle cx="1519.5" cy="1707.6" r="47.5" fill="url(#tire)" stroke="#1e1e20" stroke-width="1.5" /><circle cx="1519.5" cy="1707.6" r="48" fill="none" stroke="#25272b" stroke-width="4.95" stroke-dasharray="6.9 6.9"/><circle cx="1519.5" cy="1707.6" r="22.3" fill="#a6abb2" stroke="#26282b" stroke-width="1.5" /><circle cx="1519.5" cy="1707.6" r="16.9" fill="#7b8087" stroke="#3a3c40" stroke-width="1" /><circle cx="1531.8" cy="1707.6" r="1.7" fill="#3a3c40" stroke="none" stroke-width="0" /><circle cx="1529.4" cy="1714.8" r="1.7" fill="#3a3c40" stroke="none" stroke-width="0" /><circle cx="1523.3" cy="1719.3" r="1.7" fill="#3a3c40" stroke="none" stroke-width="0" /><circle cx="1515.7" cy="1719.3" r="1.7" fill="#3a3c40" stroke="none" stroke-width="0" /><circle cx="1509.6" cy="1714.8" r="1.7" fill="#3a3c40" stroke="none" stroke-width="0" /><circle cx="1507.2" cy="1707.6" r="1.7" fill="#3a3c40" stroke="none" stroke-width="0" /><circle cx="1509.6" cy="1700.4" r="1.7" fill="#3a3c40" stroke="none" stroke-width="0" /><circle cx="1515.7" cy="1695.9" r="1.7" fill="#3a3c40" stroke="none" stroke-width="0" /><circle cx="1523.3" cy="1695.9" r="1.7" fill="#3a3c40" stroke="none" stroke-width="0" /><circle cx="1529.4" cy="1700.4" r="1.7" fill="#3a3c40" stroke="none" stroke-width="0" /><circle cx="1519.5" cy="1707.6" r="5.6" fill="#9a9fa6" stroke="#3a3c40" stroke-width="1" /><line x1="1519.5" y1="1707.6" x2="1532.9" y2="1694.2" stroke="#c8ccd2" stroke-width="2.5" /></g>
<g id="topol"><polygon points="126,2034 848,2034 850,2066 826,2087 126,2087" fill="#7d8660" stroke="#1b1b1b" stroke-width="1.5" stroke-linejoin="round" /><line x1="126" y1="2047.5" x2="830" y2="2047.5" stroke="#1b1b1b" stroke-width="1.2" /><line x1="126" y1="2055" x2="830" y2="2055" stroke="#1b1b1b" stroke-width="1.2" /><path d="M84,1938 L951,1938 L1019,1978 Q1022,1982 1019,1986 L951,2025 L84,2025 Z" fill="url(#barrel)" stroke="#1b1b1b" stroke-width="2" stroke-linejoin="round" /><line x1="92" y1="1951" x2="780" y2="1951" stroke="#1b1b1b" stroke-width="4" /><line x1="92" y1="1951" x2="780" y2="1951" stroke="#a3aa82" stroke-width="1.5" /><rect x="123.9" y="1934" width="5" height="56" rx="0" fill="#c8ccb0" stroke="#1b1b1b" stroke-width="1.2" /><rect x="219.5" y="1934" width="5" height="56" rx="0" fill="#c8ccb0" stroke="#1b1b1b" stroke-width="1.2" /><rect x="363.3" y="1934" width="5" height="56" rx="0" fill="#c8ccb0" stroke="#1b1b1b" stroke-width="1.2" /><rect x="469.8" y="1934" width="5" height="56" rx="0" fill="#c8ccb0" stroke="#1b1b1b" stroke-width="1.2" /><rect x="629.5" y="1934" width="5" height="56" rx="0" fill="#c8ccb0" stroke="#1b1b1b" stroke-width="1.2" /><rect x="674.9" y="1934" width="5" height="56" rx="0" fill="#c8ccb0" stroke="#1b1b1b" stroke-width="1.2" /><rect x="758.1" y="1934" width="5" height="56" rx="0" fill="#c8ccb0" stroke="#1b1b1b" stroke-width="1.2" /><rect x="886.2" y="1934" width="5" height="56" rx="0" fill="#c8ccb0" stroke="#1b1b1b" stroke-width="1.2" /><rect x="89" y="1934" width="6" height="92" rx="0" fill="#c8ccb0" stroke="#1b1b1b" stroke-width="1.2" /><rect x="948.5" y="1934" width="6" height="92" rx="0" fill="#c8ccb0" stroke="#1b1b1b" stroke-width="1.2" /><ellipse cx="135" cy="1978" rx="2.6" ry="8" fill="none" stroke="#1b1b1b" stroke-width="1.3"/><ellipse cx="154.5" cy="1978" rx="2.6" ry="8" fill="none" stroke="#1b1b1b" stroke-width="1.3"/><ellipse cx="179.5" cy="1978" rx="2.6" ry="8" fill="none" stroke="#1b1b1b" stroke-width="1.3"/><ellipse cx="212.7" cy="1978" rx="2.6" ry="8" fill="none" stroke="#1b1b1b" stroke-width="1.3"/><ellipse cx="230.8" cy="1978" rx="2.6" ry="8" fill="none" stroke="#1b1b1b" stroke-width="1.3"/><ellipse cx="242.9" cy="1978" rx="2.6" ry="8" fill="none" stroke="#1b1b1b" stroke-width="1.3"/><ellipse cx="416" cy="1978" rx="2.6" ry="8" fill="none" stroke="#1b1b1b" stroke-width="1.3"/><ellipse cx="443.4" cy="1978" rx="2.6" ry="8" fill="none" stroke="#1b1b1b" stroke-width="1.3"/><ellipse cx="486.5" cy="1978" rx="2.6" ry="8" fill="none" stroke="#1b1b1b" stroke-width="1.3"/><ellipse cx="509" cy="1978" rx="2.6" ry="8" fill="none" stroke="#1b1b1b" stroke-width="1.3"/><path d="M270,1991 L276,1982 L276,1955 Q276,1950 281,1950 L358,1950 Q363,1950 363,1955 L363,1982 L369,1991" fill="none" stroke="#1b1b1b" stroke-width="1.5" stroke-linejoin="round" /><rect x="275" y="1972" width="19.6" height="17" rx="0" fill="#a3aa82" stroke="#1b1b1b" stroke-width="1.2" /><rect x="340" y="1972" width="19" height="17" rx="0" fill="#a3aa82" stroke="#1b1b1b" stroke-width="1.2" /><rect x="30" y="1948" width="55" height="68" rx="0" fill="#2a2a2c" stroke="#1b1b1b" stroke-width="1.5" /><line x1="36" y1="1949" x2="36" y2="2015" stroke="#5a5a5c" stroke-width="2" /><line x1="42" y1="1949" x2="42" y2="2015" stroke="#5a5a5c" stroke-width="2" /><line x1="48" y1="1949" x2="48" y2="2015" stroke="#5a5a5c" stroke-width="2" /><line x1="54" y1="1949" x2="54" y2="2015" stroke="#5a5a5c" stroke-width="2" /><line x1="60" y1="1949" x2="60" y2="2015" stroke="#5a5a5c" stroke-width="2" /><line x1="66" y1="1949" x2="66" y2="2015" stroke="#5a5a5c" stroke-width="2" /><line x1="72" y1="1949" x2="72" y2="2015" stroke="#5a5a5c" stroke-width="2" /><line x1="78" y1="1949" x2="78" y2="2015" stroke="#5a5a5c" stroke-width="2" /><rect x="21" y="1932" width="10" height="100" rx="0" fill="#111" stroke="#1b1b1b" stroke-width="1" /><rect x="126.4" y="1991.4" width="369" height="45" rx="0" fill="#8b946c" stroke="#1b1b1b" stroke-width="1.5" /><rect x="126.4" y="1991.4" width="369" height="14" rx="0" fill="#a3aa82" stroke="#1b1b1b" stroke-width="1.5" /><line x1="176" y1="1991.4" x2="176" y2="2036.4" stroke="#1b1b1b" stroke-width="1.2" /><line x1="223.5" y1="1991.4" x2="223.5" y2="2036.4" stroke="#1b1b1b" stroke-width="1.2" /><line x1="268.7" y1="1991.4" x2="268.7" y2="2036.4" stroke="#1b1b1b" stroke-width="1.2" /><line x1="310.6" y1="1991.4" x2="310.6" y2="2036.4" stroke="#1b1b1b" stroke-width="1.2" /><line x1="361.4" y1="1991.4" x2="361.4" y2="2036.4" stroke="#1b1b1b" stroke-width="1.2" /><line x1="381.7" y1="1991.4" x2="381.7" y2="2036.4" stroke="#1b1b1b" stroke-width="1.2" /><line x1="433.9" y1="1991.4" x2="433.9" y2="2036.4" stroke="#1b1b1b" stroke-width="1.2" /><line x1="129" y1="2006" x2="129" y2="2035" stroke="#1b1b1b" stroke-width="1" /><rect x="137" y="2015" width="6" height="4" rx="0" fill="none" stroke="#1b1b1b" stroke-width="1" /><line x1="153" y1="2006" x2="153" y2="2035" stroke="#1b1b1b" stroke-width="1" /><rect x="161" y="2015" width="6" height="4" rx="0" fill="none" stroke="#1b1b1b" stroke-width="1" /><line x1="177" y1="2006" x2="177" y2="2035" stroke="#1b1b1b" stroke-width="1" /><rect x="184.9" y="2015" width="6" height="4" rx="0" fill="none" stroke="#1b1b1b" stroke-width="1" /><line x1="200.8" y1="2006" x2="200.8" y2="2035" stroke="#1b1b1b" stroke-width="1" /><rect x="208.6" y="2015" width="6" height="4" rx="0" fill="none" stroke="#1b1b1b" stroke-width="1" /><line x1="224.5" y1="2006" x2="224.5" y2="2035" stroke="#1b1b1b" stroke-width="1" /><rect x="231.8" y="2015" width="6" height="4" rx="0" fill="none" stroke="#1b1b1b" stroke-width="1" /><line x1="247.1" y1="2006" x2="247.1" y2="2035" stroke="#1b1b1b" stroke-width="1" /><rect x="254.4" y="2015" width="6" height="4" rx="0" fill="none" stroke="#1b1b1b" stroke-width="1" /><line x1="269.7" y1="2006" x2="269.7" y2="2035" stroke="#1b1b1b" stroke-width="1" /><rect x="276.2" y="2015" width="6" height="4" rx="0" fill="none" stroke="#1b1b1b" stroke-width="1" /><line x1="290.6" y1="2006" x2="290.6" y2="2035" stroke="#1b1b1b" stroke-width="1" /><rect x="297.1" y="2015" width="6" height="4" rx="0" fill="none" stroke="#1b1b1b" stroke-width="1" /><line x1="311.6" y1="2006" x2="311.6" y2="2035" stroke="#1b1b1b" stroke-width="1" /><rect x="320.3" y="2015" width="6" height="4" rx="0" fill="none" stroke="#1b1b1b" stroke-width="1" /><line x1="337" y1="2006" x2="337" y2="2035" stroke="#1b1b1b" stroke-width="1" /><rect x="345.7" y="2015" width="6" height="4" rx="0" fill="none" stroke="#1b1b1b" stroke-width="1" /><line x1="362.4" y1="2006" x2="362.4" y2="2035" stroke="#1b1b1b" stroke-width="1" /><rect x="368.5" y="2015" width="6" height="4" rx="0" fill="none" stroke="#1b1b1b" stroke-width="1" /><line x1="382.7" y1="2006" x2="382.7" y2="2035" stroke="#1b1b1b" stroke-width="1" /><rect x="391.8" y="2015" width="6" height="4" rx="0" fill="none" stroke="#1b1b1b" stroke-width="1" /><line x1="408.8" y1="2006" x2="408.8" y2="2035" stroke="#1b1b1b" stroke-width="1" /><rect x="417.8" y="2015" width="6" height="4" rx="0" fill="none" stroke="#1b1b1b" stroke-width="1" /><line x1="434.9" y1="2006" x2="434.9" y2="2035" stroke="#1b1b1b" stroke-width="1" /><rect x="446.2" y="2015" width="6" height="4" rx="0" fill="none" stroke="#1b1b1b" stroke-width="1" /><line x1="465.6" y1="2006" x2="465.6" y2="2035" stroke="#1b1b1b" stroke-width="1" /><rect x="476.9" y="2015" width="6" height="4" rx="0" fill="none" stroke="#1b1b1b" stroke-width="1" /><rect x="495.3" y="2005" width="130" height="29" rx="0" fill="#7b8260" stroke="#1b1b1b" stroke-width="1.2" /><rect x="498.6" y="2005.5" width="59.3" height="21.5" rx="0" fill="#8b946c" stroke="#1b1b1b" stroke-width="1.3" /><line x1="525" y1="2007" x2="525" y2="2026" stroke="#1b1b1b" stroke-width="1.2" /><line x1="532" y1="2007" x2="532" y2="2026" stroke="#1b1b1b" stroke-width="1.2" /><line x1="538" y1="2007" x2="538" y2="2026" stroke="#1b1b1b" stroke-width="1.2" /><line x1="546" y1="2007" x2="546" y2="2026" stroke="#1b1b1b" stroke-width="1.2" /><line x1="553" y1="2007" x2="553" y2="2026" stroke="#1b1b1b" stroke-width="1.2" /><rect x="503" y="2027" width="49.5" height="5.4" rx="0" fill="#555" stroke="#1b1b1b" stroke-width="1" /><rect x="496.4" y="2033.5" width="127.2" height="6.5" rx="0" fill="#8b946c" stroke="#1b1b1b" stroke-width="1.2" /><rect x="562.2" y="1982.8" width="4.3" height="50.7" rx="0" fill="#8b946c" stroke="#1b1b1b" stroke-width="1" /><rect x="560" y="1981.7" width="7.6" height="6" rx="0" fill="#8b946c" stroke="#1b1b1b" stroke-width="1" /><rect x="605.5" y="1966.7" width="3" height="20" rx="0" fill="#8b946c" stroke="#1b1b1b" stroke-width="1" /><rect x="602" y="1983" width="11" height="10.6" rx="0" fill="#8b946c" stroke="#1b1b1b" stroke-width="1" /><rect x="592.4" y="2012" width="27" height="18" rx="3" fill="#a3aa82" stroke="#1b1b1b" stroke-width="1.2" /><rect x="449" y="2037.8" width="27" height="15" rx="0" fill="#8b946c" stroke="#1b1b1b" stroke-width="1" /><path d="M451,2057 L465,2057 L465,2062 L469.5,2062 L469.5,2079 L465,2079 L465,2084 L451,2084 Z" fill="#8b946c" stroke="#1b1b1b" stroke-width="1" stroke-linejoin="round" /><rect x="625.7" y="1988.3" width="17.3" height="68" rx="0" fill="#8b946c" stroke="#1b1b1b" stroke-width="1.3" /><line x1="630" y1="1989" x2="630" y2="2055" stroke="#1b1b1b" stroke-width="1" /><line x1="634.3" y1="1989" x2="634.3" y2="2055" stroke="#1b1b1b" stroke-width="1" /><line x1="638.6" y1="1989" x2="638.6" y2="2055" stroke="#1b1b1b" stroke-width="1" /><rect x="614.7" y="2049.7" width="31.5" height="36.3" rx="0" fill="#8b946c" stroke="#1b1b1b" stroke-width="1.3" /><line x1="618" y1="2058" x2="643" y2="2058" stroke="#1b1b1b" stroke-width="1" /><rect x="644.6" y="1996.8" width="57.7" height="37.2" rx="0" fill="#8b946c" stroke="#1b1b1b" stroke-width="1.3" /><line x1="647" y1="2002.5" x2="700" y2="2002.5" stroke="#1b1b1b" stroke-width="1" /><line x1="650" y1="2029" x2="698" y2="2029" stroke="#1b1b1b" stroke-width="1" /><rect x="706" y="2001" width="52" height="33" rx="0" fill="#8b946c" stroke="#1b1b1b" stroke-width="1.3" /><line x1="706" y1="2008.8" x2="758" y2="2008.8" stroke="#1b1b1b" stroke-width="1" /><line x1="708" y1="2019.8" x2="756" y2="2019.8" stroke="#1b1b1b" stroke-width="1" /><rect x="718" y="2001.5" width="5" height="6" rx="0" fill="#444" stroke="none" stroke-width="0" /><rect x="740" y="2001.5" width="5" height="6" rx="0" fill="#444" stroke="none" stroke-width="0" /><rect x="758" y="1998.7" width="42.6" height="35.3" rx="0" fill="#8b946c" stroke="#1b1b1b" stroke-width="1.3" /><line x1="758" y1="2006" x2="800" y2="2006" stroke="#1b1b1b" stroke-width="1" /><line x1="786" y1="2006" x2="786" y2="2034" stroke="#1b1b1b" stroke-width="1" /><rect x="644.6" y="2034" width="156" height="8" rx="0" fill="#8b946c" stroke="#1b1b1b" stroke-width="1.2" /><rect x="802" y="2008.8" width="39.5" height="50.2" rx="0" fill="#a3aa82" stroke="#1b1b1b" stroke-width="1.3" /><line x1="803" y1="2014" x2="840" y2="2014" stroke="#1b1b1b" stroke-width="1" /><line x1="803" y1="2020" x2="840" y2="2020" stroke="#1b1b1b" stroke-width="1" /><line x1="803" y1="2026" x2="840" y2="2026" stroke="#1b1b1b" stroke-width="1" /><line x1="803" y1="2032" x2="840" y2="2032" stroke="#1b1b1b" stroke-width="1" /><line x1="803" y1="2038" x2="840" y2="2038" stroke="#1b1b1b" stroke-width="1" /><line x1="803" y1="2044" x2="840" y2="2044" stroke="#1b1b1b" stroke-width="1" /><line x1="803" y1="2050" x2="840" y2="2050" stroke="#1b1b1b" stroke-width="1" /><line x1="803" y1="2056" x2="840" y2="2056" stroke="#1b1b1b" stroke-width="1" /><rect x="817" y="2011" width="9" height="6" rx="0" fill="#555" stroke="#1b1b1b" stroke-width="0.8" /><rect x="817" y="2047" width="9" height="6" rx="0" fill="#555" stroke="#1b1b1b" stroke-width="0.8" /><rect x="797.4" y="2060.8" width="50.4" height="14.2" rx="0" fill="#a3aa82" stroke="#1b1b1b" stroke-width="1.3" /><rect x="801" y="1994" width="22" height="4" rx="0" fill="#a3aa82" stroke="#1b1b1b" stroke-width="1" /><rect x="812" y="1985" width="3" height="13" rx="0" fill="#a3aa82" stroke="#1b1b1b" stroke-width="1" /><rect x="739" y="1969.4" width="38" height="16.6" rx="0" fill="#a3aa82" stroke="#1b1b1b" stroke-width="1.2" /><rect x="780" y="1949" width="66" height="37" rx="0" fill="#7d8660" stroke="#1b1b1b" stroke-width="1.2" /><rect x="780" y="1949" width="8" height="37" rx="0" fill="#7d8660" stroke="#1b1b1b" stroke-width="1.2" /><polygon points="847.8,1996 910.8,1996 914,2007 918.7,2031 920.3,2051 925,2064 910.8,2068.6 854,2067 847.8,2060" fill="#8b946c" stroke="#1b1b1b" stroke-width="1.8" stroke-linejoin="round" /><rect x="868" y="2008.8" width="27" height="48.8" rx="0" fill="none" stroke="#1b1b1b" stroke-width="1.2" /><rect x="873" y="2012" width="19" height="14" rx="0" fill="#b6d6d8" stroke="#1b1b1b" stroke-width="1.2" /><rect x="900" y="2010" width="9" height="16" rx="0" fill="#b6d6d8" stroke="#1b1b1b" stroke-width="1.2" /><rect x="870" y="2033" width="5" height="3" rx="0" fill="none" stroke="#1b1b1b" stroke-width="0.8" /><rect x="863" y="1983" width="6" height="11" rx="0" fill="#a3aa82" stroke="#1b1b1b" stroke-width="1" /><rect x="859" y="1990" width="14" height="6" rx="0" fill="#a3aa82" stroke="#1b1b1b" stroke-width="1" /><rect x="875" y="2063" width="12" height="15" rx="0" fill="none" stroke="#1b1b1b" stroke-width="1" /><rect x="96.2" y="1989" width="30.2" height="99" rx="0" fill="#8b946c" stroke="#1b1b1b" stroke-width="1.5" /><rect x="100" y="1998" width="22" height="30" rx="0" fill="#7d8660" stroke="#1b1b1b" stroke-width="1" /><circle cx="192" cy="2079" r="31.2" fill="url(#tire)" stroke="#1e1e20" stroke-width="1.5" /><circle cx="192" cy="2079" r="31.5" fill="none" stroke="#25272b" stroke-width="3.25" stroke-dasharray="4.5 4.5"/><circle cx="192" cy="2079" r="14.6" fill="#a6abb2" stroke="#26282b" stroke-width="1.5" /><circle cx="192" cy="2079" r="11.1" fill="#7b8087" stroke="#3a3c40" stroke-width="1" /><circle cx="200" cy="2079" r="1.1" fill="#3a3c40" stroke="none" stroke-width="0" /><circle cx="198.5" cy="2083.7" r="1.1" fill="#3a3c40" stroke="none" stroke-width="0" /><circle cx="194.5" cy="2086.7" r="1.1" fill="#3a3c40" stroke="none" stroke-width="0" /><circle cx="189.5" cy="2086.7" r="1.1" fill="#3a3c40" stroke="none" stroke-width="0" /><circle cx="185.5" cy="2083.7" r="1.1" fill="#3a3c40" stroke="none" stroke-width="0" /><circle cx="184" cy="2079" r="1.1" fill="#3a3c40" stroke="none" stroke-width="0" /><circle cx="185.5" cy="2074.3" r="1.1" fill="#3a3c40" stroke="none" stroke-width="0" /><circle cx="189.5" cy="2071.3" r="1.1" fill="#3a3c40" stroke="none" stroke-width="0" /><circle cx="194.5" cy="2071.3" r="1.1" fill="#3a3c40" stroke="none" stroke-width="0" /><circle cx="198.5" cy="2074.3" r="1.1" fill="#3a3c40" stroke="none" stroke-width="0" /><circle cx="192" cy="2079" r="3.7" fill="#9a9fa6" stroke="#3a3c40" stroke-width="1" /><line x1="192" y1="2079" x2="200.8" y2="2070.2" stroke="#c8ccd2" stroke-width="2.5" /><circle cx="265" cy="2079" r="31.2" fill="url(#tire)" stroke="#1e1e20" stroke-width="1.5" /><circle cx="265" cy="2079" r="31.5" fill="none" stroke="#25272b" stroke-width="3.25" stroke-dasharray="4.5 4.5"/><circle cx="265" cy="2079" r="14.6" fill="#a6abb2" stroke="#26282b" stroke-width="1.5" /><circle cx="265" cy="2079" r="11.1" fill="#7b8087" stroke="#3a3c40" stroke-width="1" /><circle cx="273" cy="2079" r="1.1" fill="#3a3c40" stroke="none" stroke-width="0" /><circle cx="271.5" cy="2083.7" r="1.1" fill="#3a3c40" stroke="none" stroke-width="0" /><circle cx="267.5" cy="2086.7" r="1.1" fill="#3a3c40" stroke="none" stroke-width="0" /><circle cx="262.5" cy="2086.7" r="1.1" fill="#3a3c40" stroke="none" stroke-width="0" /><circle cx="258.5" cy="2083.7" r="1.1" fill="#3a3c40" stroke="none" stroke-width="0" /><circle cx="257" cy="2079" r="1.1" fill="#3a3c40" stroke="none" stroke-width="0" /><circle cx="258.5" cy="2074.3" r="1.1" fill="#3a3c40" stroke="none" stroke-width="0" /><circle cx="262.5" cy="2071.3" r="1.1" fill="#3a3c40" stroke="none" stroke-width="0" /><circle cx="267.5" cy="2071.3" r="1.1" fill="#3a3c40" stroke="none" stroke-width="0" /><circle cx="271.5" cy="2074.3" r="1.1" fill="#3a3c40" stroke="none" stroke-width="0" /><circle cx="265" cy="2079" r="3.7" fill="#9a9fa6" stroke="#3a3c40" stroke-width="1" /><line x1="265" y1="2079" x2="273.8" y2="2070.2" stroke="#c8ccd2" stroke-width="2.5" /><circle cx="338" cy="2079" r="31.2" fill="url(#tire)" stroke="#1e1e20" stroke-width="1.5" /><circle cx="338" cy="2079" r="31.5" fill="none" stroke="#25272b" stroke-width="3.25" stroke-dasharray="4.5 4.5"/><circle cx="338" cy="2079" r="14.6" fill="#a6abb2" stroke="#26282b" stroke-width="1.5" /><circle cx="338" cy="2079" r="11.1" fill="#7b8087" stroke="#3a3c40" stroke-width="1" /><circle cx="346" cy="2079" r="1.1" fill="#3a3c40" stroke="none" stroke-width="0" /><circle cx="344.5" cy="2083.7" r="1.1" fill="#3a3c40" stroke="none" stroke-width="0" /><circle cx="340.5" cy="2086.7" r="1.1" fill="#3a3c40" stroke="none" stroke-width="0" /><circle cx="335.5" cy="2086.7" r="1.1" fill="#3a3c40" stroke="none" stroke-width="0" /><circle cx="331.5" cy="2083.7" r="1.1" fill="#3a3c40" stroke="none" stroke-width="0" /><circle cx="330" cy="2079" r="1.1" fill="#3a3c40" stroke="none" stroke-width="0" /><circle cx="331.5" cy="2074.3" r="1.1" fill="#3a3c40" stroke="none" stroke-width="0" /><circle cx="335.5" cy="2071.3" r="1.1" fill="#3a3c40" stroke="none" stroke-width="0" /><circle cx="340.5" cy="2071.3" r="1.1" fill="#3a3c40" stroke="none" stroke-width="0" /><circle cx="344.5" cy="2074.3" r="1.1" fill="#3a3c40" stroke="none" stroke-width="0" /><circle cx="338" cy="2079" r="3.7" fill="#9a9fa6" stroke="#3a3c40" stroke-width="1" /><line x1="338" y1="2079" x2="346.8" y2="2070.2" stroke="#c8ccd2" stroke-width="2.5" /><circle cx="410" cy="2079" r="31.2" fill="url(#tire)" stroke="#1e1e20" stroke-width="1.5" /><circle cx="410" cy="2079" r="31.5" fill="none" stroke="#25272b" stroke-width="3.25" stroke-dasharray="4.5 4.5"/><circle cx="410" cy="2079" r="14.6" fill="#a6abb2" stroke="#26282b" stroke-width="1.5" /><circle cx="410" cy="2079" r="11.1" fill="#7b8087" stroke="#3a3c40" stroke-width="1" /><circle cx="418" cy="2079" r="1.1" fill="#3a3c40" stroke="none" stroke-width="0" /><circle cx="416.5" cy="2083.7" r="1.1" fill="#3a3c40" stroke="none" stroke-width="0" /><circle cx="412.5" cy="2086.7" r="1.1" fill="#3a3c40" stroke="none" stroke-width="0" /><circle cx="407.5" cy="2086.7" r="1.1" fill="#3a3c40" stroke="none" stroke-width="0" /><circle cx="403.5" cy="2083.7" r="1.1" fill="#3a3c40" stroke="none" stroke-width="0" /><circle cx="402" cy="2079" r="1.1" fill="#3a3c40" stroke="none" stroke-width="0" /><circle cx="403.5" cy="2074.3" r="1.1" fill="#3a3c40" stroke="none" stroke-width="0" /><circle cx="407.5" cy="2071.3" r="1.1" fill="#3a3c40" stroke="none" stroke-width="0" /><circle cx="412.5" cy="2071.3" r="1.1" fill="#3a3c40" stroke="none" stroke-width="0" /><circle cx="416.5" cy="2074.3" r="1.1" fill="#3a3c40" stroke="none" stroke-width="0" /><circle cx="410" cy="2079" r="3.7" fill="#9a9fa6" stroke="#3a3c40" stroke-width="1" /><line x1="410" y1="2079" x2="418.8" y2="2070.2" stroke="#c8ccd2" stroke-width="2.5" /><circle cx="507" cy="2079" r="31.2" fill="url(#tire)" stroke="#1e1e20" stroke-width="1.5" /><circle cx="507" cy="2079" r="31.5" fill="none" stroke="#25272b" stroke-width="3.25" stroke-dasharray="4.5 4.5"/><circle cx="507" cy="2079" r="14.6" fill="#a6abb2" stroke="#26282b" stroke-width="1.5" /><circle cx="507" cy="2079" r="11.1" fill="#7b8087" stroke="#3a3c40" stroke-width="1" /><circle cx="515" cy="2079" r="1.1" fill="#3a3c40" stroke="none" stroke-width="0" /><circle cx="513.5" cy="2083.7" r="1.1" fill="#3a3c40" stroke="none" stroke-width="0" /><circle cx="509.5" cy="2086.7" r="1.1" fill="#3a3c40" stroke="none" stroke-width="0" /><circle cx="504.5" cy="2086.7" r="1.1" fill="#3a3c40" stroke="none" stroke-width="0" /><circle cx="500.5" cy="2083.7" r="1.1" fill="#3a3c40" stroke="none" stroke-width="0" /><circle cx="499" cy="2079" r="1.1" fill="#3a3c40" stroke="none" stroke-width="0" /><circle cx="500.5" cy="2074.3" r="1.1" fill="#3a3c40" stroke="none" stroke-width="0" /><circle cx="504.5" cy="2071.3" r="1.1" fill="#3a3c40" stroke="none" stroke-width="0" /><circle cx="509.5" cy="2071.3" r="1.1" fill="#3a3c40" stroke="none" stroke-width="0" /><circle cx="513.5" cy="2074.3" r="1.1" fill="#3a3c40" stroke="none" stroke-width="0" /><circle cx="507" cy="2079" r="3.7" fill="#9a9fa6" stroke="#3a3c40" stroke-width="1" /><line x1="507" y1="2079" x2="515.8" y2="2070.2" stroke="#c8ccd2" stroke-width="2.5" /><circle cx="578" cy="2079" r="31.2" fill="url(#tire)" stroke="#1e1e20" stroke-width="1.5" /><circle cx="578" cy="2079" r="31.5" fill="none" stroke="#25272b" stroke-width="3.25" stroke-dasharray="4.5 4.5"/><circle cx="578" cy="2079" r="14.6" fill="#a6abb2" stroke="#26282b" stroke-width="1.5" /><circle cx="578" cy="2079" r="11.1" fill="#7b8087" stroke="#3a3c40" stroke-width="1" /><circle cx="586" cy="2079" r="1.1" fill="#3a3c40" stroke="none" stroke-width="0" /><circle cx="584.5" cy="2083.7" r="1.1" fill="#3a3c40" stroke="none" stroke-width="0" /><circle cx="580.5" cy="2086.7" r="1.1" fill="#3a3c40" stroke="none" stroke-width="0" /><circle cx="575.5" cy="2086.7" r="1.1" fill="#3a3c40" stroke="none" stroke-width="0" /><circle cx="571.5" cy="2083.7" r="1.1" fill="#3a3c40" stroke="none" stroke-width="0" /><circle cx="570" cy="2079" r="1.1" fill="#3a3c40" stroke="none" stroke-width="0" /><circle cx="571.5" cy="2074.3" r="1.1" fill="#3a3c40" stroke="none" stroke-width="0" /><circle cx="575.5" cy="2071.3" r="1.1" fill="#3a3c40" stroke="none" stroke-width="0" /><circle cx="580.5" cy="2071.3" r="1.1" fill="#3a3c40" stroke="none" stroke-width="0" /><circle cx="584.5" cy="2074.3" r="1.1" fill="#3a3c40" stroke="none" stroke-width="0" /><circle cx="578" cy="2079" r="3.7" fill="#9a9fa6" stroke="#3a3c40" stroke-width="1" /><line x1="578" y1="2079" x2="586.8" y2="2070.2" stroke="#c8ccd2" stroke-width="2.5" /><circle cx="687" cy="2079" r="31.2" fill="url(#tire)" stroke="#1e1e20" stroke-width="1.5" /><circle cx="687" cy="2079" r="31.5" fill="none" stroke="#25272b" stroke-width="3.25" stroke-dasharray="4.5 4.5"/><circle cx="687" cy="2079" r="14.6" fill="#a6abb2" stroke="#26282b" stroke-width="1.5" /><circle cx="687" cy="2079" r="11.1" fill="#7b8087" stroke="#3a3c40" stroke-width="1" /><circle cx="695" cy="2079" r="1.1" fill="#3a3c40" stroke="none" stroke-width="0" /><circle cx="693.5" cy="2083.7" r="1.1" fill="#3a3c40" stroke="none" stroke-width="0" /><circle cx="689.5" cy="2086.7" r="1.1" fill="#3a3c40" stroke="none" stroke-width="0" /><circle cx="684.5" cy="2086.7" r="1.1" fill="#3a3c40" stroke="none" stroke-width="0" /><circle cx="680.5" cy="2083.7" r="1.1" fill="#3a3c40" stroke="none" stroke-width="0" /><circle cx="679" cy="2079" r="1.1" fill="#3a3c40" stroke="none" stroke-width="0" /><circle cx="680.5" cy="2074.3" r="1.1" fill="#3a3c40" stroke="none" stroke-width="0" /><circle cx="684.5" cy="2071.3" r="1.1" fill="#3a3c40" stroke="none" stroke-width="0" /><circle cx="689.5" cy="2071.3" r="1.1" fill="#3a3c40" stroke="none" stroke-width="0" /><circle cx="693.5" cy="2074.3" r="1.1" fill="#3a3c40" stroke="none" stroke-width="0" /><circle cx="687" cy="2079" r="3.7" fill="#9a9fa6" stroke="#3a3c40" stroke-width="1" /><line x1="687" y1="2079" x2="695.8" y2="2070.2" stroke="#c8ccd2" stroke-width="2.5" /><circle cx="758" cy="2079" r="31.2" fill="url(#tire)" stroke="#1e1e20" stroke-width="1.5" /><circle cx="758" cy="2079" r="31.5" fill="none" stroke="#25272b" stroke-width="3.25" stroke-dasharray="4.5 4.5"/><circle cx="758" cy="2079" r="14.6" fill="#a6abb2" stroke="#26282b" stroke-width="1.5" /><circle cx="758" cy="2079" r="11.1" fill="#7b8087" stroke="#3a3c40" stroke-width="1" /><circle cx="766" cy="2079" r="1.1" fill="#3a3c40" stroke="none" stroke-width="0" /><circle cx="764.5" cy="2083.7" r="1.1" fill="#3a3c40" stroke="none" stroke-width="0" /><circle cx="760.5" cy="2086.7" r="1.1" fill="#3a3c40" stroke="none" stroke-width="0" /><circle cx="755.5" cy="2086.7" r="1.1" fill="#3a3c40" stroke="none" stroke-width="0" /><circle cx="751.5" cy="2083.7" r="1.1" fill="#3a3c40" stroke="none" stroke-width="0" /><circle cx="750" cy="2079" r="1.1" fill="#3a3c40" stroke="none" stroke-width="0" /><circle cx="751.5" cy="2074.3" r="1.1" fill="#3a3c40" stroke="none" stroke-width="0" /><circle cx="755.5" cy="2071.3" r="1.1" fill="#3a3c40" stroke="none" stroke-width="0" /><circle cx="760.5" cy="2071.3" r="1.1" fill="#3a3c40" stroke="none" stroke-width="0" /><circle cx="764.5" cy="2074.3" r="1.1" fill="#3a3c40" stroke="none" stroke-width="0" /><circle cx="758" cy="2079" r="3.7" fill="#9a9fa6" stroke="#3a3c40" stroke-width="1" /><line x1="758" y1="2079" x2="766.8" y2="2070.2" stroke="#c8ccd2" stroke-width="2.5" /></g>
<g id="oreshnik"><polygon points="67,2385 792,2385 792,2402 728,2429 67,2429" fill="#474749" stroke="#3a3a3c" stroke-width="1" stroke-linejoin="round" /><rect x="67" y="2381" width="725" height="6" rx="0" fill="#3c3c3e" stroke="none" stroke-width="0" /><path d="M64,2284 L643,2284 Q680,2300 692,2320 L692,2340 L64,2340 Z" fill="url(#dcan)" stroke="#2e2e30" stroke-width="1" stroke-linejoin="round" /><line x1="643" y1="2284" x2="643" y2="2320" stroke="#2e2e30" stroke-width="1" /><line x1="643" y1="2284" x2="740" y2="2313" stroke="#222" stroke-width="2" /><rect x="366" y="2323" width="101" height="14" rx="0" fill="#4e4e50" stroke="#3a3a3c" stroke-width="1" /><rect x="487" y="2323" width="100" height="14" rx="0" fill="#4e4e50" stroke="#3a3a3c" stroke-width="1" /><rect x="29" y="2294" width="36" height="74" rx="0" fill="url(#dcan)" stroke="#2e2e30" stroke-width="1" /><polygon points="22,2290 29,2294 29,2368 22,2370" fill="#3a3a3c" stroke="#2e2e30" stroke-width="1" stroke-linejoin="round" /><polygon points="67,2336 631,2336 631,2319 714,2319 714,2381 67,2381" fill="#515153" stroke="#3e3e40" stroke-width="1" stroke-linejoin="round" /><polygon points="715,2319 790,2319 794,2327 797,2340 795,2345 792,2386 800,2392 803,2405 780,2410 715,2405" fill="#4e4e50" stroke="#3e3e40" stroke-width="1" stroke-linejoin="round" /><line x1="714" y1="2320" x2="714" y2="2380" stroke="#d8d8dc" stroke-width="1.5" /><rect x="735" y="2340" width="28" height="21" rx="8" fill="#3a3a3c" stroke="#2e2e30" stroke-width="1" /><rect x="777" y="2338" width="10" height="26" rx="3" fill="#3a3a3c" stroke="#2e2e30" stroke-width="1" /><rect x="738" y="2312" width="14" height="8" rx="0" fill="#4e4e50" stroke="none" stroke-width="0" /><rect x="757" y="2308" width="9" height="12" rx="0" fill="#4e4e50" stroke="none" stroke-width="0" /><rect x="77" y="2381" width="22" height="18" rx="0" fill="#4e4e50" stroke="#3a3a3c" stroke-width="1" /><rect x="468" y="2381" width="22" height="18" rx="0" fill="#4e4e50" stroke="#3a3a3c" stroke-width="1" /><rect x="573" y="2396" width="63" height="37" rx="0" fill="#414143" stroke="#333335" stroke-width="1" /><circle cx="141" cy="2417" r="34.6" fill="url(#tired)" stroke="#1e1e20" stroke-width="1.5" /><circle cx="141" cy="2417" r="34.9" fill="none" stroke="#2c2c2e" stroke-width="3.6" stroke-dasharray="5 5"/><circle cx="141" cy="2417" r="15.1" fill="#3e3e40" stroke="#2a2a2c" stroke-width="1.2" /><circle cx="141" cy="2417" r="10.6" fill="#444446" stroke="#2a2a2c" stroke-width="1" /><circle cx="214" cy="2417" r="34.6" fill="url(#tired)" stroke="#1e1e20" stroke-width="1.5" /><circle cx="214" cy="2417" r="34.9" fill="none" stroke="#2c2c2e" stroke-width="3.6" stroke-dasharray="5 5"/><circle cx="214" cy="2417" r="15.1" fill="#3e3e40" stroke="#2a2a2c" stroke-width="1.2" /><circle cx="214" cy="2417" r="10.6" fill="#444446" stroke="#2a2a2c" stroke-width="1" /><circle cx="288.8" cy="2417" r="34.6" fill="url(#tired)" stroke="#1e1e20" stroke-width="1.5" /><circle cx="288.8" cy="2417" r="34.9" fill="none" stroke="#2c2c2e" stroke-width="3.6" stroke-dasharray="5 5"/><circle cx="288.8" cy="2417" r="15.1" fill="#3e3e40" stroke="#2a2a2c" stroke-width="1.2" /><circle cx="288.8" cy="2417" r="10.6" fill="#444446" stroke="#2a2a2c" stroke-width="1" /><circle cx="363.6" cy="2417" r="34.6" fill="url(#tired)" stroke="#1e1e20" stroke-width="1.5" /><circle cx="363.6" cy="2417" r="34.9" fill="none" stroke="#2c2c2e" stroke-width="3.6" stroke-dasharray="5 5"/><circle cx="363.6" cy="2417" r="15.1" fill="#3e3e40" stroke="#2a2a2c" stroke-width="1.2" /><circle cx="363.6" cy="2417" r="10.6" fill="#444446" stroke="#2a2a2c" stroke-width="1" /><circle cx="535.6" cy="2417" r="34.6" fill="url(#tired)" stroke="#1e1e20" stroke-width="1.5" /><circle cx="535.6" cy="2417" r="34.9" fill="none" stroke="#2c2c2e" stroke-width="3.6" stroke-dasharray="5 5"/><circle cx="535.6" cy="2417" r="15.1" fill="#3e3e40" stroke="#2a2a2c" stroke-width="1.2" /><circle cx="535.6" cy="2417" r="10.6" fill="#444446" stroke="#2a2a2c" stroke-width="1" /><circle cx="675" cy="2417" r="34.6" fill="url(#tired)" stroke="#1e1e20" stroke-width="1.5" /><circle cx="675" cy="2417" r="34.9" fill="none" stroke="#2c2c2e" stroke-width="3.6" stroke-dasharray="5 5"/><circle cx="675" cy="2417" r="15.1" fill="#3e3e40" stroke="#2a2a2c" stroke-width="1.2" /><circle cx="675" cy="2417" r="10.6" fill="#444446" stroke="#2a2a2c" stroke-width="1" /></g>
<g id="kedr" transform="translate(0,0)"><polygon points="64,2727 905,2727 913,2754 897,2759 810,2777 81,2777 64,2760" fill="#232325" stroke="#1b1b1b" stroke-width="1" stroke-linejoin="round" /><path d="M22,2626 L925,2626 Q978,2626 978,2669 Q978,2712 925,2712 L22,2712 Z" fill="url(#dcan2)" stroke="#1b1b1b" stroke-width="1.5" stroke-linejoin="round" /><rect x="61" y="2623" width="6" height="58" rx="0" fill="#4a4a4c" stroke="#1b1b1b" stroke-width="1.2" /><rect x="161" y="2623" width="6" height="58" rx="0" fill="#4a4a4c" stroke="#1b1b1b" stroke-width="1.2" /><rect x="319" y="2623" width="6" height="58" rx="0" fill="#4a4a4c" stroke="#1b1b1b" stroke-width="1.2" /><rect x="433" y="2623" width="6" height="58" rx="0" fill="#4a4a4c" stroke="#1b1b1b" stroke-width="1.2" /><rect x="602" y="2623" width="6" height="58" rx="0" fill="#4a4a4c" stroke="#1b1b1b" stroke-width="1.2" /><rect x="649" y="2623" width="6" height="58" rx="0" fill="#4a4a4c" stroke="#1b1b1b" stroke-width="1.2" /><rect x="742" y="2623" width="6" height="58" rx="0" fill="#4a4a4c" stroke="#1b1b1b" stroke-width="1.2" /><rect x="872" y="2623" width="6" height="58" rx="0" fill="#4a4a4c" stroke="#1b1b1b" stroke-width="1.2" /><rect x="22" y="2626" width="8" height="86" rx="0" fill="#3a3a3c" stroke="#1b1b1b" stroke-width="1.2" /><path d="M223,2679 L223,2643 Q223,2638 228,2638 L312,2638 Q317,2638 317,2643 L317,2679" fill="none" stroke="#1b1b1b" stroke-width="1.5" stroke-linejoin="round" /><rect x="225.4" y="2661" width="18" height="13" rx="0" fill="#3c3c3e" stroke="#1b1b1b" stroke-width="1.2" /><rect x="296.5" y="2661" width="18" height="13" rx="0" fill="#3c3c3e" stroke="#1b1b1b" stroke-width="1.2" /><path d="M217,2680 L225,2671 M322,2680 L314,2671" fill="none" stroke="#1b1b1b" stroke-width="1.5" stroke-linejoin="round" /><rect x="65" y="2680" width="396" height="47.5" rx="0" fill="#414143" stroke="#1b1b1b" stroke-width="1.5" /><line x1="65" y1="2693.5" x2="461" y2="2693.5" stroke="#1b1b1b" stroke-width="1.2" /><line x1="116.5" y1="2680" x2="116.5" y2="2727.5" stroke="#1b1b1b" stroke-width="1.2" /><line x1="164.4" y1="2680" x2="164.4" y2="2727.5" stroke="#1b1b1b" stroke-width="1.2" /><line x1="217.2" y1="2680" x2="217.2" y2="2727.5" stroke="#1b1b1b" stroke-width="1.2" /><line x1="265.2" y1="2680" x2="265.2" y2="2727.5" stroke="#1b1b1b" stroke-width="1.2" /><line x1="317.6" y1="2680" x2="317.6" y2="2727.5" stroke="#1b1b1b" stroke-width="1.2" /><line x1="343.2" y1="2680" x2="343.2" y2="2727.5" stroke="#1b1b1b" stroke-width="1.2" /><line x1="398" y1="2680" x2="398" y2="2727.5" stroke="#1b1b1b" stroke-width="1.2" /><rect x="69" y="2695.5" width="21.5" height="28" rx="0" fill="none" stroke="#1b1b1b" stroke-width="1.2" /><rect x="92" y="2695.5" width="21.6" height="28" rx="0" fill="none" stroke="#1b1b1b" stroke-width="1.2" /><rect x="117.5" y="2695.5" width="21" height="28" rx="0" fill="none" stroke="#1b1b1b" stroke-width="1.2" /><rect x="140" y="2695.5" width="22" height="28" rx="0" fill="none" stroke="#1b1b1b" stroke-width="1.2" /><polygon points="452.6,2670.4 472.5,2693 461,2693" fill="none" stroke="#1b1b1b" stroke-width="1.2" stroke-linejoin="round" /><rect x="461" y="2681" width="138" height="47" rx="0" fill="#383839" stroke="#1b1b1b" stroke-width="1.2" /><rect x="470" y="2681" width="128" height="14.6" rx="0" fill="#414143" stroke="#1b1b1b" stroke-width="1.2" /><line x1="489" y1="2681" x2="489" y2="2695.6" stroke="#1b1b1b" stroke-width="1" /><line x1="513" y1="2681" x2="513" y2="2695.6" stroke="#1b1b1b" stroke-width="1" /><line x1="548" y1="2681" x2="548" y2="2695.6" stroke="#1b1b1b" stroke-width="1" /><line x1="573" y1="2681" x2="573" y2="2695.6" stroke="#1b1b1b" stroke-width="1" /><rect x="463" y="2694.3" width="68" height="21.2" rx="0" fill="#414143" stroke="#1b1b1b" stroke-width="1.3" /><line x1="504" y1="2695" x2="504" y2="2715" stroke="#1b1b1b" stroke-width="1.2" /><line x1="509" y1="2695" x2="509" y2="2715" stroke="#1b1b1b" stroke-width="1.2" /><line x1="513" y1="2695" x2="513" y2="2715" stroke="#1b1b1b" stroke-width="1.2" /><line x1="518" y1="2695" x2="518" y2="2715" stroke="#1b1b1b" stroke-width="1.2" /><line x1="523" y1="2695" x2="523" y2="2715" stroke="#1b1b1b" stroke-width="1.2" /><rect x="468.5" y="2715.5" width="57" height="6.5" rx="0" fill="#414143" stroke="#1b1b1b" stroke-width="1" /><rect x="539" y="2697" width="60" height="12" rx="0" fill="#3a3a3c" stroke="#1b1b1b" stroke-width="1" /><rect x="539" y="2709" width="60" height="13" rx="0" fill="#2a2a2c" stroke="#1b1b1b" stroke-width="1" /><rect x="461.8" y="2722" width="135" height="6.8" rx="0" fill="#414143" stroke="#1b1b1b" stroke-width="1.2" /><rect x="533.5" y="2671" width="6.5" height="51" rx="0" fill="#414143" stroke="#1b1b1b" stroke-width="1" /><rect x="530" y="2669" width="12" height="5" rx="0" fill="#414143" stroke="#1b1b1b" stroke-width="1" /><rect x="572" y="2650" width="3" height="25" rx="0" fill="#414143" stroke="#1b1b1b" stroke-width="1" /><rect x="568" y="2673" width="10" height="8" rx="0" fill="#414143" stroke="#1b1b1b" stroke-width="1" /><rect x="600" y="2686" width="18.4" height="93" rx="0" fill="#414143" stroke="#1b1b1b" stroke-width="1.2" /><line x1="604" y1="2687" x2="604" y2="2743" stroke="#1b1b1b" stroke-width="1" /><line x1="608.5" y1="2687" x2="608.5" y2="2743" stroke="#1b1b1b" stroke-width="1" /><line x1="613" y1="2687" x2="613" y2="2743" stroke="#1b1b1b" stroke-width="1" /><rect x="597" y="2740" width="24" height="36" rx="0" fill="#414143" stroke="#1b1b1b" stroke-width="1.2" /><rect x="619" y="2686" width="58.7" height="37.4" rx="0" fill="#414143" stroke="#1b1b1b" stroke-width="1.2" /><line x1="622" y1="2708" x2="675" y2="2708" stroke="#1b1b1b" stroke-width="1" /><rect x="683" y="2696.7" width="58.8" height="26.7" rx="0" fill="#414143" stroke="#1b1b1b" stroke-width="1.2" /><line x1="683" y1="2710" x2="741.8" y2="2710" stroke="#1b1b1b" stroke-width="1" /><rect x="742.5" y="2686" width="42" height="37.4" rx="0" fill="#414143" stroke="#1b1b1b" stroke-width="1.2" /><line x1="763" y1="2686" x2="763" y2="2723" stroke="#1b1b1b" stroke-width="1" /><rect x="619" y="2723.4" width="167.4" height="8.9" rx="0" fill="#414143" stroke="#1b1b1b" stroke-width="1.2" /><rect x="786.4" y="2698.4" width="41" height="50" rx="0" fill="#414143" stroke="#1b1b1b" stroke-width="1.2" /><line x1="787" y1="2703" x2="827" y2="2703" stroke="#1b1b1b" stroke-width="1" /><line x1="787" y1="2709" x2="827" y2="2709" stroke="#1b1b1b" stroke-width="1" /><line x1="787" y1="2715" x2="827" y2="2715" stroke="#1b1b1b" stroke-width="1" /><line x1="787" y1="2721" x2="827" y2="2721" stroke="#1b1b1b" stroke-width="1" /><line x1="787" y1="2727" x2="827" y2="2727" stroke="#1b1b1b" stroke-width="1" /><line x1="787" y1="2733" x2="827" y2="2733" stroke="#1b1b1b" stroke-width="1" /><line x1="787" y1="2739" x2="827" y2="2739" stroke="#1b1b1b" stroke-width="1" /><line x1="787" y1="2745" x2="827" y2="2745" stroke="#1b1b1b" stroke-width="1" /><rect x="781" y="2750" width="51.8" height="16.2" rx="0" fill="#414143" stroke="#1b1b1b" stroke-width="1.2" /><rect x="831" y="2657.4" width="44.5" height="25" rx="0" fill="#414143" stroke="#1b1b1b" stroke-width="1.2" /><line x1="838" y1="2658" x2="838" y2="2682" stroke="#1b1b1b" stroke-width="1" /><polygon points="832.8,2684.2 898.7,2684.2 900.5,2687.7 907.6,2719.8 907.6,2741 913,2753.7 897,2759 832.8,2757.3" fill="#464648" stroke="#1b1b1b" stroke-width="1.5" stroke-linejoin="round" /><rect x="856" y="2698" width="26" height="50" rx="0" fill="none" stroke="#1b1b1b" stroke-width="1.2" /><rect x="859.5" y="2702" width="19.5" height="12.5" rx="0" fill="#5c6068" stroke="#1b1b1b" stroke-width="1.2" /><rect x="886" y="2700" width="9" height="16" rx="0" fill="#5c6068" stroke="#1b1b1b" stroke-width="1.2" /><rect x="859" y="2723" width="4" height="3" rx="0" fill="none" stroke="#1b1b1b" stroke-width="0.8" /><rect x="861" y="2752" width="10" height="17" rx="0" fill="none" stroke="#1b1b1b" stroke-width="1" /><rect x="414" y="2727.5" width="26.6" height="14.5" rx="0" fill="#3a3a3c" stroke="#1b1b1b" stroke-width="1" /><path d="M415.4,2747.4 L428,2747.4 L428,2752 L434,2752 L434,2768 L428,2768 L428,2774 L415.4,2774 Z" fill="#333335" stroke="#1b1b1b" stroke-width="1" stroke-linejoin="round" /><circle cx="127.8" cy="2770" r="29.8" fill="url(#tireb)" stroke="#1e1e20" stroke-width="1.5" /><circle cx="127.8" cy="2770" r="30.1" fill="none" stroke="#111113" stroke-width="3.1" stroke-dasharray="4.3 4.3"/><circle cx="127.8" cy="2770" r="12.7" fill="#4a4a4c" stroke="#2a2a2c" stroke-width="1.2" /><circle cx="127.8" cy="2770" r="9.2" fill="#434345" stroke="#333335" stroke-width="1" /><circle cx="127.8" cy="2770" r="3.2" fill="#4a4a4c" stroke="#333335" stroke-width="1" /><circle cx="208.3" cy="2770" r="29.8" fill="url(#tireb)" stroke="#1e1e20" stroke-width="1.5" /><circle cx="208.3" cy="2770" r="30.1" fill="none" stroke="#111113" stroke-width="3.1" stroke-dasharray="4.3 4.3"/><circle cx="208.3" cy="2770" r="12.7" fill="#4a4a4c" stroke="#2a2a2c" stroke-width="1.2" /><circle cx="208.3" cy="2770" r="9.2" fill="#434345" stroke="#333335" stroke-width="1" /><circle cx="208.3" cy="2770" r="3.2" fill="#4a4a4c" stroke="#333335" stroke-width="1" /><circle cx="290.4" cy="2770" r="29.8" fill="url(#tireb)" stroke="#1e1e20" stroke-width="1.5" /><circle cx="290.4" cy="2770" r="30.1" fill="none" stroke="#111113" stroke-width="3.1" stroke-dasharray="4.3 4.3"/><circle cx="290.4" cy="2770" r="12.7" fill="#4a4a4c" stroke="#2a2a2c" stroke-width="1.2" /><circle cx="290.4" cy="2770" r="9.2" fill="#434345" stroke="#333335" stroke-width="1" /><circle cx="290.4" cy="2770" r="3.2" fill="#4a4a4c" stroke="#333335" stroke-width="1" /><circle cx="373.7" cy="2770" r="29.8" fill="url(#tireb)" stroke="#1e1e20" stroke-width="1.5" /><circle cx="373.7" cy="2770" r="30.1" fill="none" stroke="#111113" stroke-width="3.1" stroke-dasharray="4.3 4.3"/><circle cx="373.7" cy="2770" r="12.7" fill="#4a4a4c" stroke="#2a2a2c" stroke-width="1.2" /><circle cx="373.7" cy="2770" r="9.2" fill="#434345" stroke="#333335" stroke-width="1" /><circle cx="373.7" cy="2770" r="3.2" fill="#4a4a4c" stroke="#333335" stroke-width="1" /><circle cx="473.2" cy="2770" r="29.8" fill="url(#tireb)" stroke="#1e1e20" stroke-width="1.5" /><circle cx="473.2" cy="2770" r="30.1" fill="none" stroke="#111113" stroke-width="3.1" stroke-dasharray="4.3 4.3"/><circle cx="473.2" cy="2770" r="12.7" fill="#4a4a4c" stroke="#2a2a2c" stroke-width="1.2" /><circle cx="473.2" cy="2770" r="9.2" fill="#434345" stroke="#333335" stroke-width="1" /><circle cx="473.2" cy="2770" r="3.2" fill="#4a4a4c" stroke="#333335" stroke-width="1" /><circle cx="548.8" cy="2770" r="29.8" fill="url(#tireb)" stroke="#1e1e20" stroke-width="1.5" /><circle cx="548.8" cy="2770" r="30.1" fill="none" stroke="#111113" stroke-width="3.1" stroke-dasharray="4.3 4.3"/><circle cx="548.8" cy="2770" r="12.7" fill="#4a4a4c" stroke="#2a2a2c" stroke-width="1.2" /><circle cx="548.8" cy="2770" r="9.2" fill="#434345" stroke="#333335" stroke-width="1" /><circle cx="548.8" cy="2770" r="3.2" fill="#4a4a4c" stroke="#333335" stroke-width="1" /><circle cx="656" cy="2770" r="29.8" fill="url(#tireb)" stroke="#1e1e20" stroke-width="1.5" /><circle cx="656" cy="2770" r="30.1" fill="none" stroke="#111113" stroke-width="3.1" stroke-dasharray="4.3 4.3"/><circle cx="656" cy="2770" r="12.7" fill="#4a4a4c" stroke="#2a2a2c" stroke-width="1.2" /><circle cx="656" cy="2770" r="9.2" fill="#434345" stroke="#333335" stroke-width="1" /><circle cx="656" cy="2770" r="3.2" fill="#4a4a4c" stroke="#333335" stroke-width="1" /><circle cx="737.3" cy="2770" r="29.8" fill="url(#tireb)" stroke="#1e1e20" stroke-width="1.5" /><circle cx="737.3" cy="2770" r="30.1" fill="none" stroke="#111113" stroke-width="3.1" stroke-dasharray="4.3 4.3"/><circle cx="737.3" cy="2770" r="12.7" fill="#4a4a4c" stroke="#2a2a2c" stroke-width="1.2" /><circle cx="737.3" cy="2770" r="9.2" fill="#434345" stroke="#333335" stroke-width="1" /><circle cx="737.3" cy="2770" r="3.2" fill="#4a4a4c" stroke="#333335" stroke-width="1" /></g>
<g id="osina" transform="translate(0,352)"><polygon points="64,2727 905,2727 913,2754 897,2759 810,2777 81,2777 64,2760" fill="#232325" stroke="#1b1b1b" stroke-width="1" stroke-linejoin="round" /><path d="M22,2626 L925,2626 Q978,2626 978,2669 Q978,2712 925,2712 L22,2712 Z" fill="url(#dcan2)" stroke="#1b1b1b" stroke-width="1.5" stroke-linejoin="round" /><rect x="61" y="2623" width="6" height="58" rx="0" fill="#4a4a4c" stroke="#1b1b1b" stroke-width="1.2" /><rect x="161" y="2623" width="6" height="58" rx="0" fill="#4a4a4c" stroke="#1b1b1b" stroke-width="1.2" /><rect x="319" y="2623" width="6" height="58" rx="0" fill="#4a4a4c" stroke="#1b1b1b" stroke-width="1.2" /><rect x="433" y="2623" width="6" height="58" rx="0" fill="#4a4a4c" stroke="#1b1b1b" stroke-width="1.2" /><rect x="602" y="2623" width="6" height="58" rx="0" fill="#4a4a4c" stroke="#1b1b1b" stroke-width="1.2" /><rect x="649" y="2623" width="6" height="58" rx="0" fill="#4a4a4c" stroke="#1b1b1b" stroke-width="1.2" /><rect x="742" y="2623" width="6" height="58" rx="0" fill="#4a4a4c" stroke="#1b1b1b" stroke-width="1.2" /><rect x="872" y="2623" width="6" height="58" rx="0" fill="#4a4a4c" stroke="#1b1b1b" stroke-width="1.2" /><rect x="22" y="2626" width="8" height="86" rx="0" fill="#3a3a3c" stroke="#1b1b1b" stroke-width="1.2" /><path d="M223,2679 L223,2643 Q223,2638 228,2638 L312,2638 Q317,2638 317,2643 L317,2679" fill="none" stroke="#1b1b1b" stroke-width="1.5" stroke-linejoin="round" /><rect x="225.4" y="2661" width="18" height="13" rx="0" fill="#3c3c3e" stroke="#1b1b1b" stroke-width="1.2" /><rect x="296.5" y="2661" width="18" height="13" rx="0" fill="#3c3c3e" stroke="#1b1b1b" stroke-width="1.2" /><path d="M217,2680 L225,2671 M322,2680 L314,2671" fill="none" stroke="#1b1b1b" stroke-width="1.5" stroke-linejoin="round" /><rect x="65" y="2680" width="396" height="47.5" rx="0" fill="#414143" stroke="#1b1b1b" stroke-width="1.5" /><line x1="65" y1="2693.5" x2="461" y2="2693.5" stroke="#1b1b1b" stroke-width="1.2" /><line x1="116.5" y1="2680" x2="116.5" y2="2727.5" stroke="#1b1b1b" stroke-width="1.2" /><line x1="164.4" y1="2680" x2="164.4" y2="2727.5" stroke="#1b1b1b" stroke-width="1.2" /><line x1="217.2" y1="2680" x2="217.2" y2="2727.5" stroke="#1b1b1b" stroke-width="1.2" /><line x1="265.2" y1="2680" x2="265.2" y2="2727.5" stroke="#1b1b1b" stroke-width="1.2" /><line x1="317.6" y1="2680" x2="317.6" y2="2727.5" stroke="#1b1b1b" stroke-width="1.2" /><line x1="343.2" y1="2680" x2="343.2" y2="2727.5" stroke="#1b1b1b" stroke-width="1.2" /><line x1="398" y1="2680" x2="398" y2="2727.5" stroke="#1b1b1b" stroke-width="1.2" /><rect x="69" y="2695.5" width="21.5" height="28" rx="0" fill="none" stroke="#1b1b1b" stroke-width="1.2" /><rect x="92" y="2695.5" width="21.6" height="28" rx="0" fill="none" stroke="#1b1b1b" stroke-width="1.2" /><rect x="117.5" y="2695.5" width="21" height="28" rx="0" fill="none" stroke="#1b1b1b" stroke-width="1.2" /><rect x="140" y="2695.5" width="22" height="28" rx="0" fill="none" stroke="#1b1b1b" stroke-width="1.2" /><polygon points="452.6,2670.4 472.5,2693 461,2693" fill="none" stroke="#1b1b1b" stroke-width="1.2" stroke-linejoin="round" /><rect x="461" y="2681" width="138" height="47" rx="0" fill="#383839" stroke="#1b1b1b" stroke-width="1.2" /><rect x="470" y="2681" width="128" height="14.6" rx="0" fill="#414143" stroke="#1b1b1b" stroke-width="1.2" /><line x1="489" y1="2681" x2="489" y2="2695.6" stroke="#1b1b1b" stroke-width="1" /><line x1="513" y1="2681" x2="513" y2="2695.6" stroke="#1b1b1b" stroke-width="1" /><line x1="548" y1="2681" x2="548" y2="2695.6" stroke="#1b1b1b" stroke-width="1" /><line x1="573" y1="2681" x2="573" y2="2695.6" stroke="#1b1b1b" stroke-width="1" /><rect x="463" y="2694.3" width="68" height="21.2" rx="0" fill="#414143" stroke="#1b1b1b" stroke-width="1.3" /><line x1="504" y1="2695" x2="504" y2="2715" stroke="#1b1b1b" stroke-width="1.2" /><line x1="509" y1="2695" x2="509" y2="2715" stroke="#1b1b1b" stroke-width="1.2" /><line x1="513" y1="2695" x2="513" y2="2715" stroke="#1b1b1b" stroke-width="1.2" /><line x1="518" y1="2695" x2="518" y2="2715" stroke="#1b1b1b" stroke-width="1.2" /><line x1="523" y1="2695" x2="523" y2="2715" stroke="#1b1b1b" stroke-width="1.2" /><rect x="468.5" y="2715.5" width="57" height="6.5" rx="0" fill="#414143" stroke="#1b1b1b" stroke-width="1" /><rect x="539" y="2697" width="60" height="12" rx="0" fill="#3a3a3c" stroke="#1b1b1b" stroke-width="1" /><rect x="539" y="2709" width="60" height="13" rx="0" fill="#2a2a2c" stroke="#1b1b1b" stroke-width="1" /><rect x="461.8" y="2722" width="135" height="6.8" rx="0" fill="#414143" stroke="#1b1b1b" stroke-width="1.2" /><rect x="533.5" y="2671" width="6.5" height="51" rx="0" fill="#414143" stroke="#1b1b1b" stroke-width="1" /><rect x="530" y="2669" width="12" height="5" rx="0" fill="#414143" stroke="#1b1b1b" stroke-width="1" /><rect x="572" y="2650" width="3" height="25" rx="0" fill="#414143" stroke="#1b1b1b" stroke-width="1" /><rect x="568" y="2673" width="10" height="8" rx="0" fill="#414143" stroke="#1b1b1b" stroke-width="1" /><rect x="600" y="2686" width="18.4" height="93" rx="0" fill="#414143" stroke="#1b1b1b" stroke-width="1.2" /><line x1="604" y1="2687" x2="604" y2="2743" stroke="#1b1b1b" stroke-width="1" /><line x1="608.5" y1="2687" x2="608.5" y2="2743" stroke="#1b1b1b" stroke-width="1" /><line x1="613" y1="2687" x2="613" y2="2743" stroke="#1b1b1b" stroke-width="1" /><rect x="597" y="2740" width="24" height="36" rx="0" fill="#414143" stroke="#1b1b1b" stroke-width="1.2" /><rect x="619" y="2686" width="58.7" height="37.4" rx="0" fill="#414143" stroke="#1b1b1b" stroke-width="1.2" /><line x1="622" y1="2708" x2="675" y2="2708" stroke="#1b1b1b" stroke-width="1" /><rect x="683" y="2696.7" width="58.8" height="26.7" rx="0" fill="#414143" stroke="#1b1b1b" stroke-width="1.2" /><line x1="683" y1="2710" x2="741.8" y2="2710" stroke="#1b1b1b" stroke-width="1" /><rect x="742.5" y="2686" width="42" height="37.4" rx="0" fill="#414143" stroke="#1b1b1b" stroke-width="1.2" /><line x1="763" y1="2686" x2="763" y2="2723" stroke="#1b1b1b" stroke-width="1" /><rect x="619" y="2723.4" width="167.4" height="8.9" rx="0" fill="#414143" stroke="#1b1b1b" stroke-width="1.2" /><rect x="786.4" y="2698.4" width="41" height="50" rx="0" fill="#414143" stroke="#1b1b1b" stroke-width="1.2" /><line x1="787" y1="2703" x2="827" y2="2703" stroke="#1b1b1b" stroke-width="1" /><line x1="787" y1="2709" x2="827" y2="2709" stroke="#1b1b1b" stroke-width="1" /><line x1="787" y1="2715" x2="827" y2="2715" stroke="#1b1b1b" stroke-width="1" /><line x1="787" y1="2721" x2="827" y2="2721" stroke="#1b1b1b" stroke-width="1" /><line x1="787" y1="2727" x2="827" y2="2727" stroke="#1b1b1b" stroke-width="1" /><line x1="787" y1="2733" x2="827" y2="2733" stroke="#1b1b1b" stroke-width="1" /><line x1="787" y1="2739" x2="827" y2="2739" stroke="#1b1b1b" stroke-width="1" /><line x1="787" y1="2745" x2="827" y2="2745" stroke="#1b1b1b" stroke-width="1" /><rect x="781" y="2750" width="51.8" height="16.2" rx="0" fill="#414143" stroke="#1b1b1b" stroke-width="1.2" /><rect x="831" y="2657.4" width="44.5" height="25" rx="0" fill="#414143" stroke="#1b1b1b" stroke-width="1.2" /><line x1="838" y1="2658" x2="838" y2="2682" stroke="#1b1b1b" stroke-width="1" /><polygon points="832.8,2684.2 898.7,2684.2 900.5,2687.7 907.6,2719.8 907.6,2741 913,2753.7 897,2759 832.8,2757.3" fill="#464648" stroke="#1b1b1b" stroke-width="1.5" stroke-linejoin="round" /><rect x="856" y="2698" width="26" height="50" rx="0" fill="none" stroke="#1b1b1b" stroke-width="1.2" /><rect x="859.5" y="2702" width="19.5" height="12.5" rx="0" fill="#5c6068" stroke="#1b1b1b" stroke-width="1.2" /><rect x="886" y="2700" width="9" height="16" rx="0" fill="#5c6068" stroke="#1b1b1b" stroke-width="1.2" /><rect x="859" y="2723" width="4" height="3" rx="0" fill="none" stroke="#1b1b1b" stroke-width="0.8" /><rect x="861" y="2752" width="10" height="17" rx="0" fill="none" stroke="#1b1b1b" stroke-width="1" /><rect x="414" y="2727.5" width="26.6" height="14.5" rx="0" fill="#3a3a3c" stroke="#1b1b1b" stroke-width="1" /><path d="M415.4,2747.4 L428,2747.4 L428,2752 L434,2752 L434,2768 L428,2768 L428,2774 L415.4,2774 Z" fill="#333335" stroke="#1b1b1b" stroke-width="1" stroke-linejoin="round" /><circle cx="127.8" cy="2770" r="29.8" fill="url(#tireb)" stroke="#1e1e20" stroke-width="1.5" /><circle cx="127.8" cy="2770" r="30.1" fill="none" stroke="#111113" stroke-width="3.1" stroke-dasharray="4.3 4.3"/><circle cx="127.8" cy="2770" r="12.7" fill="#4a4a4c" stroke="#2a2a2c" stroke-width="1.2" /><circle cx="127.8" cy="2770" r="9.2" fill="#434345" stroke="#333335" stroke-width="1" /><circle cx="127.8" cy="2770" r="3.2" fill="#4a4a4c" stroke="#333335" stroke-width="1" /><circle cx="208.3" cy="2770" r="29.8" fill="url(#tireb)" stroke="#1e1e20" stroke-width="1.5" /><circle cx="208.3" cy="2770" r="30.1" fill="none" stroke="#111113" stroke-width="3.1" stroke-dasharray="4.3 4.3"/><circle cx="208.3" cy="2770" r="12.7" fill="#4a4a4c" stroke="#2a2a2c" stroke-width="1.2" /><circle cx="208.3" cy="2770" r="9.2" fill="#434345" stroke="#333335" stroke-width="1" /><circle cx="208.3" cy="2770" r="3.2" fill="#4a4a4c" stroke="#333335" stroke-width="1" /><circle cx="290.4" cy="2770" r="29.8" fill="url(#tireb)" stroke="#1e1e20" stroke-width="1.5" /><circle cx="290.4" cy="2770" r="30.1" fill="none" stroke="#111113" stroke-width="3.1" stroke-dasharray="4.3 4.3"/><circle cx="290.4" cy="2770" r="12.7" fill="#4a4a4c" stroke="#2a2a2c" stroke-width="1.2" /><circle cx="290.4" cy="2770" r="9.2" fill="#434345" stroke="#333335" stroke-width="1" /><circle cx="290.4" cy="2770" r="3.2" fill="#4a4a4c" stroke="#333335" stroke-width="1" /><circle cx="373.7" cy="2770" r="29.8" fill="url(#tireb)" stroke="#1e1e20" stroke-width="1.5" /><circle cx="373.7" cy="2770" r="30.1" fill="none" stroke="#111113" stroke-width="3.1" stroke-dasharray="4.3 4.3"/><circle cx="373.7" cy="2770" r="12.7" fill="#4a4a4c" stroke="#2a2a2c" stroke-width="1.2" /><circle cx="373.7" cy="2770" r="9.2" fill="#434345" stroke="#333335" stroke-width="1" /><circle cx="373.7" cy="2770" r="3.2" fill="#4a4a4c" stroke="#333335" stroke-width="1" /><circle cx="473.2" cy="2770" r="29.8" fill="url(#tireb)" stroke="#1e1e20" stroke-width="1.5" /><circle cx="473.2" cy="2770" r="30.1" fill="none" stroke="#111113" stroke-width="3.1" stroke-dasharray="4.3 4.3"/><circle cx="473.2" cy="2770" r="12.7" fill="#4a4a4c" stroke="#2a2a2c" stroke-width="1.2" /><circle cx="473.2" cy="2770" r="9.2" fill="#434345" stroke="#333335" stroke-width="1" /><circle cx="473.2" cy="2770" r="3.2" fill="#4a4a4c" stroke="#333335" stroke-width="1" /><circle cx="548.8" cy="2770" r="29.8" fill="url(#tireb)" stroke="#1e1e20" stroke-width="1.5" /><circle cx="548.8" cy="2770" r="30.1" fill="none" stroke="#111113" stroke-width="3.1" stroke-dasharray="4.3 4.3"/><circle cx="548.8" cy="2770" r="12.7" fill="#4a4a4c" stroke="#2a2a2c" stroke-width="1.2" /><circle cx="548.8" cy="2770" r="9.2" fill="#434345" stroke="#333335" stroke-width="1" /><circle cx="548.8" cy="2770" r="3.2" fill="#4a4a4c" stroke="#333335" stroke-width="1" /><circle cx="656" cy="2770" r="29.8" fill="url(#tireb)" stroke="#1e1e20" stroke-width="1.5" /><circle cx="656" cy="2770" r="30.1" fill="none" stroke="#111113" stroke-width="3.1" stroke-dasharray="4.3 4.3"/><circle cx="656" cy="2770" r="12.7" fill="#4a4a4c" stroke="#2a2a2c" stroke-width="1.2" /><circle cx="656" cy="2770" r="9.2" fill="#434345" stroke="#333335" stroke-width="1" /><circle cx="656" cy="2770" r="3.2" fill="#4a4a4c" stroke="#333335" stroke-width="1" /><circle cx="737.3" cy="2770" r="29.8" fill="url(#tireb)" stroke="#1e1e20" stroke-width="1.5" /><circle cx="737.3" cy="2770" r="30.1" fill="none" stroke="#111113" stroke-width="3.1" stroke-dasharray="4.3 4.3"/><circle cx="737.3" cy="2770" r="12.7" fill="#4a4a4c" stroke="#2a2a2c" stroke-width="1.2" /><circle cx="737.3" cy="2770" r="9.2" fill="#434345" stroke="#333335" stroke-width="1" /><circle cx="737.3" cy="2770" r="3.2" fill="#4a4a4c" stroke="#333335" stroke-width="1" /></g>
<g id="poseidon"><path d="M76,3334 L80,3311 L92,3312 L102,3334 Z" fill="url(#pos)" stroke="#1b1b1b" stroke-width="1.5" stroke-linejoin="round" /><path d="M76,3386 L80,3411 L92,3411 L102,3386 Z" fill="url(#pos)" stroke="#1b1b1b" stroke-width="1.5" stroke-linejoin="round" /><path d="M62,3338 L22,3342 L22,3380 L62,3383 Z" fill="url(#pos)" stroke="#1b1b1b" stroke-width="1.5" stroke-linejoin="round" /><path d="M62,3340 Q110,3330 157,3328 L700,3328 Q733,3328 733,3360 Q733,3392 700,3392 L157,3392 Q110,3390 62,3380 Z" fill="url(#pos)" stroke="#1b1b1b" stroke-width="1.8" stroke-linejoin="round" /><path d="M62,3343 L72,3343 L76,3337 L102,3335 M62,3377 L72,3377 L76,3383 L102,3385" fill="none" stroke="#1b1b1b" stroke-width="1.2" stroke-linejoin="round" /><path d="M76,3359 Q88,3355 100,3359 Q88,3363 76,3359 Z" fill="none" stroke="#1b1b1b" stroke-width="1.2" stroke-linejoin="round" /><rect x="164.4" y="3329" width="4" height="62" rx="0" fill="#d8692a" stroke="none" stroke-width="0" /><rect x="201.3" y="3329" width="4" height="62" rx="0" fill="#d8692a" stroke="none" stroke-width="0" /><rect x="287" y="3329" width="4" height="62" rx="0" fill="#d8692a" stroke="none" stroke-width="0" /><rect x="440.5" y="3329" width="4" height="62" rx="0" fill="#d8692a" stroke="none" stroke-width="0" /><rect x="492.7" y="3329" width="4" height="62" rx="0" fill="#d8692a" stroke="none" stroke-width="0" /><rect x="546.7" y="3329" width="4" height="62" rx="0" fill="#d8692a" stroke="none" stroke-width="0" /><rect x="611" y="3329" width="4" height="62" rx="0" fill="#d8692a" stroke="none" stroke-width="0" /><rect x="663.2" y="3329" width="4" height="62" rx="0" fill="#d8692a" stroke="none" stroke-width="0" /></g>
<g id="burevestnik"><path d="M104,3554 L116,3554 L139,3586 L104,3590 Z" fill="url(#drl)" stroke="#1b1b1b" stroke-width="1.5" stroke-linejoin="round" /><path d="M104,3622 L146,3622 L120,3678 L104,3678 Z" fill="url(#drl)" stroke="#1b1b1b" stroke-width="1.5" stroke-linejoin="round" /><path d="M30,3586 L505,3586 L505,3630 L30,3630 Q21,3630 21,3621 L21,3595 Q21,3586 30,3586 Z" fill="url(#mis)" stroke="#1b1b1b" stroke-width="1.8" stroke-linejoin="round" /><path d="M505,3586 Q560,3590 586,3608 Q560,3626 505,3630 Z" fill="url(#nose)" stroke="#1b1b1b" stroke-width="1.5" stroke-linejoin="round" /><line x1="243" y1="3586" x2="243" y2="3630" stroke="#1b1b1b" stroke-width="1.2" /><line x1="346" y1="3586" x2="346" y2="3630" stroke="#1b1b1b" stroke-width="1.2" /><path d="M93,3608 Q100,3604 110,3604 L470,3604 Q480,3606 480,3613 Q480,3620 470,3622 L110,3622 Q100,3622 93,3616 Z" fill="url(#mis)" stroke="#1b1b1b" stroke-width="1.5" stroke-linejoin="round" /><path d="M458,3613 Q465,3606 472,3608 Q478,3613 472,3618 Q465,3620 458,3613 Z" fill="#111" stroke="#1b1b1b" stroke-width="1" stroke-linejoin="round" /><rect x="82" y="3609" width="12" height="7" rx="0" fill="#111" stroke="#1b1b1b" stroke-width="1" /><path d="M220,3630 L225,3626 L340,3626 L345,3630 Z" fill="none" stroke="#1b1b1b" stroke-width="1.2" stroke-linejoin="round" /></g>
<g id="gerbera"><polygon points="1141,2128.5 1126,2174 1090.4,2204.4 1090.4,2238 1214.3,2238 1214.3,2204.4 1179.5,2174 1163.3,2128.5" fill="url(#drl)" stroke="#1b1b1b" stroke-width="1.5" stroke-linejoin="round" /><path d="M1141,2238 L1141,2108 Q1141,2095 1152,2095 Q1163.3,2095 1163.3,2108 L1163.3,2238 Z" fill="url(#drl)" stroke="#1b1b1b" stroke-width="1.5" stroke-linejoin="round" /><path d="M1144,2135 L1144,2110 Q1144,2100 1152,2100 Q1160,2100 1160,2110 L1160,2135" fill="none" stroke="#1b1b1b" stroke-width="1.2" stroke-linejoin="round" /><line x1="1141" y1="2128" x2="1163.3" y2="2128" stroke="#1b1b1b" stroke-width="1.2" /><line x1="1141" y1="2185" x2="1163.3" y2="2185" stroke="#1b1b1b" stroke-width="1.2" /><rect x="1149" y="2188" width="6" height="45" rx="0" fill="none" stroke="#1b1b1b" stroke-width="1" /><path d="M1101,2238 L1101,2229 L1141,2229 M1163,2229 L1203,2229 L1203,2238" fill="none" stroke="#1b1b1b" stroke-width="1.2" stroke-linejoin="round" /><rect x="1107.5" y="2225" width="3" height="8" rx="0" fill="#222" stroke="none" stroke-width="0" /><rect x="1128.5" y="2225" width="3" height="8" rx="0" fill="#222" stroke="none" stroke-width="0" /><rect x="1172.5" y="2225" width="3" height="8" rx="0" fill="#222" stroke="none" stroke-width="0" /><rect x="1193.5" y="2225" width="3" height="8" rx="0" fill="#222" stroke="none" stroke-width="0" /><rect x="1141" y="2230" width="23" height="7" rx="0" fill="#555" stroke="#1b1b1b" stroke-width="1" /><rect x="1140" y="2238" width="26" height="4" rx="0" fill="#333" stroke="none" stroke-width="0" /></g>
<g id="geran1"><polygon points="1296,2123.5 1241.7,2209.4 1241.7,2239 1366,2239 1366,2209.4 1313.3,2123.5" fill="url(#drl)" stroke="#1b1b1b" stroke-width="1.5" stroke-linejoin="round" /><path d="M1296,2229 L1296,2103 Q1296,2088.7 1304.6,2088.7 Q1313.3,2088.7 1313.3,2103 L1313.3,2229 Z" fill="url(#drl)" stroke="#1b1b1b" stroke-width="1.5" stroke-linejoin="round" /><line x1="1296" y1="2117" x2="1313.3" y2="2117" stroke="#1b1b1b" stroke-width="1.2" /><ellipse cx="1304.6" cy="2140" rx="5" ry="9" fill="none" stroke="#1b1b1b" stroke-width="1.2"/><ellipse cx="1304.6" cy="2185" rx="5" ry="10" fill="none" stroke="#1b1b1b" stroke-width="1.2"/><ellipse cx="1304.6" cy="2210" rx="5" ry="10" fill="none" stroke="#1b1b1b" stroke-width="1.2"/><ellipse cx="1279" cy="2193" rx="5" ry="9" fill="none" stroke="#1b1b1b" stroke-width="1.2"/><ellipse cx="1331" cy="2193" rx="5" ry="9" fill="none" stroke="#1b1b1b" stroke-width="1.2"/><ellipse cx="1255" cy="2215" rx="8" ry="5.5" fill="none" stroke="#1b1b1b" stroke-width="1.2"/><ellipse cx="1283" cy="2215" rx="8" ry="5.5" fill="none" stroke="#1b1b1b" stroke-width="1.2"/><ellipse cx="1326" cy="2215" rx="8" ry="5.5" fill="none" stroke="#1b1b1b" stroke-width="1.2"/><ellipse cx="1354" cy="2215" rx="8" ry="5.5" fill="none" stroke="#1b1b1b" stroke-width="1.2"/><polygon points="1282,2160 1288,2146 1288,2160" fill="none" stroke="#1b1b1b" stroke-width="1.2" stroke-linejoin="round" /><polygon points="1327,2160 1321,2146 1321,2160" fill="none" stroke="#1b1b1b" stroke-width="1.2" stroke-linejoin="round" /><polygon points="1262,2190 1268,2176 1268,2190" fill="none" stroke="#1b1b1b" stroke-width="1.2" stroke-linejoin="round" /><polygon points="1347,2190 1341,2176 1341,2190" fill="none" stroke="#1b1b1b" stroke-width="1.2" stroke-linejoin="round" /><line x1="1243" y1="2230" x2="1364" y2="2230" stroke="#1b1b1b" stroke-width="1.2" /><rect x="1296" y="2229" width="17" height="7" rx="0" fill="#555" stroke="#1b1b1b" stroke-width="1" /><rect x="1293" y="2237" width="23" height="4" rx="0" fill="#333" stroke="none" stroke-width="0" /></g>
<g id="geran2"><polygon points="1442.5,2088.4 1377.5,2194.3 1377.5,2230.5 1529.5,2230.5 1529.5,2194.3 1464.5,2088.4" fill="#9b9da0" stroke="#1b1b1b" stroke-width="1.5" stroke-linejoin="round" /><path d="M1442.5,2216 L1442.5,2042 Q1442.5,2025 1453.5,2025 Q1464.5,2025 1464.5,2042 L1464.5,2216 Z" fill="#b3b5b8" stroke="#1b1b1b" stroke-width="1.5" stroke-linejoin="round" /><line x1="1442.5" y1="2060" x2="1464.5" y2="2060" stroke="#1b1b1b" stroke-width="1.2" /><line x1="1442.5" y1="2082" x2="1464.5" y2="2082" stroke="#1b1b1b" stroke-width="1.2" /><ellipse cx="1453.5" cy="2095" rx="6.5" ry="8" fill="none" stroke="#1b1b1b" stroke-width="1.2"/><ellipse cx="1453.5" cy="2121" rx="6.5" ry="10" fill="none" stroke="#1b1b1b" stroke-width="1.2"/><ellipse cx="1453.5" cy="2163" rx="6.5" ry="11" fill="none" stroke="#1b1b1b" stroke-width="1.2"/><ellipse cx="1453.5" cy="2195" rx="6.5" ry="10" fill="none" stroke="#1b1b1b" stroke-width="1.2"/><line x1="1407.5" y1="2150" x2="1407.5" y2="2230" stroke="#1b1b1b" stroke-width="1.2" /><rect x="1406" y="2116" width="3" height="20" rx="0" fill="#222" stroke="none" stroke-width="0" /><ellipse cx="1393.5" cy="2200" rx="9" ry="7" fill="none" stroke="#1b1b1b" stroke-width="1.2"/><ellipse cx="1426.5" cy="2200" rx="10" ry="7" fill="none" stroke="#1b1b1b" stroke-width="1.2"/><ellipse cx="1420.5" cy="2173" rx="6" ry="11" fill="none" stroke="#1b1b1b" stroke-width="1.2"/><polygon points="1425.5,2148 1416.5,2131 1416.5,2148" fill="none" stroke="#1b1b1b" stroke-width="1.2" stroke-linejoin="round" /><polygon points="1400.5,2185 1391.5,2168 1391.5,2185" fill="none" stroke="#1b1b1b" stroke-width="1.2" stroke-linejoin="round" /><rect x="1374.5" y="2205" width="4" height="28" rx="0" fill="#777" stroke="#1b1b1b" stroke-width="1" /><line x1="1499.5" y1="2150" x2="1499.5" y2="2230" stroke="#1b1b1b" stroke-width="1.2" /><rect x="1498" y="2116" width="3" height="20" rx="0" fill="#222" stroke="none" stroke-width="0" /><ellipse cx="1513.5" cy="2200" rx="9" ry="7" fill="none" stroke="#1b1b1b" stroke-width="1.2"/><ellipse cx="1480.5" cy="2200" rx="10" ry="7" fill="none" stroke="#1b1b1b" stroke-width="1.2"/><ellipse cx="1486.5" cy="2173" rx="6" ry="11" fill="none" stroke="#1b1b1b" stroke-width="1.2"/><polygon points="1481.5,2148 1490.5,2131 1490.5,2148" fill="none" stroke="#1b1b1b" stroke-width="1.2" stroke-linejoin="round" /><polygon points="1506.5,2185 1515.5,2168 1515.5,2185" fill="none" stroke="#1b1b1b" stroke-width="1.2" stroke-linejoin="round" /><rect x="1528.5" y="2205" width="4" height="28" rx="0" fill="#777" stroke="#1b1b1b" stroke-width="1" /><line x1="1377.5" y1="2218" x2="1529.5" y2="2218" stroke="#1b1b1b" stroke-width="1.2" /><rect x="1438.5" y="2214" width="30" height="20" rx="0" fill="#fff" stroke="#1b1b1b" stroke-width="1" /><rect x="1440.5" y="2215" width="26" height="18" rx="0" fill="#2a2a2a" stroke="#1b1b1b" stroke-width="1" /><rect x="1449.5" y="2217" width="8" height="16" rx="0" fill="#bbb" stroke="#1b1b1b" stroke-width="1" /><rect x="1451.5" y="2233" width="4" height="6" rx="0" fill="#333" stroke="none" stroke-width="0" /><path d="M1439.5,2242 Q1453.5,2236 1467.5,2242 Z" fill="#333" stroke="#1b1b1b" stroke-width="1" stroke-linejoin="round" /></g>
<g id="geran3"><path d="M1613.8,2064 Q1603.8,2150 1550.8,2194.3 L1550.8,2230.5 L1698.8,2230.5 L1698.8,2194.3 Q1645.8,2150 1635.8,2064 Z" fill="#5f6164" stroke="#1b1b1b" stroke-width="1.5" stroke-linejoin="round" /><path d="M1613.8,2216 L1613.8,2042 Q1613.8,2025 1624.8,2025 Q1635.8,2025 1635.8,2042 L1635.8,2216 Z" fill="#6d6f72" stroke="#1b1b1b" stroke-width="1.5" stroke-linejoin="round" /><line x1="1613.8" y1="2060" x2="1635.8" y2="2060" stroke="#1b1b1b" stroke-width="1.2" /><line x1="1613.8" y1="2082" x2="1635.8" y2="2082" stroke="#1b1b1b" stroke-width="1.2" /><ellipse cx="1624.8" cy="2095" rx="6.5" ry="8" fill="none" stroke="#1b1b1b" stroke-width="1.2"/><ellipse cx="1624.8" cy="2121" rx="6.5" ry="10" fill="none" stroke="#1b1b1b" stroke-width="1.2"/><ellipse cx="1624.8" cy="2163" rx="6.5" ry="11" fill="none" stroke="#1b1b1b" stroke-width="1.2"/><ellipse cx="1624.8" cy="2195" rx="6.5" ry="10" fill="none" stroke="#1b1b1b" stroke-width="1.2"/><line x1="1578.8" y1="2150" x2="1578.8" y2="2230" stroke="#1b1b1b" stroke-width="1.2" /><rect x="1577.3" y="2116" width="3" height="20" rx="0" fill="#222" stroke="none" stroke-width="0" /><ellipse cx="1564.8" cy="2200" rx="9" ry="7" fill="none" stroke="#1b1b1b" stroke-width="1.2"/><ellipse cx="1597.8" cy="2200" rx="10" ry="7" fill="none" stroke="#1b1b1b" stroke-width="1.2"/><ellipse cx="1591.8" cy="2173" rx="6" ry="11" fill="none" stroke="#1b1b1b" stroke-width="1.2"/><polygon points="1596.8,2148 1587.8,2131 1587.8,2148" fill="none" stroke="#1b1b1b" stroke-width="1.2" stroke-linejoin="round" /><polygon points="1571.8,2185 1562.8,2168 1562.8,2185" fill="none" stroke="#1b1b1b" stroke-width="1.2" stroke-linejoin="round" /><rect x="1547.8" y="2205" width="4" height="28" rx="0" fill="#777" stroke="#1b1b1b" stroke-width="1" /><line x1="1670.8" y1="2150" x2="1670.8" y2="2230" stroke="#1b1b1b" stroke-width="1.2" /><rect x="1669.3" y="2116" width="3" height="20" rx="0" fill="#222" stroke="none" stroke-width="0" /><ellipse cx="1684.8" cy="2200" rx="9" ry="7" fill="none" stroke="#1b1b1b" stroke-width="1.2"/><ellipse cx="1651.8" cy="2200" rx="10" ry="7" fill="none" stroke="#1b1b1b" stroke-width="1.2"/><ellipse cx="1657.8" cy="2173" rx="6" ry="11" fill="none" stroke="#1b1b1b" stroke-width="1.2"/><polygon points="1652.8,2148 1661.8,2131 1661.8,2148" fill="none" stroke="#1b1b1b" stroke-width="1.2" stroke-linejoin="round" /><polygon points="1677.8,2185 1686.8,2168 1686.8,2185" fill="none" stroke="#1b1b1b" stroke-width="1.2" stroke-linejoin="round" /><rect x="1697.8" y="2205" width="4" height="28" rx="0" fill="#777" stroke="#1b1b1b" stroke-width="1" /><line x1="1550.8" y1="2218" x2="1698.8" y2="2218" stroke="#1b1b1b" stroke-width="1.2" /><rect x="1609.8" y="2214" width="30" height="20" rx="0" fill="#fff" stroke="#1b1b1b" stroke-width="1" /><rect x="1611.8" y="2215" width="26" height="18" rx="0" fill="#2a2a2a" stroke="#1b1b1b" stroke-width="1" /><rect x="1620.8" y="2217" width="8" height="16" rx="0" fill="#bbb" stroke="#1b1b1b" stroke-width="1" /><rect x="1622.8" y="2233" width="4" height="6" rx="0" fill="#333" stroke="none" stroke-width="0" /><path d="M1610.8,2242 Q1624.8,2236 1638.8,2242 Z" fill="#333" stroke="#1b1b1b" stroke-width="1" stroke-linejoin="round" /></g>
<g id="ametist"><polygon points="1662,2462 1672,2451 1704,2451 1700,2462" fill="url(#mis)" stroke="#1b1b1b" stroke-width="1.2" stroke-linejoin="round" /><polygon points="1662,2486 1690,2499 1707,2499 1700,2486" fill="url(#mis)" stroke="#1b1b1b" stroke-width="1.2" stroke-linejoin="round" /><rect x="1444" y="2455.5" width="262" height="28.5" rx="0" fill="url(#mis)" stroke="#1b1b1b" stroke-width="1.5" /><path d="M1444,2455.5 L1426,2455.5 Q1400,2457 1387,2469 Q1400,2481 1426,2484 L1444,2484 Z" fill="url(#dnose)" stroke="#1b1b1b" stroke-width="1.5" stroke-linejoin="round" /><line x1="1426" y1="2455.5" x2="1426" y2="2484" stroke="#1b1b1b" stroke-width="1.2" /><rect x="1470" y="2483" width="124" height="5.5" rx="2.5" fill="url(#mis)" stroke="#1b1b1b" stroke-width="1.2" /><line x1="1474" y1="2456" x2="1474" y2="2484" stroke="#1b1b1b" stroke-width="1.2" /><line x1="1516" y1="2456" x2="1516" y2="2484" stroke="#1b1b1b" stroke-width="1.2" /><line x1="1560" y1="2456" x2="1560" y2="2484" stroke="#1b1b1b" stroke-width="1.2" /><line x1="1582" y1="2456" x2="1582" y2="2484" stroke="#1b1b1b" stroke-width="1.2" /><line x1="1610" y1="2456" x2="1610" y2="2484" stroke="#1b1b1b" stroke-width="1.2" /><rect x="1485" y="2464" width="9" height="7" rx="0" fill="none" stroke="#1b1b1b" stroke-width="1.2" /><rect x="1535" y="2466" width="60" height="4" rx="0" fill="none" stroke="#1b1b1b" stroke-width="1" /><rect x="1622" y="2462" width="78" height="11" rx="5" fill="url(#mis)" stroke="#1b1b1b" stroke-width="1.2" /><rect x="1622" y="2474" width="78" height="11" rx="5" fill="url(#mis)" stroke="#1b1b1b" stroke-width="1.2" /><circle cx="1451" cy="2465" r="2.5" fill="none" stroke="#1b1b1b" stroke-width="1" /></g>
<g id="bazalt" transform="translate(0,0)"><polygon points="1608,2628 1652,2660 1682,2660 1670,2625" fill="url(#mis)" stroke="#1b1b1b" stroke-width="1.2" stroke-linejoin="round" /><polygon points="1633,2585.5 1636,2578.6 1664,2578.6 1660,2585.5" fill="url(#mis)" stroke="#1b1b1b" stroke-width="1.2" stroke-linejoin="round" /><path d="M1413,2625 L1443,2646 Q1560,2638 1670,2625 Z" fill="url(#mis)" stroke="#1b1b1b" stroke-width="1.5" stroke-linejoin="round" /><path d="M1255,2583.2 L1673,2583.2 L1703,2589 L1703,2619 L1673,2625 L1255,2625 Z" fill="url(#mis)" stroke="#1b1b1b" stroke-width="1.5" stroke-linejoin="round" /><path d="M1255,2583.2 Q1200,2590 1170,2605 Q1200,2618 1255,2625 Z" fill="url(#dnose)" stroke="#1b1b1b" stroke-width="1.5" stroke-linejoin="round" /><line x1="1258" y1="2583.5" x2="1258" y2="2624.5" stroke="#1b1b1b" stroke-width="2" /><line x1="1393" y1="2583.5" x2="1393" y2="2624.5" stroke="#1b1b1b" stroke-width="1.5" /><line x1="1413" y1="2583.5" x2="1413" y2="2624.5" stroke="#1b1b1b" stroke-width="1.2" /><line x1="1673" y1="2585.5" x2="1673" y2="2622" stroke="#1b1b1b" stroke-width="1.2" /><path d="M1415,2593 Q1430,2583 1450,2585 L1550,2591 L1450,2593 Z" fill="none" stroke="#1b1b1b" stroke-width="1.2" stroke-linejoin="round" /><rect x="1278" y="2602" width="24" height="3" rx="0" fill="#333" stroke="none" stroke-width="0" /><rect x="1704" y="2602" width="6" height="3" rx="0" fill="#333" stroke="none" stroke-width="0" /></g>
<g id="vulkan" transform="translate(0,143)"><polygon points="1608,2628 1652,2660 1682,2660 1670,2625" fill="url(#mis)" stroke="#1b1b1b" stroke-width="1.2" stroke-linejoin="round" /><polygon points="1633,2585.5 1636,2578.6 1664,2578.6 1660,2585.5" fill="url(#mis)" stroke="#1b1b1b" stroke-width="1.2" stroke-linejoin="round" /><path d="M1413,2625 L1443,2646 Q1560,2638 1670,2625 Z" fill="url(#mis)" stroke="#1b1b1b" stroke-width="1.5" stroke-linejoin="round" /><path d="M1255,2583.2 L1673,2583.2 L1703,2589 L1703,2619 L1673,2625 L1255,2625 Z" fill="url(#mis)" stroke="#1b1b1b" stroke-width="1.5" stroke-linejoin="round" /><path d="M1255,2583.2 Q1200,2590 1170,2605 Q1200,2618 1255,2625 Z" fill="url(#dnose)" stroke="#1b1b1b" stroke-width="1.5" stroke-linejoin="round" /><line x1="1258" y1="2583.5" x2="1258" y2="2624.5" stroke="#1b1b1b" stroke-width="2" /><line x1="1393" y1="2583.5" x2="1393" y2="2624.5" stroke="#1b1b1b" stroke-width="1.5" /><line x1="1413" y1="2583.5" x2="1413" y2="2624.5" stroke="#1b1b1b" stroke-width="1.2" /><line x1="1673" y1="2585.5" x2="1673" y2="2622" stroke="#1b1b1b" stroke-width="1.2" /><path d="M1415,2593 Q1430,2583 1450,2585 L1550,2591 L1450,2593 Z" fill="none" stroke="#1b1b1b" stroke-width="1.2" stroke-linejoin="round" /><rect x="1278" y="2602" width="24" height="3" rx="0" fill="#333" stroke="none" stroke-width="0" /><rect x="1704" y="2602" width="6" height="3" rx="0" fill="#333" stroke="none" stroke-width="0" /></g>
<g id="granat"><polygon points="1618,2897 1625,2885 1635,2885 1635,2897" fill="url(#mis)" stroke="#1b1b1b" stroke-width="1.2" stroke-linejoin="round" /><polygon points="1618,2923 1625,2933 1635,2933 1635,2923" fill="url(#mis)" stroke="#1b1b1b" stroke-width="1.2" stroke-linejoin="round" /><path d="M1309,2897.4 L1649,2897.4 L1649,2923 L1309,2923 Z" fill="url(#mis)" stroke="#1b1b1b" stroke-width="1.5" stroke-linejoin="round" /><path d="M1309,2897.4 Q1292,2897.4 1292,2910 Q1292,2923 1309,2923 Z" fill="url(#dnose)" stroke="#1b1b1b" stroke-width="1.5" stroke-linejoin="round" /><rect x="1635" y="2902" width="14" height="16" rx="0" fill="url(#mis)" stroke="#1b1b1b" stroke-width="1.2" /><rect x="1649" y="2897.4" width="50" height="25.6" rx="0" fill="url(#mis)" stroke="#1b1b1b" stroke-width="1.5" /><rect x="1685" y="2903" width="10" height="13" rx="0" fill="#7ab0d8" stroke="#1b1b1b" stroke-width="1" /><rect x="1697" y="2882" width="7" height="56" rx="0" fill="url(#mis)" stroke="#1b1b1b" stroke-width="1.2" /><line x1="1368" y1="2898" x2="1368" y2="2922" stroke="#1b1b1b" stroke-width="1.2" /><line x1="1415" y1="2898" x2="1415" y2="2922" stroke="#1b1b1b" stroke-width="1.2" /><line x1="1448" y1="2898" x2="1448" y2="2922" stroke="#1b1b1b" stroke-width="1.2" /><line x1="1556" y1="2898" x2="1556" y2="2922" stroke="#1b1b1b" stroke-width="1.2" /><line x1="1610" y1="2898" x2="1610" y2="2922" stroke="#1b1b1b" stroke-width="1.2" /><rect x="1448" y="2897.4" width="4" height="25.6" rx="0" fill="#333" stroke="none" stroke-width="0" /><polygon points="1458,2904 1480,2904 1476,2912 1462,2912" fill="none" stroke="#1b1b1b" stroke-width="1.2" stroke-linejoin="round" /><line x1="1480" y1="2905" x2="1552" y2="2905" stroke="#1b1b1b" stroke-width="1.5" /></g>
<g id="granit"><polygon points="1630,3033 1660,3012 1680,3010 1680,3033" fill="url(#mis)" stroke="#1b1b1b" stroke-width="1.2" stroke-linejoin="round" /><polygon points="1630,3074 1686,3102 1690,3090 1690,3074" fill="url(#mis)" stroke="#1b1b1b" stroke-width="1.2" stroke-linejoin="round" /><path d="M1297,3038 Q1330,3032 1360,3032 L1700,3036 L1709,3042 L1709,3066 L1700,3072 L1360,3075 Q1330,3075 1297,3070 Z" fill="url(#mis)" stroke="#1b1b1b" stroke-width="1.5" stroke-linejoin="round" /><rect x="1283" y="3040" width="14" height="30" rx="0" fill="#888" stroke="#1b1b1b" stroke-width="1.2" /><polygon points="1283,3040 1256.7,3055 1283,3070" fill="url(#mis)" stroke="#1b1b1b" stroke-width="1.2" stroke-linejoin="round" /><line x1="1358" y1="3033" x2="1358" y2="3075" stroke="#1b1b1b" stroke-width="1.2" /><line x1="1441" y1="3033" x2="1441" y2="3075" stroke="#1b1b1b" stroke-width="1.2" /><rect x="1393" y="3043" width="38" height="3" rx="0" fill="#333" stroke="none" stroke-width="0" /><rect x="1393" y="3065" width="38" height="3" rx="0" fill="#333" stroke="none" stroke-width="0" /><path d="M1490,3054 Q1560,3048 1630,3054 Q1560,3058 1490,3054 Z" fill="none" stroke="#1b1b1b" stroke-width="1.2" stroke-linejoin="round" /></g>
<g id="meteorit"><polygon points="1615,3215 1660,3240 1697,3240 1695,3210" fill="url(#mis)" stroke="#1b1b1b" stroke-width="1.2" stroke-linejoin="round" /><path d="M1357,3200 L1400,3223 Q1550,3215 1700,3205 L1700,3195 Z" fill="url(#mis)" stroke="#1b1b1b" stroke-width="1.5" stroke-linejoin="round" /><path d="M1141.6,3180 Q1200,3166 1289,3162 L1708.8,3160 L1708.8,3202.6 L1289,3202.6 Q1200,3193 1141.6,3180 Z" fill="url(#mis)" stroke="#1b1b1b" stroke-width="1.5" stroke-linejoin="round" /><line x1="1289" y1="3162" x2="1289" y2="3202.6" stroke="#1b1b1b" stroke-width="1.2" /><line x1="1695" y1="3160" x2="1695" y2="3202.6" stroke="#1b1b1b" stroke-width="1.2" /><path d="M1215,3180 Q1230,3177 1255,3180 Q1230,3183 1215,3180 Z" fill="#333" stroke="#1b1b1b" stroke-width="1" stroke-linejoin="round" /><path d="M1400,3196 Q1500,3186 1690,3188" fill="none" stroke="#1b1b1b" stroke-width="1.2" stroke-linejoin="round" /></g>
<g id="oniks"><polygon points="1536,3331 1590,3316 1594,3316 1594,3331" fill="#d3d6d9" stroke="#1b1b1b" stroke-width="1.2" stroke-linejoin="round" /><polygon points="1536,3360 1590,3376 1594,3376 1594,3360" fill="#d3d6d9" stroke="#1b1b1b" stroke-width="1.2" stroke-linejoin="round" /><polygon points="1612,3333 1616,3324 1628,3324 1632,3333" fill="#d3d6d9" stroke="#1b1b1b" stroke-width="1.2" stroke-linejoin="round" /><polygon points="1612,3359 1616,3367 1628,3367 1632,3359" fill="#d3d6d9" stroke="#1b1b1b" stroke-width="1.2" stroke-linejoin="round" /><path d="M1390,3330.5 L1598,3330.5 L1598,3360.5 L1390,3360.5 Q1368,3359 1361,3352 L1361,3339 Q1368,3332 1390,3330.5 Z" fill="url(#mis)" stroke="#1b1b1b" stroke-width="1.5" stroke-linejoin="round" /><polygon points="1344,3345.5 1361,3339 1361,3352" fill="#444" stroke="#1b1b1b" stroke-width="1" stroke-linejoin="round" /><rect x="1598" y="3332.4" width="42" height="26.6" rx="0" fill="url(#mis)" stroke="#1b1b1b" stroke-width="1.5" /><rect x="1640" y="3331.5" width="70" height="28" rx="0" fill="url(#mis)" stroke="#1b1b1b" stroke-width="1.5" /><line x1="1690" y1="3332" x2="1690" y2="3359" stroke="#1b1b1b" stroke-width="1.2" /><line x1="1697" y1="3332" x2="1697" y2="3359" stroke="#1b1b1b" stroke-width="1.2" /><line x1="1690" y1="3345" x2="1710" y2="3345" stroke="#1b1b1b" stroke-width="1" /><path d="M1388,3345.5 Q1440,3342 1490,3345.5 Q1440,3349 1388,3345.5 Z" fill="#555" stroke="#1b1b1b" stroke-width="1" stroke-linejoin="round" /><path d="M1512,3345.5 Q1518,3343.5 1524,3345.5 Q1518,3347.5 1512,3345.5 Z" fill="#555" stroke="#1b1b1b" stroke-width="1" stroke-linejoin="round" /><path d="M1535,3345.5 Q1560,3343 1592,3345.5 Q1560,3348 1535,3345.5 Z" fill="#555" stroke="#1b1b1b" stroke-width="1" stroke-linejoin="round" /><path d="M1612,3345.5 Q1620,3343.5 1628,3345.5 Q1620,3347.5 1612,3345.5 Z" fill="#555" stroke="#1b1b1b" stroke-width="1" stroke-linejoin="round" /></g>
<g id="tsirkon"><polygon points="1697.5,3472 1707,3451.4 1710.5,3451.4 1710.5,3530.8 1707,3530.8 1697.5,3508" fill="#d3d6d9" stroke="#1b1b1b" stroke-width="1.2" stroke-linejoin="round" /><polygon points="1544,3508 1550,3519.5 1580,3519.5 1578,3508" fill="#d3d6d9" stroke="#1b1b1b" stroke-width="1.2" stroke-linejoin="round" /><path d="M1275.3,3485 Q1290,3483 1320,3480 Q1360,3474 1393.5,3472.4 L1575,3472.4 L1575,3479.3 L1600,3479.3 L1605,3472.4 L1697.5,3472.4 L1697.5,3508 L1452.6,3508 Q1350,3495 1275.3,3487 Z" fill="url(#mis)" stroke="#1b1b1b" stroke-width="1.5" stroke-linejoin="round" /><line x1="1452.6" y1="3472.4" x2="1452.6" y2="3508" stroke="#1b1b1b" stroke-width="1.2" /><line x1="1504" y1="3472.4" x2="1504" y2="3483" stroke="#1b1b1b" stroke-width="1.2" /><line x1="1393.5" y1="3473" x2="1405" y2="3481" stroke="#1b1b1b" stroke-width="1.2" /><path d="M1320,3481 L1405,3481 Q1480,3485 1575,3497" fill="none" stroke="#1b1b1b" stroke-width="1.2" stroke-linejoin="round" /><line x1="1575" y1="3479.3" x2="1575" y2="3508" stroke="#1b1b1b" stroke-width="1.2" /><path d="M1575,3505 L1615,3498 L1615,3485" fill="none" stroke="#1b1b1b" stroke-width="1.2" stroke-linejoin="round" /><rect x="1621" y="3485" width="10" height="16" rx="3" fill="none" stroke="#1b1b1b" stroke-width="1.2" /><line x1="1697.5" y1="3490" x2="1710" y2="3490" stroke="#1b1b1b" stroke-width="1" /></g>
<g id="yakhont"><polygon points="1506,3633 1561,3618 1582,3618 1594,3636 1594,3658 1582,3676 1561,3676 1506,3661" fill="#d3d6d9" stroke="#1b1b1b" stroke-width="1.2" stroke-linejoin="round" /><polygon points="1613,3635 1622,3626 1636,3626 1641,3635 1641,3659 1636,3668 1622,3668 1613,3659" fill="#d3d6d9" stroke="#1b1b1b" stroke-width="1.2" stroke-linejoin="round" /><path d="M1393,3632.3 L1506,3632.3 L1506,3661.4 L1393,3661.4 Q1372,3660 1362.3,3655 L1343.6,3647 L1362.3,3638.8 Q1372,3634 1393,3632.3 Z" fill="url(#mis)" stroke="#1b1b1b" stroke-width="1.5" stroke-linejoin="round" /><rect x="1506" y="3632.3" width="92" height="29" rx="0" fill="url(#mis)" stroke="#1b1b1b" stroke-width="1.5" /><rect x="1598" y="3635.6" width="43" height="22.6" rx="0" fill="url(#mis)" stroke="#1b1b1b" stroke-width="1.5" /><path d="M1641,3632.3 L1705,3632.3 L1710,3638 L1710,3656 L1705,3661.4 L1641,3661.4 Z" fill="url(#mis)" stroke="#1b1b1b" stroke-width="1.5" stroke-linejoin="round" /><line x1="1362.3" y1="3639" x2="1362.3" y2="3655" stroke="#1b1b1b" stroke-width="1.2" /><line x1="1395" y1="3633" x2="1395" y2="3661" stroke="#1b1b1b" stroke-width="1.2" /><line x1="1413" y1="3633" x2="1413" y2="3661" stroke="#1b1b1b" stroke-width="1.2" /><line x1="1545" y1="3633" x2="1545" y2="3661" stroke="#1b1b1b" stroke-width="1.2" /><line x1="1576" y1="3618" x2="1581" y2="3676" stroke="#1b1b1b" stroke-width="1" /><line x1="1561" y1="3618" x2="1545" y2="3633" stroke="#1b1b1b" stroke-width="1" /><line x1="1561" y1="3676" x2="1545" y2="3661" stroke="#1b1b1b" stroke-width="1" /><line x1="1687" y1="3633" x2="1687" y2="3661" stroke="#1b1b1b" stroke-width="1.2" /><rect x="1428" y="3635" width="78" height="2.5" rx="0" fill="#555" stroke="none" stroke-width="0" /><rect x="1428" y="3656" width="78" height="2.5" rx="0" fill="#555" stroke="none" stroke-width="0" /></g>
<text x="69.3" y="185.0" font-size="45.5" fill="#000" textLength="393.9" lengthAdjust="spacingAndGlyphs"><tspan font-weight="normal">Самоходная&#160;гаубица</tspan></text>
<text x="282.0" y="238.0" font-size="45.5" fill="#000" textLength="181.2" lengthAdjust="spacingAndGlyphs"><tspan font-weight="bold">«Акация»</tspan></text>
<text x="664.9" y="185.0" font-size="45.5" fill="#000" textLength="79.1" lengthAdjust="spacingAndGlyphs"><tspan font-weight="normal">САУ</tspan></text><text x="751.0" y="185.0" font-size="45.5" fill="#000" textLength="216.3" lengthAdjust="spacingAndGlyphs"><tspan font-weight="bold">«Гвоздика»</tspan></text>
<text x="1271.9" y="185.0" font-size="45.5" fill="#000" textLength="361.4" lengthAdjust="spacingAndGlyphs"><tspan font-weight="normal">Самоходная&#160;пушка</tspan></text>
<text x="1396.6" y="238.0" font-size="45.5" fill="#000" textLength="236.7" lengthAdjust="spacingAndGlyphs"><tspan font-weight="bold">«Гиацинт-С»</tspan></text>
<text x="43.7" y="521.0" font-size="45.5" fill="#000" textLength="419.8" lengthAdjust="spacingAndGlyphs"><tspan font-weight="normal">Самоходный&#160;миномёт</tspan></text>
<text x="253.7" y="574.0" font-size="45.5" fill="#000" textLength="209.8" lengthAdjust="spacingAndGlyphs"><tspan font-weight="bold">«Тюльпан»</tspan></text>
<text x="993.2" y="520.4" font-size="45.5" fill="#000" textLength="78.8" lengthAdjust="spacingAndGlyphs"><tspan font-weight="normal">САУ</tspan></text><text x="1079.0" y="520.4" font-size="45.5" fill="#000" textLength="186.7" lengthAdjust="spacingAndGlyphs"><tspan font-weight="bold">«Мальва»</tspan></text>
<text x="145.9" y="860.2" font-size="45.5" fill="#000" textLength="361.1" lengthAdjust="spacingAndGlyphs"><tspan font-weight="normal">Самоходная&#160;пушка</tspan></text><text x="514.0" y="860.2" font-size="45.5" fill="#000" textLength="142.5" lengthAdjust="spacingAndGlyphs"><tspan font-weight="bold">«Пион»</tspan></text>
<text x="954.2" y="881.1" font-size="45.5" fill="#000" textLength="175.3" lengthAdjust="spacingAndGlyphs"><tspan font-weight="normal">Миномёт</tspan></text>
<text x="931.0" y="934.0" font-size="45.5" fill="#000" textLength="198.5" lengthAdjust="spacingAndGlyphs"><tspan font-weight="bold">«Василёк»</tspan></text>
<text x="1188.6" y="854.7" font-size="45.5" fill="#000" textLength="352.1" lengthAdjust="spacingAndGlyphs"><tspan font-weight="normal">Самоходный&#160;ПТРК</tspan></text>
<text x="1188.6" y="908.8" font-size="45.5" fill="#000" textLength="267.5" lengthAdjust="spacingAndGlyphs"><tspan font-weight="bold">«Хризантема»</tspan></text>
<text x="147.7" y="1190.6" font-size="45.5" fill="#000" textLength="105.3" lengthAdjust="spacingAndGlyphs"><tspan font-weight="normal">РСЗО</tspan></text><text x="260.0" y="1190.6" font-size="45.5" fill="#000" textLength="178.9" lengthAdjust="spacingAndGlyphs"><tspan font-weight="bold">«Град-М»</tspan></text>
<text x="1137.9" y="1166.2" font-size="45.5" fill="#000" textLength="105.8" lengthAdjust="spacingAndGlyphs"><tspan font-weight="normal">РСЗО</tspan></text><text x="1250.7" y="1166.2" font-size="45.5" fill="#000" textLength="162.3" lengthAdjust="spacingAndGlyphs"><tspan font-weight="bold">«Смерч»</tspan></text>
<text x="212.6" y="1503.3" font-size="45.5" fill="#000" textLength="105.8" lengthAdjust="spacingAndGlyphs"><tspan font-weight="normal">РСЗО</tspan></text><text x="325.4" y="1503.3" font-size="45.5" fill="#000" textLength="170.3" lengthAdjust="spacingAndGlyphs"><tspan font-weight="bold">«Ураган»</tspan></text>
<text x="1330.6" y="1511.4" font-size="45.5" fill="#000" textLength="104.7" lengthAdjust="spacingAndGlyphs"><tspan font-weight="normal">РСЗО</tspan></text><text x="1442.3" y="1511.4" font-size="45.5" fill="#000" textLength="248.3" lengthAdjust="spacingAndGlyphs"><tspan font-weight="bold">«Торнадо-С»</tspan></text>
<text x="89.9" y="1855.6" font-size="45.5" fill="#000" textLength="803.6" lengthAdjust="spacingAndGlyphs"><tspan font-weight="normal">Межконтинентальный&#160;ракетный&#160;комплекс</tspan></text>
<text x="89.1" y="1910.3" font-size="45.5" fill="#000" textLength="229.5" lengthAdjust="spacingAndGlyphs"><tspan font-weight="bold">«Тополь-М»</tspan></text>
<text x="89.0" y="2198.3" font-size="45.5" fill="#000" textLength="814.6" lengthAdjust="spacingAndGlyphs"><tspan font-weight="normal">Подвижный&#160;грунтовый&#160;ракетный&#160;комплекс</tspan></text>
<text x="89.0" y="2251.4" font-size="45.5" fill="#000" textLength="370.2" lengthAdjust="spacingAndGlyphs"><tspan font-weight="normal">средней&#160;дальности</tspan></text><text x="466.2" y="2251.4" font-size="45.5" fill="#000" textLength="215.3" lengthAdjust="spacingAndGlyphs"><tspan font-weight="bold">«Орешник»</tspan></text>
<text x="89.9" y="2545.0" font-size="45.5" fill="#000" textLength="803.6" lengthAdjust="spacingAndGlyphs"><tspan font-weight="normal">Межконтинентальный&#160;ракетный&#160;комплекс</tspan></text>
<text x="89.0" y="2595.7" font-size="45.5" fill="#000" textLength="135.0" lengthAdjust="spacingAndGlyphs"><tspan font-weight="bold">«Кедр»</tspan></text>
<text x="89.9" y="2897.8" font-size="45.5" fill="#000" textLength="803.6" lengthAdjust="spacingAndGlyphs"><tspan font-weight="normal">Межконтинентальный&#160;ракетный&#160;комплекс</tspan></text>
<text x="89.0" y="2949.2" font-size="45.5" fill="#000" textLength="159.5" lengthAdjust="spacingAndGlyphs"><tspan font-weight="bold">«Осина»</tspan></text>
<text x="76.9" y="3241.7" font-size="45.5" fill="#000" textLength="634.6" lengthAdjust="spacingAndGlyphs"><tspan font-weight="normal">Беспилотный&#160;подводный&#160;аппарат</tspan></text>
<text x="77.0" y="3292.0" font-size="45.5" fill="#000" textLength="231.2" lengthAdjust="spacingAndGlyphs"><tspan font-weight="bold">«Посейдон»</tspan></text>
<text x="78.0" y="3490.4" font-size="45.5" fill="#000" textLength="735.5" lengthAdjust="spacingAndGlyphs"><tspan font-weight="normal">Межконтинентальная&#160;крылатая&#160;ракета</tspan></text>
<text x="78.0" y="3540.8" font-size="45.5" fill="#000" textLength="426.7" lengthAdjust="spacingAndGlyphs"><tspan font-weight="normal">глобальной&#160;дальности</tspan></text><text x="511.7" y="3540.8" font-size="45.5" fill="#000" textLength="284.8" lengthAdjust="spacingAndGlyphs"><tspan font-weight="bold">«Буревестник»</tspan></text>
<text x="1362.5" y="1990.2" font-size="45.5" fill="#000" textLength="173.0" lengthAdjust="spacingAndGlyphs"><tspan font-weight="bold">«Герань»</tspan></text>
<text x="1054.5" y="2062.3" font-size="45.5" fill="#000" textLength="195.7" lengthAdjust="spacingAndGlyphs"><tspan font-weight="bold">«Гербера»</tspan></text>
<text x="1325.0" y="2110.5" font-size="45.5" fill="#000" textLength="19.5" lengthAdjust="spacingAndGlyphs"><tspan font-weight="bold">1</tspan></text>
<text x="1481.6" y="2054.0" font-size="45.5" fill="#000" textLength="22.7" lengthAdjust="spacingAndGlyphs"><tspan font-weight="bold">2</tspan></text>
<text x="1655.8" y="2054.0" font-size="45.5" fill="#000" textLength="23.2" lengthAdjust="spacingAndGlyphs"><tspan font-weight="bold">3</tspan></text>
<text x="1244.5" y="2429.2" font-size="45.5" fill="#000" textLength="207.6" lengthAdjust="spacingAndGlyphs"><tspan font-weight="bold">«Аметист»</tspan></text>
<text x="1111.0" y="2551.7" font-size="45.5" fill="#000" textLength="197.5" lengthAdjust="spacingAndGlyphs"><tspan font-weight="bold">«Базальт»</tspan></text>
<text x="1125.4" y="2697.5" font-size="45.5" fill="#000" textLength="183.1" lengthAdjust="spacingAndGlyphs"><tspan font-weight="bold">«Вулкан»</tspan></text>
<text x="1134.0" y="2870.8" font-size="45.5" fill="#000" textLength="174.5" lengthAdjust="spacingAndGlyphs"><tspan font-weight="bold">«Гранат»</tspan></text>
<text x="1131.0" y="3009.7" font-size="45.5" fill="#000" textLength="177.5" lengthAdjust="spacingAndGlyphs"><tspan font-weight="bold">«Гранит»</tspan></text>
<text x="1071.5" y="3130.5" font-size="45.5" fill="#000" textLength="237.0" lengthAdjust="spacingAndGlyphs"><tspan font-weight="bold">«Метеорит»</tspan></text>
<text x="1210.5" y="3312.5" font-size="45.5" fill="#000" textLength="167.9" lengthAdjust="spacingAndGlyphs"><tspan font-weight="bold">«Оникс»</tspan></text>
<text x="1113.0" y="3455.4" font-size="45.5" fill="#000" textLength="195.5" lengthAdjust="spacingAndGlyphs"><tspan font-weight="bold">«Циркон»</tspan></text>
<text x="1221.8" y="3611.4" font-size="45.5" fill="#000" textLength="156.6" lengthAdjust="spacingAndGlyphs"><tspan font-weight="bold">«Яхонт»</tspan></text>
<rect x="905" y="3632" width="134" height="67" fill="#fff"/>
<rect x="916" y="3642" width="47" height="47" fill="#3b2a6e"/>
<rect x="922" y="3642" width="7" height="5" fill="#fff"/>
<rect x="922" y="3650" width="7" height="32" fill="#fff"/>
<path d="M931 3655 H956 V3661 L941 3678 H957 V3684 H931 V3678 L946 3661 H931 Z" fill="#fff"/>
<text x="968" y="3683" font-size="37" font-weight="bold" fill="#3b2a6e" stroke="#3b2a6e" stroke-width="1.4" textLength="61" lengthAdjust="spacingAndGlyphs">.RU</text>
</svg></body></html>
